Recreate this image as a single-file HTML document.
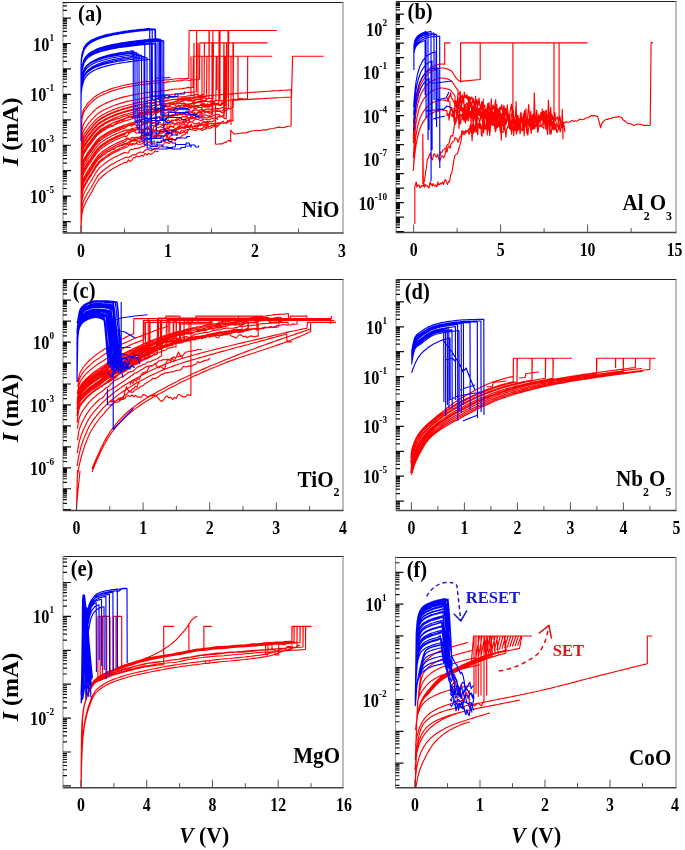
<!DOCTYPE html>
<html><head><meta charset="utf-8"><style>
html,body{margin:0;padding:0;background:#fff;}
svg{display:block;font-family:"Liberation Serif",serif;filter:blur(0.3px);}
</style></head><body>
<svg width="685" height="850" viewBox="0 0 685 850">
<rect width="685" height="850" fill="#fff"/>
<defs><clipPath id="ca"><rect x="63" y="2" width="280" height="231"/></clipPath><clipPath id="cb"><rect x="396" y="1.5" width="280" height="231.0"/></clipPath><clipPath id="cc"><rect x="63" y="279.6" width="280" height="230.79999999999995"/></clipPath><clipPath id="cd"><rect x="396" y="279.6" width="280" height="230.79999999999995"/></clipPath><clipPath id="ce"><rect x="63" y="556.6" width="280" height="231.10000000000002"/></clipPath><clipPath id="cf"><rect x="395.5" y="557" width="280.5" height="230.70000000000005"/></clipPath></defs>
<g clip-path="url(#ca)" fill="none" stroke-width="1.15" stroke-linejoin="round">
<path stroke="#f00" d="M81.0,233.0L81.2,162.3L81.5,136.5L81.7,122.4L81.9,116.5L81.9,116.5L82.7,112.6L83.4,110.1L84.2,108.5L84.9,107.5L85.7,106.5L86.4,105.3L87.2,104.2L87.9,103.2L88.7,102.4L89.4,101.6L90.2,100.8L91.0,100.1L91.7,99.4L92.5,98.7L93.2,98.1L94.0,97.4L94.7,96.8L95.5,96.3L96.2,95.7L97.0,95.2L97.7,94.7L98.5,94.3L99.2,93.9L100.0,93.5L100.0,93.5L101.8,92.6L103.7,91.8L105.5,91.0L107.4,90.3L109.2,89.6L111.1,88.9L112.9,88.3L114.7,87.7L116.6,87.2L118.4,86.7L120.3,86.2L122.1,85.7L123.9,85.3L125.8,84.9L127.6,84.6L129.5,84.2L131.3,83.9L133.2,83.6L135.0,83.4L135.0,83.4L136.6,83.0L138.3,82.7L139.9,82.3L141.5,82.1L143.2,82.0L144.8,81.7L146.4,81.4L148.0,81.5L149.7,81.5L151.3,81.3L152.9,81.1L154.6,81.0L156.2,81.0L157.8,80.7L159.5,80.6L161.1,80.6L162.7,80.3L164.3,80.0L166.0,79.9L167.6,79.8L169.2,79.8L170.9,79.4L172.5,79.2L174.1,79.0L175.8,78.7L177.4,78.7L179.0,78.8L180.7,78.5L182.3,78.7L183.9,78.7L185.5,78.5L187.2,78.4L188.8,78.4L189.1,30.5L277.0,30.5M81.0,233.0L81.2,164.1L81.5,139.0L81.7,125.2L81.9,119.4L81.9,119.4L82.7,115.5L83.4,113.0L84.2,111.4L84.9,110.4L85.7,109.4L86.4,108.2L87.2,107.1L87.9,106.1L88.7,105.2L89.4,104.4L90.2,103.6L91.0,102.9L91.7,102.2L92.5,101.5L93.2,100.8L94.0,100.2L94.7,99.5L95.5,98.9L96.2,98.4L97.0,97.8L97.7,97.3L98.5,96.9L99.2,96.4L100.0,96.0L100.0,96.0L101.8,95.2L103.7,94.3L105.5,93.5L107.4,92.8L109.2,92.0L111.1,91.4L112.9,90.7L114.7,90.1L116.6,89.6L118.4,89.0L120.3,88.5L122.1,88.1L123.9,87.6L125.8,87.2L127.6,86.9L129.5,86.5L131.3,86.2L133.2,85.9L135.0,85.6L135.0,85.6L136.6,85.5L138.2,84.9L139.8,84.8L141.5,84.6L143.1,84.6L144.7,84.2L146.3,84.1L147.9,83.9L149.5,83.6L151.1,83.6L152.7,83.4L154.4,83.3L156.0,83.0L157.6,83.0L159.2,82.9L160.8,82.6L162.4,82.5L164.0,82.5L165.7,82.6L167.3,81.9L168.9,81.9L170.5,81.8L172.1,81.5L173.7,81.1L175.3,81.3L176.9,80.8L178.6,80.9L180.2,81.0L181.8,80.4L183.4,80.3L185.0,80.0L186.6,80.0L188.2,80.3L189.9,80.5L191.5,79.8L193.1,79.6L194.7,79.7L196.3,79.8L197.9,79.7L199.5,79.3L199.8,42.9L267.6,42.9M81.0,233.0L81.2,171.5L81.5,148.9L81.7,136.4L81.9,131.1L81.9,131.1L82.7,127.2L83.4,124.6L84.2,123.0L84.9,121.9L85.7,120.9L86.4,119.7L87.2,118.5L87.9,117.5L88.7,116.6L89.4,115.7L90.2,114.9L91.0,114.1L91.7,113.3L92.5,112.5L93.2,111.7L94.0,111.0L94.7,110.3L95.5,109.6L96.2,108.9L97.0,108.3L97.7,107.7L98.5,107.2L99.2,106.7L100.0,106.2L100.0,106.2L101.8,105.3L103.7,104.3L105.5,103.4L107.4,102.6L109.2,101.8L111.1,101.1L112.9,100.3L114.7,99.7L116.6,99.1L118.4,98.5L120.3,97.9L122.1,97.4L123.9,96.9L125.8,96.5L127.6,96.1L129.5,95.7L131.3,95.3L133.2,94.9L135.0,94.6L135.0,94.6L136.6,94.2L138.2,93.8L139.8,93.7L141.4,93.5L143.1,93.2L144.7,92.9L146.3,92.5L147.9,92.3L149.5,92.4L151.1,92.1L152.7,91.6L154.3,91.7L156.0,91.6L157.6,91.7L159.2,91.3L160.8,90.9L162.4,90.4L164.0,90.5L165.6,90.8L167.2,90.2L168.9,89.9L170.5,89.8L172.1,89.4L173.7,89.2L175.3,89.0L176.9,89.0L178.5,89.0L180.1,88.8L181.8,88.7L183.4,88.4L185.0,88.3L186.6,87.7L188.2,87.4L189.8,87.6L191.4,87.4L193.0,87.5L193.3,56.2L272.3,56.2M81.0,233.0L81.2,175.9L81.5,154.7L81.7,143.0L81.9,137.9L81.9,137.9L82.7,134.0L83.4,131.4L84.2,129.8L84.9,128.7L85.7,127.7L86.4,126.4L87.2,125.2L87.9,124.2L88.7,123.2L89.4,122.3L90.2,121.5L91.0,120.6L91.7,119.7L92.5,118.9L93.2,118.1L94.0,117.3L94.7,116.5L95.5,115.8L96.2,115.1L97.0,114.4L97.7,113.8L98.5,113.2L99.2,112.7L100.0,112.2L100.0,112.2L101.8,111.1L103.7,110.1L105.5,109.2L107.4,108.3L109.2,107.5L111.1,106.7L112.9,106.0L114.7,105.3L116.6,104.6L118.4,104.0L120.3,103.4L122.1,102.9L123.9,102.4L125.8,101.9L127.6,101.4L129.5,101.0L131.3,100.6L133.2,100.2L135.0,99.8L135.0,99.8L136.6,99.7L138.2,99.5L139.9,99.0L141.5,98.6L143.1,98.2L144.7,97.9L146.3,97.5L147.9,97.3L149.6,97.1L151.2,97.0L152.8,96.7L154.4,96.2L156.0,96.1L157.6,96.0L159.3,96.0L160.9,95.8L162.5,95.4L164.1,95.1L165.7,95.3L167.3,95.1L169.0,95.0L170.6,95.0L172.2,94.4L173.8,94.2L175.4,94.0L177.0,93.9L178.7,93.7L180.3,93.4L181.9,93.2L183.5,92.8L185.1,92.7L186.7,92.4L188.4,92.4L190.0,92.2L191.6,92.2L193.2,92.1L194.8,92.0L196.4,91.8L196.7,30.5L277.0,30.5M81.0,233.0L81.2,178.9L81.5,158.7L81.7,147.5L81.9,142.7L81.9,142.7L82.7,138.7L83.4,136.1L84.2,134.5L84.9,133.4L85.7,132.4L86.4,131.1L87.2,129.9L87.9,128.8L88.7,127.9L89.4,126.9L90.2,126.1L91.0,125.2L91.7,124.3L92.5,123.4L93.2,122.6L94.0,121.7L94.7,120.9L95.5,120.1L96.2,119.4L97.0,118.7L97.7,118.0L98.5,117.4L99.2,116.9L100.0,116.4L100.0,116.4L101.8,115.3L103.7,114.2L105.5,113.3L107.4,112.3L109.2,111.5L111.1,110.7L112.9,109.9L114.7,109.2L116.6,108.5L118.4,107.9L120.3,107.3L122.1,106.7L123.9,106.2L125.8,105.7L127.6,105.2L129.5,104.7L131.3,104.3L133.2,103.8L135.0,103.4L135.0,103.4L136.6,102.9L138.2,102.4L139.8,102.4L141.4,102.2L143.0,102.1L144.6,101.2L146.2,101.5L147.9,100.8L149.5,100.3L151.1,100.2L152.7,99.8L154.3,99.9L155.9,99.5L157.5,98.9L159.1,98.5L160.7,99.2L162.3,98.9L163.9,98.2L165.5,98.1L167.1,97.3L168.7,98.3L170.3,97.3L171.9,97.5L173.6,97.5L175.2,96.6L176.8,96.8L178.4,97.1L180.0,97.0L181.6,96.8L183.2,96.8L184.8,96.5L186.4,96.3L188.0,95.9L189.6,95.9L191.2,95.2L192.8,95.4L194.4,95.0L196.0,94.4L197.6,94.6L199.3,95.2L200.9,95.3L202.5,94.5L204.1,94.6L204.4,42.9L267.6,42.9M81.0,233.0L81.2,181.3L81.5,161.9L81.7,151.2L81.9,146.5L81.9,146.5L82.7,142.5L83.4,139.9L84.2,138.3L84.9,137.2L85.7,136.1L86.4,134.8L87.2,133.6L87.9,132.5L88.7,131.6L89.4,130.6L90.2,129.7L91.0,128.8L91.7,127.9L92.5,127.0L93.2,126.1L94.0,125.2L94.7,124.4L95.5,123.6L96.2,122.8L97.0,122.1L97.7,121.4L98.5,120.8L99.2,120.2L100.0,119.7L100.0,119.7L101.8,118.5L103.7,117.5L105.5,116.5L107.4,115.5L109.2,114.6L111.1,113.8L112.9,113.0L114.7,112.3L116.6,111.6L118.4,110.9L120.3,110.3L122.1,109.7L123.9,109.2L125.8,108.7L127.6,108.2L129.5,107.7L131.3,107.2L133.2,106.8L135.0,106.4L135.0,106.4L136.6,106.0L138.3,104.9L139.9,104.9L141.5,104.4L143.1,104.1L144.8,103.5L146.4,103.1L148.0,102.9L149.7,103.3L151.3,103.7L152.9,103.2L154.5,103.3L156.2,102.7L157.8,101.7L159.4,101.7L161.0,101.7L162.7,101.3L164.3,101.3L165.9,101.2L167.6,100.6L169.2,100.0L170.8,99.9L172.4,99.8L174.1,99.6L175.7,99.8L177.3,100.2L179.0,99.5L180.6,99.5L182.2,99.5L183.8,99.3L185.5,99.2L187.1,98.6L188.7,98.6L190.4,98.9L192.0,98.7L193.6,97.9L195.2,97.9L196.9,98.0L198.5,97.7L200.1,97.1L201.8,97.4L203.4,96.6L205.0,96.7L206.6,96.5L206.9,56.2L272.3,56.2M81.0,233.0L81.2,183.2L81.5,164.5L81.7,154.1L81.9,149.6L81.9,149.6L82.7,145.5L83.4,142.9L84.2,141.3L84.9,140.2L85.7,139.1L86.4,137.8L87.2,136.6L87.9,135.5L88.7,134.5L89.4,133.6L90.2,132.6L91.0,131.7L91.7,130.8L92.5,129.8L93.2,128.9L94.0,128.0L94.7,127.2L95.5,126.3L96.2,125.5L97.0,124.8L97.7,124.1L98.5,123.4L99.2,122.8L100.0,122.3L100.0,122.3L101.8,121.2L103.7,120.1L105.5,119.0L107.4,118.1L109.2,117.2L111.1,116.3L112.9,115.5L114.7,114.8L116.6,114.1L118.4,113.4L120.3,112.8L122.1,112.2L123.9,111.6L125.8,111.1L127.6,110.5L129.5,110.0L131.3,109.6L133.2,109.1L135.0,108.7L135.0,108.7L136.6,108.9L138.2,107.7L139.8,107.8L141.4,107.2L143.0,105.9L144.7,105.7L146.3,105.9L147.9,106.1L149.5,105.9L151.1,105.6L152.7,105.6L154.3,105.1L155.9,105.4L157.5,104.9L159.1,104.6L160.8,104.5L162.4,103.5L164.0,102.9L165.6,103.7L167.2,103.4L168.8,102.9L170.4,102.8L172.0,102.2L173.6,102.1L175.2,101.5L176.9,101.6L178.5,100.6L180.1,101.4L181.7,100.8L183.3,99.9L184.9,99.9L186.5,99.8L188.1,100.0L189.7,99.3L191.3,99.6L192.9,101.5L194.6,99.9L196.2,99.8L197.8,99.3L199.4,99.2L201.0,98.0L202.6,97.6L204.2,98.1L205.8,98.1L207.4,99.0L209.0,98.2L209.3,30.5L277.0,30.5M81.0,233.0L81.2,183.9L81.5,165.4L81.7,155.1L81.9,150.6L81.9,150.6L82.7,146.6L83.4,144.0L84.2,142.4L84.9,141.2L85.7,140.2L86.4,138.8L87.2,137.6L87.9,136.5L88.7,135.5L89.4,134.6L90.2,133.7L91.0,132.7L91.7,131.8L92.5,130.8L93.2,129.9L94.0,129.0L94.7,128.2L95.5,127.3L96.2,126.5L97.0,125.7L97.7,125.0L98.5,124.4L99.2,123.8L100.0,123.2L100.0,123.2L101.8,122.1L103.7,121.0L105.5,119.9L107.4,119.0L109.2,118.1L111.1,117.2L112.9,116.4L114.7,115.6L116.6,114.9L118.4,114.3L120.3,113.6L122.1,113.0L123.9,112.4L125.8,111.9L127.6,111.4L129.5,110.9L131.3,110.4L133.2,109.9L135.0,109.5L135.0,109.5L136.6,109.5L138.3,108.6L139.9,108.3L141.5,108.0L143.1,108.1L144.8,107.7L146.4,107.0L148.0,106.8L149.7,107.7L151.3,107.5L152.9,105.5L154.5,105.4L156.2,104.9L157.8,105.1L159.4,104.8L161.0,105.4L162.7,105.2L164.3,105.0L165.9,104.5L167.6,104.0L169.2,103.8L170.8,103.9L172.4,103.6L174.1,103.0L175.7,103.2L177.3,102.8L179.0,102.3L180.6,101.7L182.2,101.3L183.8,101.0L185.5,99.8L187.1,100.6L188.7,100.9L190.3,100.6L192.0,100.9L193.6,100.8L195.2,100.6L196.9,99.2L198.5,99.3L200.1,99.6L201.7,100.1L203.4,100.5L205.0,100.5L206.6,99.3L208.3,98.1L209.9,98.5L211.5,98.5L213.1,98.8L213.4,42.9L267.6,42.9M81.0,233.0L81.2,185.8L81.5,168.0L81.7,158.0L81.9,153.6L81.9,153.6L82.7,149.6L83.4,147.0L84.2,145.4L84.9,144.2L85.7,143.1L86.4,141.8L87.2,140.6L87.9,139.5L88.7,138.5L89.4,137.5L90.2,136.6L91.0,135.6L91.7,134.6L92.5,133.7L93.2,132.7L94.0,131.8L94.7,130.9L95.5,130.1L96.2,129.2L97.0,128.4L97.7,127.7L98.5,127.0L99.2,126.4L100.0,125.9L100.0,125.9L101.8,124.7L103.7,123.6L105.5,122.5L107.4,121.5L109.2,120.6L111.1,119.7L112.9,118.9L114.7,118.1L116.6,117.4L118.4,116.7L120.3,116.0L122.1,115.4L123.9,114.8L125.8,114.3L127.6,113.8L129.5,113.2L131.3,112.7L133.2,112.3L135.0,111.8L135.0,111.8L136.6,110.4L138.2,110.8L139.9,110.2L141.5,110.3L143.1,110.3L144.7,109.8L146.3,109.7L147.9,109.3L149.6,109.4L151.2,109.3L152.8,108.3L154.4,107.5L156.0,108.7L157.7,107.9L159.3,108.2L160.9,107.8L162.5,106.7L164.1,105.8L165.7,105.9L167.4,105.9L169.0,106.0L170.6,104.7L172.2,104.3L173.8,104.3L175.4,105.5L177.1,103.2L178.7,103.8L180.3,103.3L181.9,103.7L183.5,103.1L185.2,103.4L186.8,104.3L188.4,103.9L190.0,103.7L191.6,103.4L193.2,102.3L194.9,102.6L196.5,102.1L198.1,101.3L199.7,101.3L201.3,101.1L203.0,101.7L204.6,101.4L206.2,100.8L207.8,101.8L209.4,102.0L211.0,102.3L212.7,101.9L214.3,101.1L215.9,100.3L216.2,56.2L272.3,56.2M81.0,233.0L81.2,188.9L81.5,172.2L81.7,162.8L81.9,158.6L81.9,158.6L82.7,154.6L83.4,152.0L84.2,150.3L84.9,149.2L85.7,148.0L86.4,146.7L87.2,145.4L87.9,144.3L88.7,143.3L89.4,142.3L90.2,141.4L91.0,140.4L91.7,139.4L92.5,138.4L93.2,137.4L94.0,136.4L94.7,135.5L95.5,134.6L96.2,133.7L97.0,132.9L97.7,132.1L98.5,131.4L99.2,130.8L100.0,130.2L100.0,130.2L101.8,129.0L103.7,127.8L105.5,126.7L107.4,125.7L109.2,124.7L111.1,123.8L112.9,123.0L114.7,122.2L116.6,121.4L118.4,120.7L120.3,120.0L122.1,119.4L123.9,118.8L125.8,118.2L127.6,117.7L129.5,117.1L131.3,116.6L133.2,116.1L135.0,115.6L135.0,115.6L136.6,115.7L138.2,114.1L139.8,114.0L141.4,112.9L143.1,113.1L144.7,112.3L146.3,111.6L147.9,111.9L149.5,111.9L151.1,110.7L152.7,111.5L154.3,112.7L155.9,111.0L157.6,112.0L159.2,110.8L160.8,110.2L162.4,109.9L164.0,108.7L165.6,109.8L167.2,109.7L168.8,108.8L170.4,108.5L172.1,107.4L173.7,107.4L175.3,108.1L176.9,106.7L178.5,106.6L180.1,106.9L181.7,107.5L183.3,108.0L184.9,107.1L186.6,106.2L188.2,106.4L189.8,106.0L191.4,105.6L193.0,106.3L194.6,107.0L196.2,106.4L197.8,105.7L199.4,105.7L201.1,104.0L202.7,104.1L204.3,103.5L205.9,105.3L207.5,105.2L209.1,104.7L210.7,104.1L212.3,102.2L213.9,103.1L215.6,104.2L217.2,103.2L218.8,103.5L219.1,30.5L277.0,30.5M81.0,233.0L81.2,189.1L81.5,172.3L81.7,163.0L81.9,158.8L81.9,158.8L82.7,154.8L83.4,152.2L84.2,150.5L84.9,149.3L85.7,148.2L86.4,146.9L87.2,145.6L87.9,144.5L88.7,143.5L89.4,142.5L90.2,141.5L91.0,140.5L91.7,139.6L92.5,138.6L93.2,137.6L94.0,136.6L94.7,135.7L95.5,134.8L96.2,133.9L97.0,133.1L97.7,132.3L98.5,131.6L99.2,131.0L100.0,130.4L100.0,130.4L101.8,129.1L103.7,128.0L105.5,126.9L107.4,125.9L109.2,124.9L111.1,124.0L112.9,123.1L114.7,122.3L116.6,121.6L118.4,120.9L120.3,120.2L122.1,119.6L123.9,119.0L125.8,118.4L127.6,117.8L129.5,117.3L131.3,116.7L133.2,116.3L135.0,115.8L135.0,115.8L136.6,115.4L138.2,116.1L139.8,115.4L141.4,114.7L143.1,114.8L144.7,112.9L146.3,112.9L147.9,113.5L149.5,112.0L151.1,112.7L152.7,111.9L154.3,110.0L155.9,110.3L157.5,109.7L159.2,110.2L160.8,109.2L162.4,110.3L164.0,109.4L165.6,109.7L167.2,108.9L168.8,108.6L170.4,109.5L172.0,109.2L173.7,108.4L175.3,107.2L176.9,108.3L178.5,108.5L180.1,107.7L181.7,107.6L183.3,106.4L184.9,105.7L186.5,105.3L188.1,105.9L189.8,106.2L191.4,105.4L193.0,106.1L194.6,106.4L196.2,106.1L197.8,106.5L199.4,105.6L201.0,105.1L202.6,105.3L204.3,104.9L205.9,105.2L207.5,103.8L209.1,104.9L210.7,103.8L212.3,103.6L213.9,102.4L215.5,103.2L217.1,104.2L218.7,104.6L220.4,104.5L222.0,102.5L223.6,101.9L223.9,42.9L267.6,42.9M81.0,233.0L81.2,190.9L81.5,174.8L81.7,165.8L81.9,161.7L81.9,161.7L82.7,157.7L83.4,155.1L84.2,153.4L84.9,152.2L85.7,151.1L86.4,149.8L87.2,148.5L87.9,147.4L88.7,146.3L89.4,145.4L90.2,144.4L91.0,143.3L91.7,142.3L92.5,141.3L93.2,140.3L94.0,139.3L94.7,138.4L95.5,137.4L96.2,136.5L97.0,135.7L97.7,134.9L98.5,134.2L99.2,133.5L100.0,132.9L100.0,132.9L101.8,131.7L103.7,130.5L105.5,129.4L107.4,128.3L109.2,127.3L111.1,126.4L112.9,125.5L114.7,124.7L116.6,124.0L118.4,123.2L120.3,122.6L122.1,121.9L123.9,121.3L125.8,120.7L127.6,120.1L129.5,119.6L131.3,119.0L133.2,118.5L135.0,118.0L135.0,118.0L136.6,118.0L138.2,117.6L139.9,117.0L141.5,116.9L143.1,115.7L144.7,114.8L146.3,114.2L147.9,114.7L149.6,114.8L151.2,114.9L152.8,115.2L154.4,113.4L156.0,112.8L157.7,112.9L159.3,111.7L160.9,111.5L162.5,112.4L164.1,112.9L165.7,113.1L167.4,112.3L169.0,111.5L170.6,111.9L172.2,111.0L173.8,110.9L175.5,111.4L177.1,110.4L178.7,109.5L180.3,109.3L181.9,109.6L183.6,109.6L185.2,109.3L186.8,109.3L188.4,107.6L190.0,107.0L191.6,107.4L193.3,106.7L194.9,106.0L196.5,105.5L198.1,105.4L199.7,105.8L201.4,105.3L203.0,105.9L204.6,107.3L206.2,106.7L207.8,107.3L209.4,106.9L211.1,105.5L212.7,105.3L214.3,104.5L215.9,105.3L217.5,104.3L219.2,105.5L220.8,105.6L222.4,103.6L224.0,104.5L225.6,105.5L225.9,56.2L272.3,56.2M81.0,233.0L81.2,194.2L81.5,179.2L81.7,170.8L81.9,166.9L81.9,166.9L82.7,162.9L83.4,160.2L84.2,158.6L84.9,157.4L85.7,156.2L86.4,154.8L87.2,153.6L87.9,152.4L88.7,151.4L89.4,150.4L90.2,149.3L91.0,148.3L91.7,147.2L92.5,146.2L93.2,145.1L94.0,144.1L94.7,143.1L95.5,142.1L96.2,141.2L97.0,140.3L97.7,139.5L98.5,138.7L99.2,138.0L100.0,137.4L100.0,137.4L101.8,136.1L103.7,134.9L105.5,133.7L107.4,132.7L109.2,131.6L111.1,130.7L112.9,129.8L114.7,129.0L116.6,128.2L118.4,127.4L120.3,126.7L122.1,126.0L123.9,125.4L125.8,124.8L127.6,124.2L129.5,123.6L131.3,123.0L133.2,122.5L135.0,122.0L135.0,122.0L136.6,120.6L138.2,120.8L139.8,119.3L141.4,119.8L143.0,118.3L144.7,116.6L146.3,117.7L147.9,119.7L149.5,118.6L151.1,118.8L152.7,118.3L154.3,117.6L155.9,117.7L157.5,118.4L159.1,116.6L160.8,116.7L162.4,116.5L164.0,114.9L165.6,116.1L167.2,117.0L168.8,115.3L170.4,116.1L172.0,115.3L173.6,114.5L175.2,115.2L176.9,114.5L178.5,114.1L180.1,114.6L181.7,114.7L183.3,114.4L184.9,112.4L186.5,110.9L188.1,112.0L189.7,111.0L191.3,111.2L193.0,110.3L194.6,110.3L196.2,109.4L197.8,111.0L199.4,109.9L201.0,109.8L202.6,109.7L204.2,110.6L205.8,109.0L207.4,109.1L209.1,108.9L210.7,109.3L212.3,109.5L213.9,108.8L215.5,108.8L217.1,108.3L218.7,108.6L220.3,108.3L221.9,107.6L223.5,107.6L225.1,107.8L226.8,109.3L228.4,108.1L228.7,30.5L277.0,30.5M81.0,233.0L81.2,195.3L81.5,180.7L81.7,172.4L81.9,168.7L81.9,168.7L82.7,164.6L83.4,162.0L84.2,160.3L84.9,159.1L85.7,158.0L86.4,156.6L87.2,155.3L87.9,154.1L88.7,153.1L89.4,152.1L90.2,151.0L91.0,150.0L91.7,148.9L92.5,147.8L93.2,146.8L94.0,145.7L94.7,144.7L95.5,143.7L96.2,142.8L97.0,141.9L97.7,141.0L98.5,140.3L99.2,139.6L100.0,139.0L100.0,139.0L101.8,137.6L103.7,136.4L105.5,135.2L107.4,134.1L109.2,133.1L111.1,132.1L112.9,131.2L114.7,130.4L116.6,129.6L118.4,128.8L120.3,128.1L122.1,127.4L123.9,126.8L125.8,126.2L127.6,125.5L129.5,125.0L131.3,124.4L133.2,123.8L135.0,123.3L135.0,123.3L136.6,122.0L138.2,120.6L139.8,120.0L141.4,120.3L143.1,122.3L144.7,121.8L146.3,122.0L147.9,120.9L149.5,118.4L151.1,116.8L152.7,118.3L154.3,118.5L155.9,117.3L157.5,118.3L159.2,116.8L160.8,117.7L162.4,118.5L164.0,117.1L165.6,115.9L167.2,116.5L168.8,115.3L170.4,116.0L172.0,114.7L173.7,115.4L175.3,115.1L176.9,114.5L178.5,113.6L180.1,113.9L181.7,112.3L183.3,112.5L184.9,112.5L186.5,113.2L188.1,112.0L189.8,113.5L191.4,112.8L193.0,111.6L194.6,112.8L196.2,113.6L197.8,112.6L199.4,111.4L201.0,111.3L202.6,110.6L204.3,110.4L205.9,111.7L207.5,111.5L209.1,111.1L210.7,110.9L212.3,110.5L213.9,110.8L215.5,111.0L217.1,110.1L218.8,109.8L220.4,111.4L222.0,110.7L223.6,109.8L225.2,110.9L226.8,109.9L228.4,108.4L230.0,108.9L231.6,107.8L233.2,107.5L233.5,42.9L267.6,42.9M81.0,233.0L81.2,196.5L81.5,182.3L81.7,174.3L81.9,170.6L81.9,170.6L82.7,166.6L83.4,163.9L84.2,162.2L84.9,161.0L85.7,159.9L86.4,158.5L87.2,157.2L87.9,156.0L88.7,155.0L89.4,153.9L90.2,152.9L91.0,151.8L91.7,150.8L92.5,149.7L93.2,148.6L94.0,147.5L94.7,146.5L95.5,145.5L96.2,144.5L97.0,143.6L97.7,142.8L98.5,142.0L99.2,141.3L100.0,140.7L100.0,140.7L101.8,139.4L103.6,138.1L105.4,137.0L107.1,135.9L108.9,134.9L110.7,133.9L112.5,133.0L114.3,132.2L116.1,131.4L117.9,130.6L119.6,129.9L121.4,129.2L123.2,128.6L125.0,128.0L125.0,128.0L126.6,126.6L128.3,125.8L129.9,125.1L131.5,126.3L133.1,124.9L134.8,124.0L136.4,125.9L138.0,124.3L139.7,125.2L141.3,125.4L142.9,124.0L144.5,121.7L146.2,122.0L147.8,122.3L149.4,122.6L151.0,121.8L152.7,122.3L154.3,122.6L155.9,122.0L157.6,121.2L159.2,120.4L160.8,119.1L162.4,118.4L164.1,120.0L165.7,120.0L167.3,117.1L169.0,117.1L170.6,116.8L172.2,116.5L173.8,115.8L175.5,114.4L177.1,115.7L178.7,114.6L180.3,114.5L182.0,114.0L183.6,113.5L185.2,114.6L186.9,114.8L188.5,113.8L190.1,112.8L191.7,112.7L193.4,113.9L195.0,113.7L196.6,113.6L198.3,112.9L199.9,112.5L201.5,112.6L203.1,110.6L204.8,112.7L206.4,111.6L208.0,111.0L209.6,112.5M81.0,233.0L81.2,198.5L81.5,185.0L81.7,177.3L81.9,173.7L81.9,173.7L82.7,169.7L83.4,167.1L84.2,165.3L84.9,164.1L85.7,163.0L86.4,161.5L87.2,160.2L87.9,159.1L88.7,158.0L89.4,157.0L90.2,155.9L91.0,154.8L91.7,153.7L92.5,152.6L93.2,151.5L94.0,150.4L94.7,149.4L95.5,148.3L96.2,147.4L97.0,146.4L97.7,145.5L98.5,144.7L99.2,144.0L100.0,143.4L100.0,143.4L101.8,142.1L103.6,140.8L105.4,139.6L107.1,138.5L108.9,137.5L110.7,136.5L112.5,135.6L114.3,134.8L116.1,133.9L117.9,133.2L119.6,132.4L121.4,131.7L123.2,131.1L125.0,130.4L125.0,130.4L126.6,129.8L128.2,130.9L129.8,129.3L131.4,128.8L133.0,128.3L134.6,128.1L136.2,127.6L137.8,127.2L139.4,127.2L141.0,125.2L142.6,124.9L144.2,123.7L145.8,123.9L147.4,122.9L149.0,122.3L150.6,122.4L152.2,123.4L153.8,123.3L155.4,122.9L157.1,123.4L158.7,121.8L160.3,119.8L161.9,119.8L163.5,119.7L165.1,120.7L166.7,121.8L168.3,119.8L169.9,121.3L171.5,121.4L173.1,120.8L174.7,120.0L176.3,121.0L177.9,119.7L179.5,118.4L181.1,118.0L182.7,116.5L184.3,116.9L185.9,116.6L187.5,116.7L189.1,121.0L190.7,115.5L192.3,116.5L193.9,115.3L195.5,115.9L197.1,114.3L198.7,116.2L200.3,114.1L201.9,114.2L203.5,113.7L205.1,112.2L206.7,112.0L208.3,112.7L209.9,113.4L211.5,112.3L213.1,111.0L214.7,111.1L216.3,111.6L217.9,111.5L219.6,111.3L221.2,112.3L222.8,112.9L224.4,113.1L224.7,56.2M81.0,233.0L81.2,200.5L81.5,187.7L81.7,180.4L81.9,176.9L81.9,176.9L82.7,172.9L83.4,170.3L84.2,168.6L84.9,167.3L85.7,166.1L86.4,164.7L87.2,163.4L87.9,162.2L88.7,161.1L89.4,160.1L90.2,159.0L91.0,157.9L91.7,156.8L92.5,155.6L93.2,154.5L94.0,153.4L94.7,152.3L95.5,151.3L96.2,150.3L97.0,149.3L97.7,148.4L98.5,147.6L99.2,146.8L100.0,146.2L100.0,146.2L101.8,144.8L103.6,143.6L105.4,142.4L107.1,141.2L108.9,140.2L110.7,139.2L112.5,138.3L114.3,137.4L116.1,136.6L117.9,135.8L119.6,135.0L121.4,134.3L123.2,133.6L125.0,133.0L125.0,133.0L126.6,132.0L128.2,129.8L129.9,131.9L131.5,129.5L133.1,129.2L134.7,129.8L136.4,129.7L138.0,129.6L139.6,129.6L141.2,130.0L142.8,129.0L144.5,130.9L146.1,128.0L147.7,127.3L149.3,126.2L151.0,125.1L152.6,125.2L154.2,126.3L155.8,124.7L157.5,123.5L159.1,124.2L160.7,124.2L162.3,125.5L163.9,125.3L165.6,124.2L167.2,124.0L168.8,122.5L170.4,121.7L172.1,120.0L173.7,120.2L175.3,120.0L176.9,118.7L178.5,119.3L180.2,121.0L181.8,121.0L183.4,121.1L185.0,119.5L186.7,118.0L188.3,117.8L189.9,118.1L191.5,117.6L193.1,117.4L194.8,117.6L196.4,118.1L198.0,116.6L199.6,116.2L201.3,115.7L202.9,116.1L204.5,114.9L206.1,115.1L207.7,116.1L209.4,115.9L211.0,114.7L212.6,114.3L212.9,30.5M81.0,233.0L81.2,201.5L81.5,189.0L81.7,181.9L81.9,178.5L81.9,178.5L82.7,174.5L83.4,171.8L84.2,170.1L84.9,168.9L85.7,167.7L86.4,166.2L87.2,164.9L87.9,163.7L88.7,162.6L89.4,161.6L90.2,160.5L91.0,159.4L91.7,158.3L92.5,157.1L93.2,156.0L94.0,154.9L94.7,153.8L95.5,152.7L96.2,151.7L97.0,150.7L97.7,149.8L98.5,149.0L99.2,148.2L100.0,147.6L100.0,147.6L101.8,146.2L103.6,144.9L105.4,143.7L107.1,142.5L108.9,141.5L110.7,140.5L112.5,139.5L114.3,138.7L116.1,137.8L117.9,137.0L119.6,136.3L121.4,135.6L123.2,134.9L125.0,134.2L125.0,134.2L126.6,132.3L128.2,132.8L129.9,131.4L131.5,130.5L133.1,129.6L134.7,130.6L136.3,130.1L137.9,127.8L139.6,128.8L141.2,130.5L142.8,131.1L144.4,129.2L146.0,128.5L147.7,128.3L149.3,128.4L150.9,127.5L152.5,130.7L154.1,126.3L155.7,126.4L157.4,124.5L159.0,124.1L160.6,124.3L162.2,124.1L163.8,124.3L165.5,124.5L167.1,124.3L168.7,123.4L170.3,121.7L171.9,122.3L173.6,123.3L175.2,124.2L176.8,122.9L178.4,122.0L180.0,122.7L181.6,123.0L183.3,122.1L184.9,121.8L186.5,120.2L188.1,120.3L189.7,119.0L191.4,118.8L193.0,118.6L194.6,118.1L196.2,116.2L197.8,116.1L199.4,117.1L201.1,117.2L202.7,116.9L204.3,117.3L205.9,117.8L207.5,118.1L209.2,117.3L210.8,116.6L212.4,116.1L214.0,115.3L215.6,114.2L217.2,114.7L218.9,114.2L220.5,116.6L222.1,115.9L223.7,115.3L224.0,42.9M81.0,233.0L81.2,203.0L81.5,191.0L81.7,184.1L81.9,180.9L81.9,180.9L82.7,176.8L83.4,174.2L84.2,172.4L84.9,171.2L85.7,170.0L86.4,168.5L87.2,167.2L87.9,166.0L88.7,164.9L89.4,163.8L90.2,162.8L91.0,161.6L91.7,160.5L92.5,159.3L93.2,158.2L94.0,157.0L94.7,155.9L95.5,154.8L96.2,153.8L97.0,152.8L97.7,151.9L98.5,151.0L99.2,150.3L100.0,149.6L100.0,149.6L101.8,148.2L103.6,146.9L105.4,145.7L107.1,144.5L108.9,143.4L110.7,142.4L112.5,141.5L114.3,140.6L116.1,139.7L117.9,138.9L119.6,138.2L121.4,137.5L123.2,136.8L125.0,136.1L125.0,136.1L126.6,136.5L128.2,134.4L129.8,132.3L131.4,132.1L133.0,131.2L134.7,131.2L136.3,133.3L137.9,132.9L139.5,131.7L141.1,132.4L142.7,132.4L144.3,130.8L145.9,128.6L147.5,129.4L149.1,129.5L150.7,131.0L152.3,130.9L154.0,130.1L155.6,130.3L157.2,127.8L158.8,127.3L160.4,126.5L162.0,127.6L163.6,127.1L165.2,123.4L166.8,125.1L168.4,123.7L170.0,124.6L171.6,123.7L173.3,123.8L174.9,124.0L176.5,123.7L178.1,122.3L179.7,123.5L181.3,123.2L182.9,122.6L184.5,122.7L186.1,121.6L187.7,123.0L189.3,122.3L190.9,121.9L192.6,121.5L194.2,120.1L195.8,118.9L197.4,119.4L199.0,119.7L200.6,120.7L202.2,120.4L203.8,118.8L205.4,119.2L207.0,119.6L208.6,119.9L210.2,119.5L211.9,117.7L213.5,118.7L215.1,117.5L216.7,118.0L218.3,116.2L219.9,117.2L221.5,116.3L223.1,117.4L224.7,118.6L226.3,118.7L226.6,42.9M81.0,233.0L81.2,205.9L81.5,194.9L81.7,188.5L81.9,185.4L81.9,185.4L82.7,181.4L83.4,178.8L84.2,177.0L84.9,175.7L85.7,174.5L86.4,173.0L87.2,171.7L87.9,170.5L88.7,169.4L89.4,168.3L90.2,167.2L91.0,166.0L91.7,164.8L92.5,163.6L93.2,162.4L94.0,161.3L94.7,160.1L95.5,159.0L96.2,157.9L97.0,156.9L97.7,155.9L98.5,155.1L99.2,154.3L100.0,153.6L100.0,153.6L101.8,152.2L103.6,150.8L105.4,149.6L107.1,148.4L108.9,147.3L110.7,146.2L112.5,145.3L114.3,144.3L116.1,143.5L117.9,142.6L119.6,141.9L121.4,141.1L123.2,140.4L125.0,139.7L125.0,139.7L126.6,138.0L128.2,138.3L129.8,139.5L131.4,137.9L133.0,137.4L134.6,138.0L136.2,137.4L137.8,137.4L139.5,137.1L141.1,135.9L142.7,132.5L144.3,135.3L145.9,134.0L147.5,134.9L149.1,131.4L150.7,130.2L152.3,132.0L153.9,131.8L155.5,130.3L157.1,130.4L158.7,131.1L160.3,129.6L161.9,130.0L163.5,129.1L165.2,128.5L166.8,128.0L168.4,128.9L170.0,126.9L171.6,126.3L173.2,127.0L174.8,124.7L176.4,123.7L178.0,125.0L179.6,125.0L181.2,124.8L182.8,124.8L184.4,123.6L186.0,126.9L187.6,124.6L189.2,121.3L190.8,122.0L192.5,122.0L194.1,124.0L195.7,123.4L197.3,123.7L198.9,122.5L200.5,124.3L202.1,123.4L203.7,121.3L205.3,122.2L206.9,121.4L208.5,121.8L210.1,121.5L211.7,121.7L213.3,121.2L214.9,119.8L216.5,118.3L218.1,119.9M81.0,233.0L81.2,207.4L81.5,196.9L81.7,190.8L81.9,187.8L81.9,187.8L82.7,183.8L83.4,181.1L84.2,179.4L84.9,178.0L85.7,176.8L86.4,175.3L87.2,174.0L87.9,172.8L88.7,171.7L89.4,170.5L90.2,169.4L91.0,168.2L91.7,167.0L92.5,165.8L93.2,164.6L94.0,163.4L94.7,162.3L95.5,161.1L96.2,160.0L97.0,159.0L97.7,158.0L98.5,157.1L99.2,156.3L100.0,155.6L100.0,155.6L101.8,154.2L103.6,152.8L105.4,151.5L107.1,150.3L108.9,149.2L110.7,148.2L112.5,147.2L114.3,146.2L116.1,145.4L117.9,144.5L119.6,143.8L121.4,143.0L123.2,142.3L125.0,141.6L125.0,141.6L126.6,140.3L128.2,138.6L129.9,140.1L131.5,140.3L133.1,140.0L134.7,138.2L136.3,137.2L138.0,138.2L139.6,137.8L141.2,136.0L142.8,135.5L144.4,135.2L146.0,134.5L147.7,133.2L149.3,134.3L150.9,134.1L152.5,133.2L154.1,131.3L155.8,130.9L157.4,131.0L159.0,131.7L160.6,130.8L162.2,131.5L163.9,130.9L165.5,129.6L167.1,126.9L168.7,126.6L170.3,126.0L172.0,126.7L173.6,127.4L175.2,128.6L176.8,128.0L178.4,126.5L180.0,128.6L181.7,128.0L183.3,127.0L184.9,126.2L186.5,124.8L188.1,126.0L189.8,125.6L191.4,126.7L193.0,126.8L194.6,126.6L196.2,126.7L197.9,125.3L199.5,124.2L201.1,123.9L202.7,122.5L204.3,122.6L205.9,122.4L207.6,123.0L209.2,122.8M81.0,233.0L81.2,208.9L81.5,198.9L81.7,193.0L81.9,190.1L81.9,190.1L82.7,186.1L83.4,183.5L84.2,181.7L84.9,180.4L85.7,179.1L86.4,177.6L87.2,176.3L87.9,175.1L88.7,173.9L89.4,172.8L90.2,171.7L91.0,170.5L91.7,169.3L92.5,168.0L93.2,166.8L94.0,165.6L94.7,164.4L95.5,163.2L96.2,162.1L97.0,161.1L97.7,160.1L98.5,159.2L99.2,158.4L100.0,157.7L100.0,157.7L101.8,156.2L103.6,154.8L105.4,153.5L107.1,152.3L108.9,151.2L110.7,150.1L112.5,149.1L114.3,148.2L116.1,147.3L117.9,146.4L119.6,145.6L121.4,144.9L123.2,144.1L125.0,143.4L125.0,143.4L126.6,144.1L128.2,142.7L129.8,142.9L131.4,141.2L133.0,141.3L134.6,140.9L136.2,140.4L137.8,141.0L139.5,140.8L141.1,138.8L142.7,138.9L144.3,136.2L145.9,137.2L147.5,139.3L149.1,138.2L150.7,137.4L152.3,136.3L153.9,136.2L155.5,134.8L157.1,134.9L158.7,133.8L160.3,132.9L161.9,132.8L163.5,131.6L165.1,130.3L166.7,132.8L168.4,132.1L170.0,129.8L171.6,131.1L173.2,130.6L174.8,130.4L176.4,130.7L178.0,129.1L179.6,126.0L181.2,126.9L182.8,127.6L184.4,128.7L186.0,127.5L187.6,127.2L189.2,127.6L190.8,127.0L192.4,126.6L194.0,126.8L195.7,125.5L197.3,127.3L198.9,125.7L200.5,125.7L202.1,125.2L203.7,124.4L205.3,125.1L206.9,126.0L208.5,126.8L210.1,126.4L211.7,125.0L213.3,125.4L214.9,123.2L216.5,123.4L218.1,123.9L219.7,124.1L221.3,122.5L223.0,121.1L224.6,123.3L226.2,122.4L227.8,120.7L229.4,120.0L231.0,120.7M81.0,233.0L81.2,211.2L81.5,201.9L81.7,196.5L81.9,193.7L81.9,193.7L82.7,189.8L83.4,187.1L84.2,185.3L84.9,184.0L85.7,182.7L86.4,181.2L87.2,179.8L87.9,178.6L88.7,177.4L89.4,176.3L90.2,175.1L91.0,173.9L91.7,172.7L92.5,171.4L93.2,170.2L94.0,168.9L94.7,167.7L95.5,166.5L96.2,165.4L97.0,164.3L97.7,163.3L98.5,162.4L99.2,161.5L100.0,160.8L100.0,160.8L101.8,159.3L103.6,157.9L105.4,156.6L107.1,155.3L108.9,154.2L110.7,153.1L112.5,152.1L114.3,151.1L116.1,150.2L117.9,149.4L119.6,148.5L121.4,147.8L123.2,147.0L125.0,146.3L125.0,146.3L126.6,144.0L128.2,144.7L129.8,144.7L131.5,143.7L133.1,143.5L134.7,144.3L136.3,142.9L137.9,141.2L139.5,142.4L141.1,141.8L142.8,140.8L144.4,142.6L146.0,141.3L147.6,139.9L149.2,139.4L150.8,138.3L152.4,138.1L154.1,137.7L155.7,137.8L157.3,136.0L158.9,136.2L160.5,136.2L162.1,136.3L163.7,136.4L165.4,135.7L167.0,135.5L168.6,134.2L170.2,133.5L171.8,134.3L173.4,131.4L175.0,132.1L176.7,135.3L178.3,131.8L179.9,133.1L181.5,130.3L183.1,130.8L184.7,132.3L186.3,132.9L188.0,130.6L189.6,128.7L191.2,124.0L192.8,128.7L194.4,128.3L196.0,128.3L197.6,128.5L199.3,128.7L200.9,128.8L202.5,128.4L204.1,126.2L205.7,128.0L207.3,124.6L208.9,126.7L210.6,125.9L212.2,125.8L213.8,125.3L215.4,125.1L217.0,125.2L218.6,125.0L220.3,123.9M81.0,233.0L81.2,212.3L81.5,203.5L81.7,198.3L81.9,195.6L81.9,195.6L82.7,191.6L83.4,189.0L84.2,187.2L84.9,185.8L85.7,184.5L86.4,183.0L87.2,181.6L87.9,180.4L88.7,179.2L89.4,178.1L90.2,176.9L91.0,175.7L91.7,174.5L92.5,173.2L93.2,171.9L94.0,170.7L94.7,169.4L95.5,168.2L96.2,167.1L97.0,166.0L97.7,164.9L98.5,164.0L99.2,163.2L100.0,162.4L100.0,162.4L101.8,160.9L103.6,159.5L105.4,158.1L107.1,156.9L108.9,155.7L110.7,154.6L112.5,153.6L114.3,152.6L116.1,151.7L117.9,150.9L119.6,150.0L121.4,149.2L123.2,148.5L125.0,147.7L125.0,147.7L126.6,147.4L128.2,146.1L129.8,143.9L131.4,145.4L133.1,144.2L134.7,144.2L136.3,143.4L137.9,144.1L139.5,144.2L141.1,144.1L142.7,143.5L144.3,140.6L145.9,138.6L147.6,139.1L149.2,138.1L150.8,138.7L152.4,138.7L154.0,136.9L155.6,136.0L157.2,135.2L158.8,134.9L160.5,135.2L162.1,136.1L163.7,137.2L165.3,135.3L166.9,134.5L168.5,140.9L170.1,136.1L171.7,135.4L173.3,132.2L175.0,131.5L176.6,132.1L178.2,131.6L179.8,133.8L181.4,133.1L183.0,132.7L184.6,131.0L186.2,129.9L187.8,129.5L189.5,129.2L191.1,129.4L192.7,130.0L194.3,130.1L195.9,130.8L197.5,128.8L199.1,129.1L200.7,129.2L202.3,130.5L204.0,129.4L205.6,129.2L207.2,127.8L208.8,128.1L210.4,128.3L212.0,127.2L213.6,126.7L215.2,125.7L216.9,127.2L218.5,125.7M81.0,233.0L81.2,216.0L81.5,208.4L81.7,203.8L81.9,201.3L81.9,201.3L82.7,197.4L83.4,194.8L84.2,192.9L84.9,191.5L85.7,190.2L86.4,188.7L87.2,187.3L87.9,186.0L88.7,184.8L89.4,183.7L90.2,182.5L91.0,181.2L91.7,179.9L92.5,178.6L93.2,177.3L94.0,176.0L94.7,174.7L95.5,173.5L96.2,172.2L97.0,171.1L97.7,170.0L98.5,169.1L99.2,168.2L100.0,167.4L100.0,167.4L101.8,165.9L103.6,164.4L105.4,163.0L107.1,161.7L108.9,160.5L110.7,159.4L112.5,158.3L114.3,157.3L116.1,156.4L117.9,155.5L119.6,154.7L121.4,153.9L123.2,153.1L125.0,152.3L125.0,152.3L126.6,153.0L128.2,153.0L129.9,150.0L131.5,149.3L133.1,149.6L134.7,148.3L136.3,148.7L138.0,148.1L139.6,147.9L141.2,146.9L142.8,146.4L144.4,146.2L146.1,143.8L147.7,142.7L149.3,141.8L150.9,143.9L152.6,143.6L154.2,143.3L155.8,142.7L157.4,141.5L159.0,143.2L160.7,141.2L162.3,140.2L163.9,141.6L165.5,140.8L167.1,134.7L168.8,139.1L170.4,138.5L172.0,138.2L173.6,139.4L175.2,140.9L176.9,137.9L178.5,137.5L180.1,137.6L181.7,135.9L183.3,135.0L185.0,134.5L186.6,132.0L188.2,133.7M81.0,233.0L81.2,220.3L81.5,214.2L81.7,210.3L81.9,208.1L81.9,208.1L82.7,204.4L83.4,201.7L84.2,199.8L84.9,198.3L85.7,196.9L86.4,195.4L87.2,193.9L87.9,192.7L88.7,191.5L89.4,190.3L90.2,189.0L91.0,187.7L91.7,186.4L92.5,185.0L93.2,183.7L94.0,182.3L94.7,181.0L95.5,179.7L96.2,178.4L97.0,177.2L97.7,176.1L98.5,175.1L99.2,174.2L100.0,173.4L100.0,173.4L101.8,171.8L103.6,170.2L105.4,168.8L107.1,167.5L108.9,166.2L110.7,165.1L112.5,164.0L114.3,162.9L116.1,162.0L117.9,161.0L119.6,160.2L121.4,159.3L123.2,158.5L125.0,157.7L125.0,157.7L126.6,157.0L128.3,157.7L129.9,156.6L131.6,155.9L133.2,154.5L134.9,155.1L136.5,154.0L138.2,152.9L139.8,152.1L141.4,152.3L143.1,152.7L144.7,150.4L146.4,149.7L148.0,149.3L149.7,150.1L151.3,150.9L153.0,149.4L154.6,148.6L156.3,148.3L157.9,148.2L159.5,146.8L161.2,146.7L162.8,145.4L164.5,143.0L166.1,142.3L167.8,142.9L169.4,143.5L171.1,141.5L172.7,140.5M81.0,233.0L81.2,224.0L81.5,219.2L81.7,215.9L81.9,214.0L81.9,214.0L82.7,210.3L83.4,207.7L84.2,205.7L84.9,204.2L85.7,202.7L86.4,201.1L87.2,199.7L87.9,198.4L88.7,197.1L89.4,195.9L90.2,194.7L91.0,193.3L91.7,192.0L92.5,190.6L93.2,189.1L94.0,187.7L94.7,186.3L95.5,185.0L96.2,183.7L97.0,182.5L97.7,181.3L98.5,180.2L99.2,179.3L100.0,178.5L100.0,178.5L101.8,176.8L103.6,175.2L105.4,173.8L107.1,172.4L108.9,171.1L110.7,169.9L112.5,168.8L114.3,167.7L116.1,166.7L117.9,165.8L119.6,164.9L121.4,164.0L123.2,163.2L125.0,162.3L125.0,162.3L126.7,162.7L128.4,159.8L130.0,161.6L131.7,160.2L133.4,157.7L135.1,157.8L136.7,155.9L138.4,156.8L140.1,156.3L141.8,155.3L143.5,156.3L145.1,153.3L146.8,155.1L148.5,153.2L150.2,154.4L151.8,153.9L153.5,152.6L155.2,150.8L156.9,151.8L158.6,150.9M81.0,233.0L81.2,180.8L81.5,161.3L81.7,150.4L81.9,145.8L81.9,145.8L82.7,141.7L83.4,139.2L84.2,137.5L84.9,136.4L85.7,135.4L86.4,134.0L87.2,132.8L87.9,131.8L88.7,130.8L89.4,129.9L90.2,129.0L91.0,128.1L91.7,127.1L92.5,126.3L93.2,125.4L94.0,124.5L94.7,123.7L95.5,122.9L96.2,122.1L97.0,121.4L97.7,120.7L98.5,120.1L99.2,119.5L100.0,119.0L100.0,119.0L102.0,117.8L104.0,116.6L106.0,115.6L108.0,114.5L110.1,113.6L112.1,112.7L114.1,111.9L116.1,111.1L118.1,110.4L120.1,109.8L122.1,109.1L124.1,108.5L126.1,108.0L128.1,107.4L130.2,106.9L132.2,106.4L134.2,105.9L136.2,105.5L138.2,105.1L140.2,104.7L142.2,104.3L144.2,103.9L146.2,103.6L148.3,103.2L150.3,102.9L152.3,102.6L154.3,102.2L156.3,101.9L158.3,101.6L160.3,101.3L162.3,101.0L164.3,100.7L166.3,100.4L168.4,100.1L170.4,99.9L172.4,99.6L174.4,99.3L176.4,99.1L178.4,98.8L180.4,98.6L182.4,98.3L184.4,98.1L186.5,97.9L188.5,97.7L190.5,97.4L192.5,97.2L194.5,97.0L196.5,96.8L198.5,96.6L200.5,96.4L202.5,96.3L204.5,96.1L206.6,95.9L208.6,95.7L210.6,95.5L212.6,95.4L214.6,95.2L216.6,95.0L218.6,94.8L220.6,94.7L222.6,94.5L224.7,94.4L226.7,94.2L228.7,94.1L230.7,93.9L232.7,93.7L234.7,93.6L236.7,93.4L238.7,93.3L240.7,93.1L242.7,93.0L244.8,92.9L246.8,92.7L248.8,92.6L250.8,92.4L252.8,92.3L254.8,92.1L256.8,92.0L258.8,91.9L260.8,91.7L262.9,91.6L264.9,91.5L266.9,91.3L268.9,91.2L270.9,91.1L272.9,90.9L274.9,90.8L276.9,90.7L278.9,90.6L280.9,90.4L283.0,90.3L285.0,90.2L287.0,90.1L289.0,90.0L291.0,89.9L291.5,97.0L292.6,56.2L323.7,56.2M81.0,233.0L81.2,190.1L81.5,173.7L81.7,164.5L81.9,160.4L81.9,160.4L82.7,156.4L83.4,153.7L84.2,152.1L84.9,150.9L85.7,149.8L86.4,148.4L87.2,147.2L87.9,146.0L88.7,145.0L89.4,144.0L90.2,143.0L91.0,142.0L91.7,141.0L92.5,140.0L93.2,139.0L94.0,138.1L94.7,137.1L95.5,136.2L96.2,135.3L97.0,134.5L97.7,133.7L98.5,133.0L99.2,132.3L100.0,131.8L100.0,131.8L101.6,130.3L103.2,129.4L104.8,128.4L106.4,127.1L108.0,127.1L109.6,125.1L111.2,125.2L112.8,126.4L114.4,124.4L116.0,123.6L117.6,121.8L119.2,121.5L120.9,119.9L122.5,120.4L124.1,119.7L125.7,118.2L127.3,117.5L128.9,116.6L130.5,116.9L132.1,117.6L133.7,117.0L135.3,116.0L136.9,115.4L138.5,115.6L140.1,113.8L141.7,114.7L143.3,114.9L144.9,113.0L146.5,114.2L148.1,112.8L149.7,112.9L151.3,113.7L152.9,112.2L154.5,111.0L156.1,110.7L157.8,110.4L159.4,110.8L161.0,110.6L162.6,110.4L164.2,110.2L165.8,110.2L167.4,109.6L169.0,109.9L170.6,109.8L172.2,109.0L173.8,110.3L175.4,108.9L177.0,109.3L178.6,108.5L180.2,108.6L181.8,108.8L183.4,109.0L185.0,109.4L186.6,108.1L188.2,109.7L189.8,108.9L191.4,107.5L193.0,106.3L194.6,108.0L196.2,108.4L197.9,107.5L199.5,107.4L201.1,107.7L202.7,106.9L204.3,106.1L205.9,105.7L207.5,106.1L209.1,105.7L210.7,104.5L212.3,105.1L213.9,103.7L215.5,103.4L215.5,144.0L215.5,144.0L217.0,144.3L218.5,144.0L220.1,143.7L221.6,143.9L223.1,143.4L224.6,142.2L226.1,142.4L227.7,140.9L229.2,140.4L230.7,141.7L230.7,130.0L233.7,133.9L236.7,133.7L239.7,133.2L242.8,132.8L245.8,133.0L248.8,131.9L251.8,131.0L254.8,130.5L257.9,130.5L260.9,130.4L263.9,129.7L266.9,129.9L270.0,128.8L273.0,128.5L276.0,127.8L279.0,127.1L282.0,127.8L285.1,127.1L288.1,126.2L291.1,126.0L291.3,97.0M81.0,233.0L81.2,208.6L81.5,198.5L81.7,192.6L81.9,189.6L81.9,189.6L82.7,185.7L83.4,183.0L84.2,181.2L84.9,179.9L85.7,178.6L86.4,177.2L87.2,175.8L87.9,174.6L88.7,173.5L89.4,172.3L90.2,171.2L91.0,170.0L91.7,168.8L92.5,167.6L93.2,166.4L94.0,165.1L94.7,164.0L95.5,162.8L96.2,161.7L97.0,160.6L97.7,159.7L98.5,158.8L99.2,157.9L100.0,157.2L100.0,157.2L101.6,156.0L103.2,155.2L104.8,154.3L106.4,152.4L108.0,151.3L109.6,151.3L111.2,149.9L112.8,149.5L114.4,149.1L116.0,147.1L117.6,146.9L119.2,146.3L120.8,145.7L122.4,145.5L124.0,144.6L125.6,143.5L127.2,143.0L128.8,141.9L130.4,141.5L132.0,139.7L133.7,140.3L135.3,139.4L136.9,139.1L138.5,138.7L140.1,138.1L141.7,137.6L143.3,137.1L144.9,135.8L146.5,135.4L148.1,135.8L149.7,134.8L151.3,134.1L152.9,135.0L154.5,135.0L156.1,135.0L157.7,134.1L159.3,133.5L160.9,133.3L162.5,132.9L164.1,132.2L165.7,130.9L167.3,130.4L168.9,129.6L170.5,130.5L172.1,129.9L173.7,129.6L175.3,129.5L176.9,129.1L178.5,129.1L180.1,128.4L181.7,127.4L183.3,128.3L184.9,127.5L186.5,127.1L188.1,126.5L189.7,126.2L191.3,126.2L192.9,126.5L194.5,125.7L196.1,125.8L197.7,125.2L199.3,125.8L201.0,124.8L202.6,124.8L204.2,125.0L205.8,124.0L207.4,124.1L209.0,124.0L210.6,123.5L212.2,123.3L213.8,123.8L215.4,123.6L217.0,123.1L218.6,122.8L220.2,122.9L221.8,123.3L223.4,123.2L225.0,123.0L226.6,123.3L228.2,121.9L229.8,121.0L231.4,120.0L233.0,120.8L232.5,100.3L232.5,100.3L236.7,100.1L240.9,99.8L245.0,99.6L249.2,99.4L253.4,99.1L257.6,98.9L261.8,98.7L265.9,98.4L270.1,98.2L274.3,97.9L278.5,97.7L282.6,97.5L286.8,97.2L291.0,97.0M81.0,233.0L81.2,187.0L81.5,169.5L81.7,159.8L81.9,155.5L81.9,155.5L82.7,151.5L83.4,148.9L84.2,147.2L84.9,146.1L85.7,145.0L86.4,143.6L87.2,142.4L87.9,141.3L88.7,140.3L89.4,139.3L90.2,138.3L91.0,137.4L91.7,136.4L92.5,135.4L93.2,134.5L94.0,133.5L94.7,132.6L95.5,131.7L96.2,130.9L97.0,130.1L97.7,129.4L98.5,128.7L99.2,128.1L100.0,127.5L100.0,127.5L101.6,125.9L103.2,125.4L104.8,123.9L106.4,123.0L108.0,122.3L109.6,121.9L111.2,120.6L112.8,120.2L114.4,119.9L116.0,119.3L117.6,118.6L119.2,118.5L120.8,117.8L122.4,117.1L124.0,116.3L125.7,116.1L127.3,115.4L128.9,115.2L130.5,114.6L132.1,114.6L133.7,113.6L135.3,113.2L136.9,113.0L138.5,112.7L140.1,112.7L141.7,112.2L143.3,112.1L144.9,112.2L146.5,111.8L148.1,110.6L149.7,109.7L151.3,109.8L152.9,109.4L154.5,109.3L156.1,108.9L157.7,109.2L159.3,109.2L160.9,108.2L162.5,108.0L164.1,107.6L165.7,106.8L167.3,107.0L168.9,106.8L170.5,106.7L172.1,107.4L173.8,107.3L175.4,107.0L177.0,106.2L178.6,105.3L180.2,105.6L181.8,105.1L183.4,104.9L185.0,104.5L186.6,104.4L188.2,105.2L189.8,104.5L191.4,104.0L193.0,103.8L194.6,103.7L196.2,103.0L197.8,102.2L199.4,102.2L201.0,102.2L202.6,102.0L204.2,101.7L205.8,101.4L207.4,101.5L209.0,101.5L210.6,100.9L212.2,100.9L213.8,101.2L215.4,101.1L217.0,100.5L218.6,100.5L220.2,100.6L221.8,100.9L223.5,100.0L225.1,100.4L226.7,100.1L228.3,100.2L229.9,100.3L231.5,99.7L233.1,99.4L234.7,99.4L236.3,99.7L237.9,99.3L239.5,98.6L241.1,98.5L242.7,98.8L244.3,99.2L245.9,98.8L247.5,98.5L247.7,56.2M209.0,92.0L209.0,30.5M220.0,100.0L220.0,30.5M228.0,98.0L228.0,30.5M198.0,100.0L198.0,42.9M233.0,96.0L233.0,42.9M238.0,99.0L238.0,56.2M191.0,95.0L191.0,56.2M194.0,110.0L194.0,42.9M202.0,120.0L202.0,56.2M212.0,115.0L212.0,42.9M217.0,90.0L217.0,56.2M224.0,118.0L224.0,42.9M231.0,125.0L231.0,56.2"/>
<path stroke="#00f" d="M81.0,138.6L81.0,70.4L81.1,65.6L81.2,62.9L81.3,61.0L81.4,59.5L81.6,58.3L81.7,57.3L81.8,56.5L81.9,55.7L82.0,55.0L82.0,55.0L84.0,48.3L86.0,45.1L88.0,43.0L90.0,41.4L92.0,40.2L94.0,39.1L96.0,38.2L98.0,37.4L100.1,36.7L102.1,36.0L104.1,35.4L106.1,34.9L108.1,34.4L110.1,34.0L112.1,33.5L114.1,33.1L116.1,32.8L118.1,32.4L120.1,32.1L122.1,31.7L124.1,31.4L126.1,31.1L128.1,30.9L130.1,30.6L132.2,30.3L134.2,30.1L136.2,29.9L138.2,29.6L140.2,29.4L142.2,29.2L144.2,29.0L146.2,28.8L148.2,28.6L149.7,28.5L149.9,96.0L153.5,96.0L153.9,96.0L158.1,96.0L158.5,96.0L164.8,96.0L165.2,98.0L168.1,98.0L168.5,96.5L174.9,96.5L175.3,94.0L178.4,94.0L178.8,94.0L184.3,94.0L184.7,91.5M81.0,139.3L81.0,67.9L81.1,63.4L81.2,60.9L81.3,59.2L81.4,57.8L81.6,56.7L81.7,55.8L81.8,55.0L81.9,54.3L82.0,53.6L82.0,53.6L84.0,47.4L86.0,44.5L88.1,42.5L90.1,41.0L92.1,39.8L94.1,38.9L96.1,38.0L98.2,37.3L100.2,36.6L102.2,36.0L104.2,35.5L106.2,35.0L108.3,34.5L110.3,34.1L112.3,33.7L114.3,33.4L116.3,33.0L118.4,32.7L120.4,32.4L122.4,32.1L124.4,31.8L126.5,31.5L128.5,31.3L130.5,31.0L132.5,30.8L134.5,30.6L136.6,30.3L138.6,30.1L140.6,29.9L142.6,29.7L144.6,29.5L146.7,29.3L148.7,29.2L150.7,29.0L152.2,28.9L152.4,100.0L154.8,100.0L155.2,98.5L158.1,98.5L158.5,100.0M81.0,140.4L81.0,71.7L81.1,66.9L81.2,64.1L81.3,62.2L81.4,60.7L81.6,59.5L81.7,58.5L81.8,57.7L81.9,56.9L82.0,56.2L82.0,56.2L84.0,49.4L86.1,46.2L88.1,44.0L90.2,42.4L92.2,41.1L94.3,40.0L96.3,39.1L98.3,38.3L100.4,37.6L102.4,37.0L104.5,36.4L106.5,35.8L108.6,35.3L110.6,34.9L112.6,34.4L114.7,34.0L116.7,33.7L118.8,33.3L120.8,33.0L122.9,32.6L124.9,32.3L126.9,32.0L129.0,31.8L131.0,31.5L133.1,31.2L135.1,31.0L137.2,30.7L139.2,30.5L141.2,30.3L143.3,30.1L145.3,29.9L147.4,29.7L149.4,29.5L151.5,29.3L153.5,29.1L155.0,29.0L155.2,110.0L157.6,110.0L158.0,108.5L163.8,108.5L164.2,110.0L169.5,110.0L169.9,110.0L174.7,110.0L175.1,108.5L180.4,108.5L180.8,108.5L185.1,108.5L185.5,108.5L187.7,108.5L188.1,110.0L189.4,110.0L189.8,110.0M81.0,139.1L81.0,72.8L81.1,67.9L81.2,65.1L81.3,63.2L81.4,61.7L81.6,60.5L81.7,59.4L81.8,58.6L81.9,57.8L82.0,57.1L82.0,57.1L84.0,50.3L86.0,47.0L88.0,44.9L90.0,43.3L92.0,42.0L94.0,40.9L96.0,39.9L98.0,39.1L100.0,38.4L102.0,37.8L104.0,37.2L106.0,36.6L108.0,36.1L110.0,35.7L112.0,35.2L114.0,34.8L116.0,34.4L118.0,34.1L120.0,33.7L122.0,33.4L124.0,33.1L126.0,32.8L128.0,32.5L130.0,32.2L132.0,32.0L134.0,31.7L136.0,31.5L138.0,31.2L140.0,31.0L142.0,30.8L144.0,30.6L146.0,30.4L148.0,30.2L150.0,30.0L152.0,29.8L154.0,29.6L155.5,29.5L155.7,125.0L158.1,125.0L158.5,122.5L160.5,122.5L160.9,122.5M81.0,137.4L81.0,82.7L81.1,77.7L81.2,74.9L81.3,73.0L81.4,71.5L81.6,70.2L81.7,69.2L81.8,68.3L81.9,67.5L82.0,66.8L82.0,66.8L84.0,59.9L86.0,56.6L88.0,54.4L90.1,52.8L92.1,51.5L94.1,50.4L96.1,49.4L98.1,48.6L100.1,47.9L102.1,47.2L104.1,46.6L106.2,46.0L108.2,45.5L110.2,45.1L112.2,44.6L114.2,44.2L116.2,43.8L118.2,43.5L120.3,43.1L122.3,42.8L124.3,42.5L126.3,42.2L128.3,41.9L130.3,41.6L132.3,41.3L134.4,41.1L136.4,40.8L138.4,40.6L140.4,40.4L142.4,40.2L144.4,39.9L146.4,39.7L148.4,39.5L150.5,39.3L152.5,39.1L154.5,39.0L156.5,38.8L158.0,38.7L158.2,97.5L161.2,97.5L161.6,95.0L165.3,95.0L165.7,95.0L169.3,95.0L169.7,96.5L174.6,96.5L175.0,96.5L177.6,96.5L178.0,95.0M81.0,136.2L81.0,81.0L81.1,76.3L81.2,73.7L81.3,71.8L81.4,70.4L81.6,69.2L81.7,68.2L81.8,67.4L81.9,66.7L82.0,66.0L82.0,66.0L84.0,59.5L86.0,56.4L88.0,54.3L90.0,52.8L92.0,51.5L94.0,50.5L96.0,49.6L98.0,48.8L100.0,48.1L102.0,47.5L104.0,46.9L106.0,46.4L108.0,45.9L110.0,45.5L112.0,45.1L114.0,44.7L116.0,44.3L118.0,44.0L120.0,43.6L122.1,43.3L124.1,43.0L126.1,42.7L128.1,42.5L130.1,42.2L132.1,41.9L134.1,41.7L136.1,41.5L138.1,41.3L140.1,41.0L142.1,40.8L144.1,40.6L146.1,40.4L148.1,40.2L150.1,40.1L152.1,39.9L154.1,39.7L156.1,39.5L158.1,39.4L159.6,39.3L159.8,105.0L163.2,105.0L163.6,106.5L165.0,106.5L165.4,105.0M81.0,137.7L81.0,88.5L81.1,83.0L81.2,79.9L81.3,77.7L81.4,76.0L81.6,74.7L81.7,73.5L81.8,72.5L81.9,71.6L82.0,70.9L82.0,70.9L84.0,63.2L86.1,59.5L88.1,57.1L90.1,55.2L92.1,53.8L94.2,52.5L96.2,51.5L98.2,50.6L100.2,49.8L102.3,49.0L104.3,48.4L106.3,47.8L108.3,47.2L110.4,46.7L112.4,46.2L114.4,45.7L116.4,45.3L118.5,44.9L120.5,44.5L122.5,44.1L124.6,43.8L126.6,43.4L128.6,43.1L130.6,42.8L132.7,42.5L134.7,42.2L136.7,42.0L138.7,41.7L140.8,41.5L142.8,41.2L144.8,41.0L146.8,40.7L148.9,40.5L150.9,40.3L152.9,40.1L154.9,39.9L157.0,39.7L159.0,39.5L160.5,39.4L160.7,115.0L163.9,115.0L164.3,115.0L168.4,115.0L168.8,112.5L173.5,112.5L173.9,112.5L177.5,112.5L177.9,112.5L183.8,112.5L184.2,112.5L188.7,112.5L189.1,114.5L195.2,114.5L195.6,116.5L198.4,116.5L198.8,118.0L200.3,118.0L200.7,118.0M81.0,139.9L81.0,79.8L81.1,75.4L81.2,72.9L81.3,71.2L81.4,69.8L81.6,68.7L81.7,67.8L81.8,67.0L81.9,66.3L82.0,65.7L82.0,65.7L84.0,59.6L86.0,56.7L88.0,54.7L90.1,53.2L92.1,52.1L94.1,51.1L96.1,50.3L98.1,49.5L100.1,48.9L102.1,48.3L104.1,47.8L106.2,47.3L108.2,46.8L110.2,46.4L112.2,46.0L114.2,45.7L116.2,45.3L118.2,45.0L120.2,44.7L122.3,44.4L124.3,44.1L126.3,43.8L128.3,43.6L130.3,43.3L132.3,43.1L134.3,42.9L136.3,42.7L138.4,42.4L140.4,42.2L142.4,42.0L144.4,41.9L146.4,41.7L148.4,41.5L150.4,41.3L152.4,41.2L154.5,41.0L156.5,40.8L158.5,40.7L160.5,40.5L162.0,40.4L162.2,120.0L166.0,120.0L166.4,117.5L168.6,117.5L169.0,117.5L175.2,117.5L175.6,117.5L181.1,117.5L181.5,119.5L185.8,119.5L186.2,121.5M81.0,137.9L81.0,81.7L81.1,77.2L81.2,74.6L81.3,72.8L81.4,71.4L81.6,70.3L81.7,69.3L81.8,68.5L81.9,67.8L82.0,67.1L82.0,67.1L84.0,60.8L86.0,57.8L88.0,55.8L90.0,54.2L92.0,53.0L94.0,52.0L96.0,51.2L98.0,50.4L100.0,49.7L102.0,49.1L104.1,48.6L106.1,48.1L108.1,47.6L110.1,47.2L112.1,46.8L114.1,46.4L116.1,46.0L118.1,45.7L120.1,45.4L122.1,45.1L124.1,44.8L126.1,44.5L128.1,44.2L130.1,44.0L132.1,43.7L134.1,43.5L136.1,43.3L138.1,43.1L140.1,42.8L142.2,42.6L144.2,42.4L146.2,42.3L148.2,42.1L150.2,41.9L152.2,41.7L154.2,41.6L156.2,41.4L158.2,41.2L160.2,41.1L162.2,40.9L163.7,40.8L163.9,130.0L167.0,130.0L167.4,132.0L169.4,132.0L169.8,133.5M81.0,138.1L81.0,78.8L81.1,74.7L81.2,72.4L81.3,70.7L81.4,69.5L81.6,68.4L81.7,67.6L81.8,66.8L81.9,66.2L82.0,65.6L82.0,65.6L84.0,59.8L86.1,57.0L88.1,55.2L90.2,53.8L92.2,52.7L94.3,51.8L96.3,51.0L98.3,50.3L100.4,49.7L102.4,49.2L104.5,48.7L106.5,48.2L108.6,47.8L110.6,47.4L112.7,47.0L114.7,46.7L116.7,46.4L118.8,46.1L120.8,45.8L122.9,45.5L124.9,45.2L127.0,45.0L129.0,44.7L131.0,44.5L133.1,44.3L135.1,44.1L137.2,43.9L139.2,43.7L141.3,43.5L143.3,43.3L144.8,43.2L145.0,135.0L148.4,135.0L148.8,135.0L150.7,135.0L151.1,137.0M81.0,140.3L81.0,82.8L81.1,78.3L81.2,75.8L81.3,74.0L81.4,72.6L81.6,71.5L81.7,70.6L81.8,69.7L81.9,69.0L82.0,68.4L82.0,68.4L84.1,62.0L86.1,59.0L88.2,57.0L90.2,55.5L92.3,54.3L94.3,53.3L96.4,52.4L98.5,51.7L100.5,51.0L102.6,50.4L104.6,49.9L106.7,49.4L108.7,48.9L110.8,48.5L112.9,48.1L114.9,47.7L117.0,47.3L119.0,47.0L121.1,46.7L123.2,46.4L125.2,46.1L127.3,45.8L129.3,45.6L131.4,45.3L133.4,45.1L135.5,44.8L137.6,44.6L139.6,44.4L141.7,44.2L143.7,44.0L145.8,43.8L147.8,43.6L149.9,43.4L151.4,43.3L151.6,145.0L156.8,145.0L157.2,142.5L161.4,142.5L161.8,141.0L164.3,141.0L164.7,139.5L169.3,139.5L169.7,139.5L176.2,139.5L176.6,138.0L179.4,138.0L179.8,138.0L186.5,138.0L186.9,136.5L189.6,136.5L190.0,136.5M81.0,137.9L81.0,83.0L81.1,78.6L81.2,76.1L81.3,74.3L81.4,72.9L81.6,71.8L81.7,70.9L81.8,70.1L81.9,69.4L82.0,68.8L82.0,68.8L84.0,62.6L86.0,59.6L88.0,57.6L90.1,56.2L92.1,55.0L94.1,54.0L96.1,53.1L98.1,52.4L100.1,51.8L102.1,51.2L104.2,50.6L106.2,50.1L108.2,49.7L110.2,49.2L112.2,48.9L114.2,48.5L116.2,48.1L118.2,47.8L120.3,47.5L122.3,47.2L124.3,46.9L126.3,46.6L128.3,46.4L130.3,46.1L132.3,45.9L134.4,45.7L136.4,45.5L138.4,45.2L140.4,45.0L142.4,44.8L144.4,44.6L146.4,44.5L148.5,44.3L150.5,44.1L152.5,43.9L154.5,43.8L156.0,43.7L156.2,138.0L163.1,138.0L163.5,140.0L168.8,140.0L169.2,141.5L171.7,141.5L172.1,143.0L175.3,143.0L175.7,144.5M81.0,136.3L81.0,94.5L81.1,89.3L81.2,86.3L81.3,84.2L81.4,82.6L81.6,81.3L81.7,80.3L81.8,79.3L81.9,78.5L82.0,77.7L82.0,77.7L84.1,70.3L86.1,66.8L88.2,64.5L90.3,62.7L92.4,61.4L94.4,60.2L96.5,59.2L98.6,58.3L100.6,57.5L102.7,56.9L104.8,56.2L106.8,55.6L108.9,55.1L111.0,54.6L113.1,54.1L115.1,53.7L117.2,53.3L119.3,52.9L121.3,52.5L123.4,52.2L125.5,51.9L127.6,51.5L129.6,51.2L131.7,50.9L133.2,50.7L133.4,117.0L140.5,117.0L140.9,117.0L144.4,117.0L144.8,118.5L147.1,118.5L147.5,118.5L150.3,118.5L150.7,120.5L156.8,120.5L157.2,120.5L160.9,120.5L161.3,120.5L165.3,120.5L165.7,118.0L168.3,118.0L168.7,115.5L175.0,115.5L175.4,113.0L180.8,113.0L181.2,113.0L184.9,113.0L185.3,115.0L191.2,115.0L191.6,115.0L196.0,115.0L196.4,113.5M81.0,140.9L81.0,89.9L81.1,85.4L81.2,82.8L81.3,81.0L81.4,79.7L81.6,78.5L81.7,77.6L81.8,76.8L81.9,76.1L82.0,75.4L82.0,75.4L84.1,69.1L86.1,66.1L88.2,64.1L90.2,62.6L92.3,61.4L94.3,60.4L96.4,59.5L98.4,58.8L100.5,58.1L102.6,57.5L104.6,57.0L106.7,56.5L108.7,56.0L110.8,55.6L112.8,55.2L114.9,54.8L117.0,54.4L119.0,54.1L121.1,53.8L123.1,53.5L125.2,53.2L127.2,52.9L129.3,52.7L131.3,52.4L133.4,52.2L134.9,52.0L135.1,122.0L137.9,122.0L138.3,122.0L140.6,122.0L141.0,119.5L145.3,119.5L145.7,121.0L150.4,121.0L150.8,118.5L154.8,118.5L155.2,117.0L159.5,117.0L159.9,119.0L162.3,119.0L162.7,120.5L165.6,120.5L166.0,122.5L170.0,122.5L170.4,121.0M81.0,139.4L81.0,91.1L81.1,86.6L81.2,84.0L81.3,82.2L81.4,80.8L81.6,79.7L81.7,78.8L81.8,77.9L81.9,77.2L82.0,76.6L82.0,76.6L84.1,70.2L86.1,67.2L88.2,65.1L90.2,63.6L92.3,62.4L94.3,61.4L96.4,60.6L98.5,59.8L100.5,59.1L102.6,58.5L104.6,58.0L106.7,57.5L108.8,57.0L110.8,56.6L112.9,56.2L114.9,55.8L117.0,55.5L119.0,55.1L121.1,54.8L123.2,54.5L125.2,54.2L127.3,53.9L129.3,53.7L131.4,53.4L133.4,53.2L135.5,52.9L137.0,52.8L137.2,128.0L140.9,128.0L141.3,128.0M81.0,138.6L81.0,93.9L81.1,89.2L81.2,86.6L81.3,84.7L81.4,83.3L81.6,82.1L81.7,81.1L81.8,80.3L81.9,79.5L82.0,78.9L82.0,78.9L84.1,72.3L86.1,69.1L88.2,67.1L90.2,65.5L92.3,64.3L94.3,63.2L96.4,62.3L98.4,61.5L100.5,60.9L102.6,60.2L104.6,59.7L106.7,59.1L108.7,58.7L110.8,58.2L112.8,57.8L114.9,57.4L116.9,57.0L119.0,56.7L121.1,56.4L123.1,56.1L125.2,55.8L127.2,55.5L129.3,55.2L131.3,54.9L133.4,54.7L135.4,54.4L137.5,54.2L139.0,54.1L139.2,133.0L144.5,133.0L144.9,133.0L147.8,133.0L148.2,133.0L152.2,133.0L152.6,133.0L159.4,133.0L159.8,131.5L166.6,131.5L167.0,133.0L171.6,133.0L172.0,135.0L177.9,135.0L178.3,135.0M81.0,138.8L81.0,99.8L81.1,94.6L81.2,91.6L81.3,89.6L81.4,88.0L81.6,86.7L81.7,85.6L81.8,84.7L81.9,83.8L82.0,83.1L82.0,83.1L84.0,75.9L86.0,72.4L88.0,70.1L90.0,68.4L92.0,67.0L94.0,65.9L96.0,64.9L98.0,64.0L100.0,63.2L102.0,62.6L104.0,61.9L106.0,61.3L108.0,60.8L110.0,60.3L112.0,59.9L114.0,59.4L116.0,59.0L118.0,58.6L120.0,58.3L122.0,57.9L124.0,57.6L126.0,57.3L128.0,57.0L130.0,56.7L132.0,56.4L134.0,56.1L136.0,55.9L138.0,55.6L140.0,55.4L141.5,55.2L141.7,140.0L145.2,140.0L145.6,138.5L152.1,138.5L152.5,138.5L155.5,138.5L155.9,138.5L160.7,138.5L161.1,136.0L164.9,136.0L165.3,133.5L171.1,133.5L171.5,131.0L175.9,131.0L176.3,131.0M81.0,139.8L81.0,99.9L81.1,94.9L81.2,92.0L81.3,90.0L81.4,88.5L81.6,87.2L81.7,86.2L81.8,85.3L81.9,84.5L82.0,83.7L82.0,83.7L84.0,76.7L86.0,73.4L88.0,71.1L90.1,69.5L92.1,68.1L94.1,67.0L96.1,66.0L98.1,65.2L100.2,64.5L102.2,63.8L104.2,63.2L106.2,62.6L108.2,62.1L110.2,61.6L112.2,61.2L114.3,60.8L116.3,60.4L118.3,60.0L120.3,59.6L122.3,59.3L124.3,59.0L126.4,58.7L128.4,58.4L130.4,58.1L132.4,57.8L134.4,57.6L136.4,57.3L138.5,57.1L140.5,56.8L142.5,56.6L144.0,56.5L144.2,145.0L150.0,145.0L150.4,146.5L157.2,146.5L157.6,145.0L162.3,145.0L162.7,147.0L168.0,147.0L168.4,148.5L172.1,148.5L172.5,147.0L175.2,147.0L175.6,144.5L181.8,144.5L182.2,144.5L185.9,144.5L186.3,143.0L189.2,143.0L189.6,145.0L194.9,145.0L195.3,147.0L198.3,147.0L198.7,145.5M81.0,140.4L81.0,98.9L81.1,94.1L81.2,91.5L81.3,89.6L81.4,88.1L81.6,87.0L81.7,86.0L81.8,85.1L81.9,84.4L82.0,83.7L82.0,83.7L84.0,77.0L86.1,73.8L88.1,71.7L90.2,70.2L92.2,68.9L94.3,67.8L96.3,66.9L98.4,66.2L100.4,65.5L102.5,64.8L104.5,64.2L106.6,63.7L108.6,63.2L110.7,62.8L112.7,62.4L114.8,62.0L116.8,61.6L118.9,61.2L120.9,60.9L123.0,60.6L125.0,60.3L127.1,60.0L129.1,59.7L131.2,59.5L133.2,59.2L135.3,59.0L137.3,58.7L139.4,58.5L141.4,58.3L143.5,58.1L145.5,57.9L147.0,57.7L147.2,148.0L151.0,148.0L151.4,149.0L154.1,149.0L154.5,149.0L158.7,149.0L159.1,149.0L161.7,149.0L162.1,149.0L167.0,149.0L167.4,147.5L172.0,147.5L172.4,149.0L176.1,149.0L176.5,149.0L180.8,149.0L181.2,147.5L185.2,147.5L185.6,146.0L191.0,146.0L191.4,147.5M81.0,139.8L81.0,102.9L81.1,97.9L81.2,95.1L81.3,93.2L81.4,91.6L81.6,90.4L81.7,89.4L81.8,88.5L81.9,87.7L82.0,87.0L82.0,87.0L84.0,80.0L86.0,76.7L88.0,74.5L90.1,72.8L92.1,71.5L94.1,70.4L96.1,69.5L98.1,68.6L100.1,67.9L102.2,67.2L104.2,66.6L106.2,66.1L108.2,65.6L110.2,65.1L112.2,64.6L114.2,64.2L116.3,63.8L118.3,63.5L120.3,63.1L122.3,62.8L124.3,62.5L126.3,62.2L128.3,61.9L130.4,61.6L132.4,61.3L134.4,61.1L136.4,60.8L138.4,60.6L140.4,60.4L142.5,60.1L144.5,59.9L146.5,59.7L148.5,59.5L150.0,59.4L150.2,142.0L154.0,142.0L154.4,140.5M155.0,78.5L170.3,77.5"/>
</g>
<g clip-path="url(#cb)" fill="none" stroke-width="1.15" stroke-linejoin="round">
<path stroke="#f00" d="M413.3,135.7L414.5,115.9L415.7,101.1L416.9,93.9L418.1,88.5L419.3,84.2L420.5,81.0L421.8,78.4L423.0,76.4L424.2,74.5L425.4,72.8L426.6,71.4L427.8,70.1L429.0,69.0L430.2,68.0L431.4,67.3L432.6,66.7L433.8,66.2L435.0,65.6L436.2,65.2L437.5,64.8L438.7,64.4L439.9,64.2L441.1,64.0L442.3,64.0L443.5,64.1L444.7,64.3L444.7,42.8L450.5,42.8M413.3,139.0L414.5,119.5L415.7,105.0L416.9,97.8L418.2,92.4L419.4,88.2L420.6,84.9L421.8,82.4L423.0,80.3L424.2,78.5L425.4,76.8L426.6,75.3L427.9,74.0L429.1,72.9L430.3,72.0L431.5,71.3L432.7,70.7L433.9,70.1L435.1,69.6L436.3,69.1L437.6,68.7L438.8,68.4L440.0,68.2L441.2,68.0L442.4,68.0L443.6,68.1L444.8,68.3L446.0,68.6L447.3,69.0L448.5,69.4L449.7,69.9L450.9,70.6L452.1,71.9L453.3,73.6L454.5,75.5L455.7,77.4L457.0,79.0L458.2,80.1L459.4,81.0L460.6,81.9L460.6,81.4L480.2,79.5L480.2,42.8M460.6,81.4L460.6,42.8L587.6,42.8M413.3,143.1L414.5,127.1L415.7,114.9L416.9,108.1L418.1,102.7L419.3,98.4L420.5,95.0L421.8,92.4L423.0,90.4L424.2,88.5L425.4,86.8L426.6,85.4L427.8,84.1L429.0,83.0L430.2,82.0L431.4,81.3L432.6,80.7L433.8,80.2L435.0,79.6L436.3,79.2L437.5,78.8L438.7,78.4L439.9,78.2L441.1,78.0L442.3,78.0L443.5,78.1L444.7,78.3L445.9,78.6L447.1,78.9L448.3,79.3L449.5,79.8L450.8,80.5L452.0,81.7L453.2,83.4L454.4,85.3L455.6,87.2L456.8,88.8L458.0,90.0L458.0,95.0L458.7,93.1L459.4,93.9L460.1,91.4L460.8,98.4L461.5,96.5L462.2,94.9L462.9,98.9L463.6,100.7L464.3,92.1L465.0,97.5L465.7,95.2L466.4,98.5L467.1,94.8L467.8,99.9L468.5,100.0L469.2,99.4L469.9,97.0L470.6,99.7L471.3,97.6L472.0,97.0L472.7,103.0L473.4,98.5L474.1,107.1L474.8,105.8L475.5,96.4L476.2,104.9L476.9,99.8L477.6,104.7L478.3,105.1L479.0,98.1L479.7,104.8L480.4,105.1L481.1,109.8L481.9,102.4L482.6,109.7L483.3,103.4L484.0,106.5L484.7,105.0L485.4,113.6L486.1,110.8L486.8,117.9L487.5,111.7L488.2,112.8L488.9,102.5L489.6,108.3L490.3,110.5L491.0,116.0L491.7,110.0L492.4,112.5L493.1,112.1L493.8,114.7L494.5,111.5L495.2,112.6L495.9,114.4L496.6,114.3L497.3,111.1L498.0,117.8L498.7,110.2L499.4,110.9L500.1,111.0L500.8,119.4L501.5,115.0L502.2,113.1L502.9,112.9L503.6,118.8L504.3,113.8L505.0,113.4M413.3,157.9L414.5,138.8L415.8,124.7L417.0,117.7L418.2,112.2L419.4,108.0L420.7,104.7L421.9,102.2L423.1,100.1L424.3,98.3L425.6,96.6L426.8,95.1L428.0,93.9L429.2,92.8L430.5,91.9L431.7,91.1L432.9,90.6L434.1,90.0L435.4,89.5L436.6,89.0L437.8,88.7L439.1,88.3L440.3,88.1L441.5,88.0L442.7,88.0L444.0,88.2L445.2,88.4L446.4,88.7L447.6,89.1L448.9,89.5L450.1,90.0L451.3,91.0L452.5,92.5L453.8,94.3L455.0,96.3L455.0,101.3L455.7,106.1L456.4,101.1L457.1,106.1L457.8,94.6L458.5,102.8L459.2,105.7L459.9,94.5L460.6,100.9L461.3,107.1L462.0,102.7L462.7,100.0L463.5,102.8L464.2,106.4L464.9,107.1L465.6,106.4L466.3,104.1L467.0,102.9L467.7,105.3L468.4,110.4L469.1,107.2L469.8,108.5L470.5,105.9L471.2,102.1L471.9,104.4L472.6,109.4L473.3,107.8L474.0,104.5L474.7,102.2L475.4,108.5L476.1,107.1L476.8,107.3L477.5,107.7L478.2,110.0L478.9,110.3L479.6,112.9L480.4,113.0L481.1,114.7L481.8,113.1L482.5,109.3L483.2,110.5L483.9,112.7L484.6,110.1L485.3,113.3L486.0,115.7L486.7,109.1L487.4,105.9L488.1,116.5L488.8,112.6L489.5,115.3L490.2,108.4L490.9,119.4L491.6,116.1L492.3,113.3L493.0,112.8L493.7,114.6L494.4,113.9L495.1,113.7L495.8,111.0L496.5,119.6L497.3,115.3L498.0,115.9L498.7,116.2L499.4,107.8L500.1,118.2L500.8,115.4L501.5,115.8L502.2,117.3L502.9,113.9L503.6,120.5L504.3,115.3L505.0,114.8M413.3,171.0L414.5,151.3L415.7,136.8L417.0,129.7L418.2,124.2L419.4,120.0L420.6,116.7L421.9,114.2L423.1,112.2L424.3,110.3L425.5,108.6L426.8,107.2L428.0,105.9L429.2,104.8L430.4,103.9L431.6,103.2L432.9,102.6L434.1,102.0L435.3,101.5L436.5,101.1L437.8,100.7L439.0,100.4L440.2,100.1L441.4,100.0L442.7,100.0L443.9,100.1L445.1,100.4L446.3,100.7L447.6,101.1L448.8,101.5L450.0,102.0L450.0,107.0L450.7,111.2L451.4,109.0L452.1,108.2L452.8,114.3L453.5,110.5L454.2,112.2L454.9,104.0L455.6,100.9L456.3,111.1L457.1,111.4L457.8,108.4L458.5,104.8L459.2,112.3L459.9,109.7L460.6,105.3L461.3,110.4L462.0,107.8L462.7,107.4L463.4,109.9L464.1,115.9L464.8,106.6L465.5,109.5L466.2,113.8L466.9,109.0L467.6,116.4L468.3,111.4L469.0,111.1L469.7,112.1L470.4,116.9L471.2,113.4L471.9,113.1L472.6,112.4L473.3,106.4L474.0,108.8L474.7,116.9L475.4,114.8L476.1,113.9L476.8,114.5L477.5,110.7L478.2,113.8L478.9,109.8L479.6,114.2L480.3,110.7L481.0,112.5L481.7,114.9L482.4,112.4L483.1,115.8L483.8,115.3L484.6,115.1L485.3,118.5L486.0,109.3L486.7,109.0L487.4,116.5L488.1,117.8L488.8,121.5L489.5,117.4L490.2,131.9L490.9,112.2L491.6,117.8L492.3,117.7L493.0,112.1L493.7,112.8L494.4,115.5L495.1,117.0L495.8,106.4L496.5,116.5L497.2,117.2L497.9,116.0L498.7,117.6L499.4,118.4L500.1,113.6L500.8,118.5L501.5,116.5L502.2,114.3L502.9,118.3L503.6,122.7L504.3,110.2L505.0,112.5M413.3,170.5L414.5,157.3L415.7,146.8L416.9,140.3L418.1,135.0L419.3,130.7L420.5,127.2L421.7,124.5L422.9,122.4L424.1,120.6L425.3,118.9L426.5,117.4L427.7,116.1L428.9,115.0L430.1,114.1L431.4,113.3L432.6,112.7L433.8,112.2L435.0,111.7L436.2,111.2L437.4,110.8L438.6,110.5L439.8,110.2L441.0,110.0L442.2,110.0L443.4,110.1L444.6,110.3L445.8,110.5L447.0,110.9L447.0,115.9L447.7,113.9L448.4,114.0L449.1,120.1L449.8,110.8L450.5,113.9L451.2,114.7L452.0,116.6L452.7,115.1L453.4,113.0L454.1,121.7L454.8,112.0L455.5,110.1L456.2,109.1L456.9,118.9L457.6,110.2L458.3,117.9L459.0,118.7L459.7,119.2L460.4,115.8L461.1,114.5L461.9,116.7L462.6,114.4L463.3,112.0L464.0,120.9L464.7,113.4L465.4,122.9L466.1,118.4L466.8,115.0L467.5,118.2L468.2,121.0L468.9,111.8L469.6,113.4L470.3,113.0L471.0,117.3L471.8,118.2L472.5,116.9L473.2,114.3L473.9,115.0L474.6,109.1L475.3,120.8L476.0,117.4L476.7,112.4L477.4,119.2L478.1,118.0L478.8,117.9L479.5,123.2L480.2,120.0L481.0,113.7L481.7,113.8L482.4,122.0L483.1,117.9L483.8,120.3L484.5,116.9L485.2,113.9L485.9,118.4L486.6,123.0L487.3,118.8L488.0,113.6L488.7,117.6L489.4,115.9L490.1,118.3L490.9,121.3L491.6,124.7L492.3,118.6L493.0,116.4L493.7,118.2L494.4,118.0L495.1,116.5L495.8,118.1L496.5,118.0L497.2,113.9L497.9,120.0L498.6,116.8L499.3,114.7L500.0,119.9L500.8,116.5L501.5,124.3L502.2,119.9L502.9,118.5L503.6,115.6L504.3,116.9L505.0,121.3M414.8,224.0L414.8,186.0L414.8,186.0L415.5,184.4L416.2,182.0L416.9,187.2L417.6,184.9L418.3,185.5L419.0,184.9L419.7,187.5L420.4,187.7L421.1,186.7L421.8,185.3L422.5,185.8L423.2,186.3L423.9,183.0L424.6,187.1L425.3,184.7L426.0,185.5L426.7,185.3L427.4,186.4L428.1,186.6L428.9,188.2L429.6,184.4L430.3,181.7L431.0,185.0L431.7,184.1L432.4,186.0L433.1,183.5L433.8,184.8L434.5,185.9L435.2,186.0L435.9,184.8L436.6,186.5L437.3,186.2L438.0,181.8L438.7,184.8L439.4,184.5L440.1,183.7L440.8,183.2L441.5,184.1L441.5,184.0L442.5,182.1L443.5,184.5L444.6,180.5L445.6,179.7L446.6,182.3L447.6,184.4L448.6,181.4L449.6,181.6L450.7,174.4L451.7,173.3L452.7,167.7L453.7,161.4L454.7,155.8L455.8,154.5L456.8,154.2L457.8,152.6L458.8,148.7L459.8,145.6L460.8,142.1L461.9,135.1L462.9,133.1L463.9,131.2L464.9,132.9L465.9,130.2L466.9,131.6L468.0,130.3L469.0,134.4L470.0,131.8L470.0,128.0L470.7,127.7L471.4,129.0L472.1,140.8L472.8,125.5L473.5,123.6L474.2,127.1L474.9,131.6L475.6,122.9L476.3,132.1L477.0,131.9L477.8,127.1L478.5,126.6L479.2,123.7L479.9,126.4L480.6,123.6L481.3,134.2L482.0,136.2L482.7,126.2L483.4,127.4L484.1,117.7L484.8,124.8L485.5,129.3L486.2,128.9L486.9,128.1L487.6,131.8L488.3,127.9L489.0,125.3L489.7,135.7L490.4,117.3L491.1,121.2L491.8,123.4L492.5,123.4L493.2,123.1L494.0,125.9L494.7,123.4L495.4,131.7L496.1,130.1L496.8,104.6L497.5,127.6L498.2,122.0L498.9,120.9L499.6,125.3L500.3,131.6L501.0,128.7L501.7,132.3L502.4,131.8L503.1,132.5L503.8,122.4L504.5,124.0L505.2,130.5L505.9,137.3L506.6,129.5L507.3,128.1L508.0,125.8L508.8,127.2L509.5,117.8L510.2,125.0L510.9,126.1L511.6,134.1L512.3,122.8L513.0,126.9L513.7,135.6L514.4,123.4L515.1,130.5L515.8,123.3L516.5,125.5L517.2,128.4L517.9,130.6L518.6,123.4L519.3,120.7L520.0,133.8L520.7,126.8L521.4,130.0L522.1,130.5L522.8,129.7L523.5,124.4L524.2,135.9L525.0,117.7L525.7,126.6L526.4,123.2L527.1,125.5L527.8,135.2L528.5,129.1L529.2,125.8L529.9,118.5L530.6,129.2L531.3,133.3L532.0,121.2L532.7,127.6L533.4,122.7L534.1,124.5L534.8,123.4L535.5,117.0L536.2,122.6L536.9,116.9L537.6,132.3L538.3,130.5L539.0,125.3L539.8,126.5L540.5,125.3L541.2,126.0L541.9,126.0L542.6,123.7L543.3,124.1L544.0,118.0L544.7,119.7L545.4,121.7L546.1,125.9L546.8,123.6L547.5,134.5L548.2,123.7L548.9,122.8L549.6,126.9L550.3,129.9L551.0,134.1L551.7,129.5L552.4,121.5L553.1,123.6L553.8,129.8L554.5,125.8L555.2,128.5L556.0,124.0L556.7,132.5L557.4,131.7L558.1,130.1L558.8,125.1L559.5,116.1L560.2,117.4L560.9,125.9L561.6,127.5L562.3,109.3L563.0,138.8L563.0,123.0L564.5,122.7L566.0,121.6L567.5,122.2L569.0,122.2L570.5,121.2L572.0,120.5L573.5,121.4L575.0,120.7L576.5,121.3L578.0,120.6L579.5,119.2L581.0,119.6L582.5,119.5L584.0,119.2L585.6,118.3L587.1,117.7L588.6,117.6L590.1,116.6L591.6,115.4L593.1,115.9L594.6,115.5L596.1,116.1L597.6,116.6L599.1,121.3L600.6,127.8L602.1,123.0L603.6,121.4L605.1,120.1L606.6,119.3L608.1,119.3L609.6,118.5L611.1,118.2L612.6,117.6L614.1,117.4L615.6,117.0L617.1,117.1L618.6,116.6L620.1,116.7L621.6,117.4L623.1,119.9L624.6,120.7L626.1,122.4L627.6,123.1L629.2,123.6L630.7,123.8L632.2,124.6L633.7,125.5L635.2,125.0L636.7,124.2L638.2,124.1L639.7,124.2L641.2,124.6L642.7,124.9L644.2,125.6L645.7,125.4L647.2,125.4L648.7,125.5L650.2,125.1L651.1,42.6L652.9,42.6M422.8,184.0L422.8,134.1L423.3,182.0L423.3,182.0L424.3,181.8L425.3,174.9L426.4,167.5L427.4,158.7L428.4,158.3L429.4,154.9L430.4,152.9L431.4,158.4L432.5,159.8L433.5,154.4L434.5,153.8L435.5,156.2L436.5,157.2L437.6,154.0L438.6,157.9L439.6,161.3L440.6,158.5L441.6,156.3L442.6,155.7L443.7,157.8L444.7,156.0L445.7,150.8L446.7,146.0L447.7,144.2L448.8,144.1L449.8,140.1L450.8,136.0L451.8,135.6L452.8,136.2L453.9,128.6L454.9,121.7L455.9,117.7L456.9,117.9L457.9,112.4L458.9,111.9L460.0,110.5L461.0,110.5L462.0,109.1L462.0,112.0L462.7,111.4L463.4,108.4L464.1,114.9L464.8,111.7L465.5,109.0L466.2,120.3L466.9,116.7L467.6,106.7L468.3,110.9L469.0,110.7L469.7,114.1L470.4,111.2L471.1,125.0L471.8,102.2L472.5,115.9L473.2,112.3L473.9,119.0L474.6,103.1L475.3,99.8L476.0,104.6L476.7,129.8L477.5,115.8L478.2,113.0L478.9,108.6L479.6,108.2L480.3,113.5L481.0,108.6L481.7,101.7L482.4,102.6L483.1,117.8L483.8,118.0L484.5,116.3L485.2,113.6L485.9,115.6L486.6,116.3L487.3,135.1L488.0,108.9L488.7,109.3L489.4,106.9L490.1,114.6L490.8,107.9L491.5,112.8L492.2,121.5L492.9,111.7L493.6,119.6L494.3,123.1L495.0,103.4L495.7,99.5L496.4,116.9L497.1,110.0L497.8,117.4L498.5,118.4L499.2,111.3L499.9,119.2L500.6,124.6L501.3,140.3L502.0,115.4L502.7,113.8L503.4,111.5L504.1,123.9L504.8,115.3L505.5,108.3L506.2,115.1L506.9,117.9L507.6,112.8L508.4,115.6L509.1,115.1L509.8,119.4L510.5,129.8L511.2,116.8L511.9,112.6L512.6,117.7L513.3,110.2L514.0,121.7L514.7,117.5L515.4,117.0L516.1,101.5L516.8,129.5L517.5,124.2L518.2,123.2L518.9,129.4L519.6,119.8L520.3,132.6L521.0,112.0L521.7,120.4L522.4,119.6L523.1,117.0L523.8,118.3L524.5,110.6L525.2,120.2L525.9,108.8L526.6,127.2L527.3,121.2L528.0,111.7L528.7,104.5L529.4,117.4L530.1,119.8L530.8,111.0L531.5,126.7L532.2,118.6L532.9,114.3L533.6,129.0L534.3,92.8L535.0,116.0L535.7,121.0L536.4,123.4L537.1,117.5L537.8,120.1L538.5,125.8L539.3,121.1L540.0,116.0L540.7,121.2L541.4,114.6L542.1,120.3L542.8,118.0L543.5,111.4L544.2,121.3L544.9,118.4L545.6,122.2L546.3,110.2L547.0,124.5L547.7,124.8L548.4,100.2L549.1,117.5L549.8,133.9L550.5,118.1L551.2,123.1L551.9,114.1L552.6,119.3L553.3,116.9L554.0,129.4L554.0,107.0L554.0,42.8M440.0,156.0L441.0,151.9L442.0,152.4L443.0,149.8L444.0,149.5L445.0,148.0L446.0,148.7L447.0,152.1L448.0,147.2L449.0,145.9L450.0,148.3L451.0,144.2L452.0,142.6L453.0,141.5L454.0,141.2L455.0,137.4L456.0,138.2L457.0,138.8L458.0,142.3L459.0,139.5L460.0,136.7L461.0,136.0L462.0,130.5L463.0,132.1L464.0,134.9L465.0,133.6L466.0,132.6L467.0,131.4L468.0,131.2L469.0,128.4L470.0,131.4L470.0,126.0L470.7,123.9L471.4,133.5L472.1,126.0L472.8,123.9L473.5,133.3L474.2,126.5L474.9,129.9L475.6,123.0L476.3,117.5L477.0,126.3L477.7,134.8L478.4,123.3L479.1,127.0L479.8,128.5L480.5,126.4L481.2,125.4L481.9,128.6L482.6,126.0L483.3,99.1L484.0,129.7L484.7,128.5L485.4,126.5L486.1,128.0L486.8,112.6L487.5,125.8L488.2,124.7L488.9,121.5L489.6,133.9L490.3,125.9L491.0,122.3L491.7,122.5L492.5,125.4L493.2,124.0L493.9,116.7L494.6,122.2L495.3,124.5L496.0,126.7L496.7,127.7L497.4,118.9L498.1,120.8L498.8,125.3L499.5,120.8L500.2,124.5L500.9,119.7L501.6,126.1L502.3,123.6L503.0,125.9L503.7,123.4L504.4,119.6L505.1,117.6L505.8,123.3L506.5,120.2L507.2,116.2L507.9,120.4L508.6,113.9L509.3,128.4L510.0,126.2L510.7,128.9L511.4,120.9L512.1,121.9L512.8,118.2L513.5,118.9L514.2,126.3L514.9,124.3L515.6,125.2L516.3,134.1L517.0,131.0L517.7,118.2L518.4,126.5L519.1,118.5L519.8,126.4L520.5,113.3L521.2,117.5L521.9,117.6L522.6,130.8L523.3,113.5L524.0,126.6L524.7,126.4L525.4,122.0L526.1,122.0L526.8,133.1L527.5,122.4L528.2,119.9L528.9,127.3L529.6,124.6L530.3,115.7L531.0,121.8L531.7,122.2L532.4,115.6L533.1,116.4L533.8,117.6L534.5,115.1L535.2,122.9L535.9,121.9L536.6,110.2L537.4,118.4L538.1,121.0L538.8,114.0L539.5,118.8L540.2,121.4L540.9,112.2L541.6,118.5L542.3,109.0L543.0,123.2L543.7,116.3L544.4,112.9L545.1,111.0L545.8,111.9L546.5,125.2L547.2,115.4L547.9,116.6L548.6,117.3L549.3,112.1L550.0,122.5L550.7,107.4L551.4,122.9L552.1,115.2L552.8,118.8L553.5,119.9L554.2,122.4L554.9,112.7L555.6,121.2L556.3,118.1L557.0,117.5L557.7,116.9L558.4,123.2L559.1,120.2L559.1,109.4L559.1,42.8M447.0,100.0L447.7,97.9L448.4,101.1L449.1,96.0L449.8,96.6L450.5,92.7L451.2,97.3L451.9,98.7L452.6,99.3L453.3,101.2L454.0,101.6L454.7,104.5L455.4,100.3L456.1,108.1L456.8,104.7L457.5,108.7L458.2,101.6L458.9,108.1L459.6,102.6L460.3,94.0L461.0,102.3L461.7,105.0L462.4,95.4L463.1,97.9L463.8,99.9L464.5,114.4L465.2,104.7L465.9,105.3L466.6,108.1L467.3,109.0L468.0,107.8L468.7,96.4L469.4,110.2L470.1,99.1L470.8,106.4L471.5,103.9L472.2,112.6L472.9,110.6L473.6,113.9L474.3,107.3L475.0,105.1L475.7,109.0L476.4,117.3L477.1,108.0L477.8,105.8L478.5,99.6L479.2,102.1L479.9,105.5L480.7,109.5L481.4,109.3L482.1,105.9L482.8,107.1L483.5,114.2L484.2,115.9L484.9,112.8L485.6,114.6L486.3,113.3L487.0,116.3L487.7,103.5L488.4,105.0L489.1,108.8L489.8,109.7L490.5,114.6L491.2,98.9L491.9,108.9L492.6,109.6L493.3,105.1L494.0,107.9L494.7,113.7L495.4,111.1L496.1,108.3L496.8,110.1L497.5,108.6L498.2,111.1L498.9,109.0L499.6,114.5L500.3,107.0L501.0,109.7L501.7,104.5L502.4,109.1L503.1,114.4L503.8,105.4L504.5,108.8L505.2,111.2L505.9,109.0L506.6,115.1L507.3,104.9L508.0,115.4L508.7,117.9L509.4,119.7L510.1,111.3L510.8,107.7L511.5,104.0L512.2,115.4L512.9,116.2L512.9,107.0L512.9,42.8M452.0,115.0L452.7,113.8L453.4,117.2L454.1,107.9L454.8,119.2L455.5,124.1L456.2,121.6L456.9,118.9L457.6,114.9L458.3,114.6L459.0,128.3L459.7,111.7L460.4,123.9L461.1,119.9L461.8,119.4L462.5,113.6L463.2,119.7L463.9,114.2L464.6,112.6L465.3,118.9L466.0,113.5L466.7,118.9L467.4,112.7L468.1,119.1L468.8,118.5L469.5,113.2L470.2,112.8L471.0,114.0L471.7,114.7L472.4,114.5L473.1,124.8L473.8,118.8L474.5,115.7L475.2,115.9L475.9,113.9L476.6,118.5L477.3,117.1L478.0,114.6L478.7,114.6L479.4,115.9L480.1,113.3L480.8,118.2L481.5,114.0L482.2,120.1L482.9,116.6L483.6,132.9L484.3,115.7L485.0,110.4L485.7,112.7L486.4,117.1L487.1,120.0L487.8,120.2L488.5,120.7L489.2,121.5L489.9,120.2L490.6,120.6L491.3,117.9L492.0,121.2L492.7,118.5L493.4,118.8L494.1,119.9L494.8,128.8L495.5,113.2L496.2,117.4L496.9,118.3L497.6,121.3L498.3,119.6L499.0,126.5L499.7,113.2L500.4,127.4L501.1,114.7L501.8,117.0L502.5,122.3L503.2,120.4L503.9,120.1L504.6,130.2L505.3,121.9L506.0,124.4L506.7,122.2L507.4,115.3L508.1,117.5L508.9,126.4L509.6,128.7L510.3,124.7L511.0,125.3L511.7,122.2L512.4,129.6L513.1,118.7L513.8,119.7L514.5,118.0L515.2,127.8L515.9,119.2L516.6,123.5L517.3,115.7L518.0,115.4L518.7,125.7L519.4,124.6L520.1,125.3L520.8,122.7L521.5,120.7L522.2,120.3L522.9,117.4L523.6,120.5L524.3,127.8L525.0,121.6L525.7,116.9L526.4,121.4L527.1,118.4L527.8,117.8L528.5,122.1L529.2,119.5L529.9,117.5L530.6,129.1L531.3,130.0L532.0,123.5L532.7,129.1L533.4,121.1L534.1,123.0L534.8,128.6L535.5,124.5L536.2,126.7L536.9,111.9L537.6,124.6L538.3,121.7L539.0,123.1L539.7,117.3L540.4,120.5L541.1,126.2L541.8,126.2L542.5,127.1L543.2,127.5L543.9,128.5L544.6,113.3L545.3,123.1L546.0,129.6L546.8,122.5L547.5,120.3L548.2,120.2L548.9,124.1L549.6,115.0L550.3,119.5L551.0,121.3L551.7,126.9L552.4,129.3L553.1,126.2L553.8,124.7L554.5,123.0L555.2,129.7L555.9,128.1L556.6,122.5L557.3,125.2L558.0,127.1L558.7,129.2L559.4,124.1L560.1,131.8L560.8,130.5L561.5,124.0L562.2,125.0L562.9,122.1L563.6,122.2L564.3,127.4L565.0,132.1"/>
<path stroke="#00f" d="M413.9,67.7L413.9,45.6L414.7,41.1L415.5,39.0L416.3,37.7L417.1,36.7L417.9,35.8L418.7,35.2L419.5,34.6L420.4,34.1L421.2,33.6L422.0,33.2L422.8,32.8L423.6,32.5L424.4,32.2L425.2,31.9L426.0,31.6L426.1,118.0M413.9,61.4L413.9,47.3L414.7,42.6L415.5,40.4L416.3,39.0L417.2,37.9L418.0,37.1L418.8,36.3L419.6,35.7L420.4,35.2L421.2,34.7L422.0,34.3L422.9,33.9L423.7,33.6L424.5,33.2L425.3,32.9L426.1,32.6L426.9,32.4L427.7,32.1L428.6,31.9L429.4,31.7L430.2,31.5L431.0,31.4L431.1,181.0M413.9,62.6L413.9,50.1L414.7,44.8L415.6,42.4L416.4,40.8L417.2,39.6L418.0,38.6L418.9,37.8L419.7,37.1L420.5,36.5L421.4,36.0L422.2,35.5L423.0,35.1L423.9,34.7L424.7,34.3L425.5,34.0L426.3,33.7L427.2,33.4L428.0,33.1L428.1,140.0M413.9,58.5L413.9,48.9L414.7,44.4L415.5,42.2L416.3,40.8L417.1,39.8L417.9,39.0L418.7,38.3L419.5,37.7L420.3,37.2L421.1,36.7L421.9,36.3L422.7,35.9L423.5,35.6L424.4,35.2L425.2,34.9L426.0,34.7L426.8,34.4L427.6,34.2L428.4,33.9L429.2,33.7L430.0,33.5L430.8,33.4L431.6,33.3L432.4,33.2L433.2,33.1L434.0,33.1L434.1,100.0M413.9,70.0L413.9,52.1L414.7,47.0L415.5,44.7L416.3,43.1L417.1,42.0L417.9,41.0L418.7,40.3L419.5,39.6L420.4,39.0L421.2,38.5L422.0,38.1L422.8,37.6L423.6,37.3L424.4,36.9L425.2,36.6L426.0,36.3L426.8,36.0L427.6,35.7L428.4,35.5L429.2,35.2L430.0,35.0L430.9,34.9L431.7,34.8L432.5,34.7L433.3,34.6L434.1,34.5L434.9,34.4L435.7,34.3L436.5,34.3L436.6,127.0M413.9,60.8L413.9,53.5L414.7,48.6L415.5,46.3L416.3,44.8L417.1,43.7L417.9,42.8L418.7,42.1L419.5,41.5L420.3,40.9L421.2,40.4L422.0,40.0L422.8,39.6L423.6,39.2L424.4,38.8L425.2,38.5L426.0,38.2L426.8,38.0L427.6,37.7L428.4,37.4L429.2,37.2L430.0,37.0L430.8,36.9L431.6,36.8L432.4,36.7L433.2,36.6L434.1,36.5L434.9,36.4L435.7,36.4L436.5,36.3L437.3,36.3L438.1,36.2L438.9,36.2L439.7,36.1L439.8,168.0M413.9,69.7L413.9,53.9L414.7,49.5L415.5,47.5L416.3,46.1L417.1,45.1L417.9,44.3L418.7,43.6L419.5,43.1L420.3,42.6L421.1,42.1L421.9,41.7L422.7,41.3L423.5,41.0L424.3,40.7L425.1,40.4L425.2,95.0M413.6,107.0L414.4,96.7L415.3,87.7L416.1,81.5L416.9,77.2L417.7,73.5L418.6,70.4L419.4,67.8L420.2,65.6L421.1,63.9L421.9,62.3L422.7,60.9L423.6,59.6L424.4,58.5L425.2,57.4L426.0,56.5L426.9,55.8L427.7,55.2L428.5,54.7L429.4,54.2L430.2,53.8L431.0,53.4L431.9,53.0L432.7,52.6L433.5,52.4L434.3,52.2L435.2,52.0L436.0,52.0L436.1,120.0M413.6,115.0L414.4,104.6L415.3,95.6L416.1,89.4L416.9,85.1L417.8,81.4L418.6,78.3L419.5,75.7L420.3,73.5L421.1,71.8L422.0,70.2L422.8,68.8L423.6,67.5L424.5,66.3L425.3,65.3L426.1,64.4L427.0,63.7L427.8,63.1L428.7,62.6L429.5,62.1L430.3,61.7L431.2,61.3L432.0,60.9L432.1,150.0M413.6,123.0L414.4,112.9L415.2,104.0L416.0,97.8L416.9,93.5L417.7,89.9L418.5,86.7L419.3,84.1L420.1,81.9L420.9,80.2L421.7,78.6L422.5,77.2L423.4,75.9L424.2,74.7L425.0,73.7L425.8,72.8L426.6,72.0L427.4,71.4L428.2,70.9L429.1,70.4L429.9,69.9L430.7,69.5L431.5,69.1L432.3,68.8L433.1,68.5L433.9,68.3L434.7,68.1L435.6,68.0L436.4,68.0L437.2,68.0L438.0,68.1L438.1,112.0M413.6,131.0L414.4,120.9L415.2,112.1L416.0,105.8L416.8,101.6L417.7,97.9L418.5,94.8L419.3,92.2L420.1,90.0L420.9,88.2L421.7,86.7L422.5,85.3L423.3,84.0L424.1,82.8L424.9,81.8L425.8,80.8L426.6,80.1L427.4,79.4L428.2,78.9L429.0,78.4L429.1,130.0M432.0,83.0L440.0,82.5L451.6,81.0M426.0,111.0L435.0,110.0L443.0,109.0M433.0,119.0L445.0,116.0M443.0,110.0L447.0,106.0L452.0,108.0M437.0,100.0L446.0,98.0L449.0,92.0"/>
</g>
<g clip-path="url(#cc)" fill="none" stroke-width="1.15" stroke-linejoin="round">
<path stroke="#f00" d="M77.6,382.1L78.4,378.5L79.2,375.4L79.9,373.1L80.7,371.5L81.5,370.1L82.3,368.8L83.0,367.6L83.8,366.5L84.6,365.5L85.3,364.6L86.1,363.8L86.9,363.0L87.7,362.2L88.4,361.5L89.2,360.8L90.0,360.0L90.7,359.3L91.5,358.6L92.3,357.9L93.1,357.2L93.8,356.6L94.6,356.0L95.4,355.4L96.1,354.8L96.9,354.2L97.7,353.6L98.5,353.1L99.2,352.6L100.0,352.0L100.0,352.0L102.1,350.7L104.2,349.3L106.3,347.9L108.4,346.6L110.5,345.1L112.7,343.9L114.8,342.6L116.9,341.6L119.0,340.7L121.1,339.5L123.2,338.7L125.3,337.4L127.4,336.5L129.5,335.3L131.6,334.6L133.7,333.8L133.9,318.6L165.8,318.6L165.8,316.1L179.9,316.1L179.9,318.6L200.8,318.6L200.8,318.6L238.5,318.6L238.5,316.1L250.9,316.1L250.9,316.1L262.7,316.1L262.7,318.6M77.7,386.6L78.5,382.7L79.2,379.7L80.0,377.6L80.8,376.1L81.5,374.7L82.3,373.5L83.1,372.4L83.9,371.4L84.6,370.4L85.4,369.6L86.2,368.8L86.9,368.0L87.7,367.3L88.5,366.5L89.2,365.8L90.0,365.1L90.8,364.4L91.5,363.7L92.3,363.1L93.1,362.4L93.8,361.8L94.6,361.2L95.4,360.6L96.2,360.1L96.9,359.5L97.7,358.9L98.5,358.4L99.2,357.9L100.0,357.4L100.0,357.4L102.0,356.0L104.0,354.8L106.0,353.4L108.0,352.1L110.0,350.8L112.0,349.5L114.0,348.3L116.1,347.0L118.1,346.1L120.1,345.1L122.1,344.1L124.1,343.1L126.1,342.3L128.1,341.6L130.1,340.5L132.1,339.5L134.1,338.7L136.1,337.6L138.1,337.1L140.1,336.4L142.1,335.6L144.2,334.7L146.2,334.0L148.2,333.4L150.2,332.6L152.2,331.7L154.2,330.7L156.2,330.2L158.2,329.5L160.2,328.6L162.2,328.2L164.2,327.6L166.2,326.7L168.2,326.1L168.4,320.5L208.4,320.5L208.4,320.5L241.7,320.5L241.7,320.5L249.0,320.5L249.0,318.0M77.3,394.2L78.1,389.4L78.9,385.6L79.6,383.1L80.4,381.4L81.2,380.0L82.0,378.8L82.8,377.7L83.6,376.7L84.3,375.8L85.1,374.9L85.9,374.1L86.7,373.3L87.5,372.5L88.3,371.8L89.0,371.1L89.8,370.4L90.6,369.7L91.4,369.0L92.2,368.4L93.0,367.8L93.7,367.1L94.5,366.5L95.3,366.0L96.1,365.4L96.9,364.8L97.7,364.3L98.4,363.8L99.2,363.2L100.0,362.7L100.0,362.7L102.1,361.4L104.2,360.2L106.3,358.7L108.4,357.2L110.4,356.0L112.5,354.6L114.6,353.3L116.7,352.1L118.8,351.1L120.9,349.8L123.0,348.6L125.1,347.6L127.2,346.6L129.2,345.5L131.3,344.5L133.4,343.7L135.5,342.9L137.6,342.1L139.7,341.2L141.8,340.4L143.9,339.1L144.1,322.4L175.0,322.4L175.0,319.9L187.3,319.9L187.3,323.9L218.9,323.9L218.9,319.9L225.4,319.9L225.4,323.9M77.2,400.2L78.0,394.8L78.8,390.4L79.5,387.9L80.3,386.2L81.1,384.8L81.9,383.6L82.7,382.6L83.5,381.7L84.3,380.8L85.1,380.0L85.8,379.1L86.6,378.4L87.4,377.6L88.2,376.9L89.0,376.2L89.8,375.6L90.6,374.9L91.3,374.2L92.1,373.6L92.9,373.0L93.7,372.4L94.5,371.8L95.3,371.3L96.1,370.7L96.9,370.2L97.6,369.6L98.4,369.1L99.2,368.5L100.0,368.0L100.0,368.0L102.0,366.6L104.0,365.4L106.0,364.0L108.0,362.8L110.0,361.4L112.0,359.9L114.0,358.6L116.0,357.5L118.0,356.5L120.0,355.3L122.0,354.2L124.0,353.2L126.0,352.3L128.0,351.2L130.0,350.4L132.1,349.2L134.1,348.2L136.1,347.4L138.1,346.5L140.1,345.4L142.1,344.5L144.1,343.6L146.1,342.9L148.1,342.1L150.1,341.1L152.1,340.3L154.1,339.5L156.1,338.7L158.1,338.0L160.1,337.2L162.1,336.5L164.1,335.9L166.1,335.3L168.1,334.8L170.1,334.0L172.1,333.2L174.1,332.6L176.1,332.1L178.1,331.6L180.1,331.1L182.1,330.7L184.1,330.1L186.1,329.6L188.1,328.9L190.1,328.6L192.1,328.1L194.1,327.5L196.2,327.0L198.2,326.7L200.2,326.6L202.2,326.3L204.2,325.6L206.2,325.2L208.2,324.9L210.2,324.7L212.2,324.3L214.2,323.8L216.2,323.6L218.2,323.1L220.2,322.5L222.2,322.2L224.2,321.8L226.2,321.8L228.2,321.6L230.2,321.1L232.2,320.8L234.2,320.5L236.2,320.0L238.2,319.4L240.2,319.3L242.2,319.1L244.2,318.8L246.2,318.2L248.2,318.1L250.2,317.8L252.2,317.5L254.2,317.3L256.2,317.0L258.2,316.9L260.3,316.7L262.3,316.3L264.3,316.2L266.3,315.9L268.3,315.5L270.3,315.3L272.3,315.1L274.3,314.6L276.3,314.5L278.3,314.4L280.3,314.1L282.3,314.2L284.3,314.2L286.3,313.8L288.3,313.6L288.5,318.6M77.1,402.8L77.8,397.1L78.6,392.3L79.4,389.6L80.2,387.8L81.0,386.4L81.8,385.2L82.6,384.2L83.4,383.2L84.2,382.4L85.0,381.6L85.8,380.7L86.5,380.0L87.3,379.2L88.1,378.5L88.9,377.8L89.7,377.1L90.5,376.5L91.3,375.8L92.1,375.2L92.9,374.6L93.7,374.0L94.5,373.4L95.3,372.9L96.0,372.3L96.8,371.8L97.6,371.2L98.4,370.7L99.2,370.2L100.0,369.6L100.0,369.6L102.0,368.2L104.0,367.0L106.1,365.4L108.1,364.1L110.1,362.8L112.1,361.5L114.2,360.1L116.2,359.1L118.2,357.9L120.2,356.9L122.3,355.9L124.3,354.9L126.3,353.6L128.3,352.4L130.4,351.4L132.4,350.5L134.4,349.7L136.4,348.5L138.5,347.5L140.5,346.7L142.5,345.9L144.5,345.2L146.5,344.0L148.6,343.1L150.6,342.1L152.6,341.4L154.6,340.7L156.7,339.8L158.7,338.9L160.7,338.3L162.7,337.7L164.8,336.8L166.8,336.1L168.8,335.6L170.8,334.9L172.9,334.4L174.9,333.6L176.9,333.0L178.9,332.2L180.9,331.8L183.0,331.6L185.0,330.7L187.0,330.3L189.0,330.1L191.1,329.6L193.1,328.8L195.1,328.7L197.1,328.1L199.2,328.0L201.2,327.5L203.2,327.0L205.2,326.7L207.3,326.3L209.3,326.1L211.3,325.8L213.3,325.3L215.4,325.2L217.4,324.8L219.4,324.4L221.4,324.0L223.4,323.6L225.5,323.2L227.5,323.0L229.5,322.7L231.5,322.3L233.6,322.1L235.6,321.6L237.6,321.3L239.6,321.1L241.7,320.6L243.7,320.2L245.7,320.2L247.7,319.7L249.8,319.6L251.8,319.1L253.8,318.9L255.8,318.4L257.8,318.1L259.9,317.9L261.9,317.6L263.9,317.6L265.9,317.5L268.0,317.3L268.2,320.5M77.3,402.9L78.0,397.1L78.8,392.8L79.6,390.5L80.4,388.9L81.2,387.5L82.0,386.4L82.7,385.4L83.5,384.5L84.3,383.7L85.1,382.9L85.9,382.1L86.7,381.3L87.5,380.6L88.2,379.9L89.0,379.2L89.8,378.6L90.6,377.9L91.4,377.3L92.2,376.7L92.9,376.1L93.7,375.5L94.5,374.9L95.3,374.4L96.1,373.8L96.9,373.3L97.6,372.8L98.4,372.2L99.2,371.7L100.0,371.2L100.0,371.2L102.0,369.8L104.0,368.5L106.0,367.2L108.0,365.9L110.1,364.6L112.1,363.3L114.1,362.1L116.1,360.8L118.1,359.7L120.1,358.4L122.1,357.3L124.1,356.2L126.1,355.3L128.1,354.4L130.2,353.2L132.2,352.1L134.2,351.0L136.2,350.0L138.2,349.0L140.2,348.2L142.2,347.1L144.2,346.3L146.2,345.5L148.3,344.7L150.3,344.0L152.3,343.1L154.3,342.4L156.3,341.4L158.3,340.5L160.3,339.7L162.3,339.0L164.3,338.4L166.3,337.6L168.4,337.2L170.4,336.6L172.4,335.9L174.4,335.3L176.4,334.5L178.4,333.7L180.4,333.3L182.4,332.9L184.4,332.4L186.5,331.8L188.5,331.3L190.5,331.1L192.5,330.7L194.5,330.2L196.5,329.7L198.5,329.4L200.5,329.1L202.5,328.7L204.6,328.2L206.6,327.8L208.6,327.3L210.6,326.9L212.6,326.7L214.6,326.2L216.6,325.9L218.6,325.7L220.6,325.3L222.6,325.0L224.7,324.6L226.7,324.1L228.7,323.8L230.7,323.5L232.7,323.0L234.7,322.6L236.7,322.4L238.7,322.3L240.7,321.9L242.8,321.7L244.8,321.5L246.8,321.2L248.8,320.8L250.8,320.7L252.8,320.5L254.8,319.9L256.8,319.8L258.8,319.6L260.8,319.4L262.9,319.1L264.9,318.9L266.9,318.8L268.9,318.6L270.9,318.4L272.9,318.2L274.9,317.9L276.9,317.6L278.9,317.2L281.0,317.2L281.2,322.4M77.1,404.7L77.9,398.8L78.6,393.9L79.4,391.3L80.2,389.5L81.0,388.1L81.8,387.0L82.6,386.0L83.4,385.1L84.2,384.2L85.0,383.4L85.8,382.6L86.6,381.8L87.3,381.1L88.1,380.4L88.9,379.7L89.7,379.0L90.5,378.4L91.3,377.7L92.1,377.1L92.9,376.5L93.7,375.9L94.5,375.4L95.3,374.8L96.0,374.3L96.8,373.7L97.6,373.2L98.4,372.7L99.2,372.1L100.0,371.6L100.0,371.6L102.0,369.6L104.0,367.8L106.1,366.3L108.1,365.7L110.1,364.4L112.1,363.3L114.1,362.1L116.2,360.6L118.2,359.3L120.2,358.0L122.2,357.1L124.2,355.4L126.3,354.6L128.3,354.2L130.3,353.7L132.3,353.0L134.3,351.9L136.4,350.4L138.4,349.7L140.4,348.8L142.4,347.8L144.4,346.3L146.5,345.7L148.5,345.3L150.5,344.5L152.5,343.3L154.5,342.6L156.6,341.6L158.6,340.8L160.6,340.3L162.6,339.5L164.6,338.7L166.7,338.1L168.7,337.0L170.7,336.1L172.7,335.8L174.7,335.1L176.8,334.8L178.8,333.6L180.8,333.7L182.8,333.1L184.8,333.2L186.9,331.6L188.9,330.7L189.1,320.5L221.2,320.5L221.2,322.0L223.3,322.0L223.3,320.5M77.5,402.4L78.3,396.9L79.1,393.4L79.9,391.4L80.6,389.9L81.4,388.7L82.2,387.6L83.0,386.7L83.7,385.9L84.5,385.1L85.3,384.3L86.1,383.5L86.8,382.8L87.6,382.1L88.4,381.4L89.2,380.7L89.9,380.1L90.7,379.4L91.5,378.8L92.3,378.2L93.0,377.7L93.8,377.1L94.6,376.6L95.4,376.0L96.1,375.5L96.9,375.0L97.7,374.4L98.5,373.9L99.2,373.4L100.0,372.9L100.0,372.9L102.1,372.0L104.2,370.0L106.2,368.7L108.3,367.9L110.4,366.2L112.5,364.7L114.6,363.7L116.6,362.8L118.7,362.2L120.8,360.4L122.9,359.1L125.0,358.4L127.1,355.7L129.1,354.9L131.2,354.3L133.3,353.1L135.4,351.5L137.5,351.1L139.5,350.8L141.6,349.4L143.7,348.0L145.8,346.9L147.9,347.0L149.9,346.5L150.1,322.4L166.8,322.4L166.8,319.9L183.1,319.9L183.1,319.9L198.1,319.9L198.1,322.4M77.2,405.0L78.0,399.1L78.8,394.5L79.6,392.2L80.4,390.5L81.1,389.2L81.9,388.0L82.7,387.1L83.5,386.2L84.3,385.4L85.1,384.6L85.9,383.8L86.6,383.0L87.4,382.3L88.2,381.6L89.0,381.0L89.8,380.3L90.6,379.7L91.4,379.0L92.1,378.4L92.9,377.8L93.7,377.3L94.5,376.7L95.3,376.2L96.1,375.6L96.9,375.1L97.6,374.6L98.4,374.0L99.2,373.5L100.0,373.0L100.0,373.0L102.0,372.5L104.1,371.0L106.1,368.7L108.2,367.0L110.2,366.3L112.3,365.4L114.3,362.8L116.4,362.4L118.4,361.5L120.4,360.5L122.5,358.6L124.5,357.7L126.6,356.4L128.6,355.6L130.7,355.4L132.7,354.3L134.7,353.4L136.8,351.9L138.8,350.3L140.9,349.4L142.9,348.9L145.0,348.4L147.0,347.1L149.1,346.1L151.1,344.9L153.1,343.2L155.2,342.7L157.2,342.2L159.3,341.3L161.3,340.5L163.4,339.1L165.4,338.8L167.4,339.0L169.5,338.2L171.5,337.8L173.6,337.2L173.8,322.4L209.9,322.4L209.9,319.9L222.4,319.9L222.4,323.9L228.0,323.9L228.0,322.4M77.3,404.7L78.0,398.8L78.8,394.4L79.6,392.1L80.4,390.5L81.2,389.2L82.0,388.1L82.8,387.1L83.5,386.3L84.3,385.5L85.1,384.7L85.9,383.9L86.7,383.1L87.5,382.4L88.2,381.7L89.0,381.0L89.8,380.4L90.6,379.7L91.4,379.1L92.2,378.5L92.9,377.9L93.7,377.4L94.5,376.8L95.3,376.3L96.1,375.7L96.9,375.2L97.6,374.7L98.4,374.1L99.2,373.6L100.0,373.1L100.0,373.1L102.0,371.0L104.0,370.5L106.0,368.8L108.1,368.5L110.1,367.2L112.1,365.4L114.1,364.7L116.1,362.1L118.1,360.7L120.2,359.6L122.2,359.3L124.2,358.6L126.2,357.5L128.2,355.3L130.2,354.3L132.3,352.9L134.3,352.9L136.3,351.6L138.3,351.0L140.3,350.9L142.3,349.4L144.4,348.6L146.4,347.2L148.4,346.2L150.4,345.3L152.4,344.4L154.4,343.6L156.5,342.5L158.5,342.7L160.5,341.3L162.5,340.6L164.5,339.7L166.5,337.9L168.6,338.2L170.6,337.8L172.6,336.5L174.6,335.8L176.6,334.8L178.6,334.8L180.7,335.3L182.7,335.2L184.7,333.7L186.7,332.5L188.7,332.6L190.7,333.1L192.8,332.4L194.8,332.3L196.8,330.9L198.8,330.5L200.8,330.4L202.8,329.8L204.9,329.4L206.9,329.4L208.9,328.6L210.9,327.9L212.9,328.1L214.9,327.8L217.0,326.9L219.0,327.0L221.0,326.4L223.0,326.5L225.0,326.1L227.0,325.6L229.1,324.9L231.1,324.8L233.1,324.6L235.1,325.2L237.1,324.6L239.1,323.4L241.2,324.3L243.2,322.7L245.2,323.4L247.2,322.5L249.2,322.9L251.2,322.3L253.3,322.2L255.3,321.8L257.3,321.4L259.3,321.3L261.3,320.6L263.3,320.7L265.4,319.8L267.4,319.4L269.4,319.2L269.6,322.4M77.7,401.6L78.5,396.3L79.2,393.3L80.0,391.5L80.8,390.0L81.5,388.9L82.3,387.8L83.1,387.0L83.8,386.1L84.6,385.4L85.4,384.6L86.2,383.8L86.9,383.1L87.7,382.4L88.5,381.7L89.2,381.1L90.0,380.4L90.8,379.8L91.5,379.2L92.3,378.6L93.1,378.1L93.8,377.5L94.6,377.0L95.4,376.4L96.2,375.9L96.9,375.4L97.7,374.9L98.5,374.3L99.2,373.8L100.0,373.3L100.0,373.3L102.1,371.7L104.1,370.3L106.2,368.8L108.2,367.6L110.3,365.5L112.4,364.8L114.4,364.0L116.5,362.4L118.5,361.2L120.6,359.7L122.7,359.2L124.7,358.2L126.8,358.2L128.8,356.5L130.9,354.8L132.9,353.5L135.0,352.0L137.1,351.3L139.1,350.5L141.2,349.9L143.2,349.0L145.3,347.7L147.4,347.3L149.4,346.4L151.5,345.6L153.5,343.9L155.6,342.8L157.7,341.8L159.7,341.1L161.8,339.6L163.8,339.9L165.9,339.2L168.0,339.0L168.2,320.5L182.6,320.5L182.6,318.0L206.9,318.0L206.9,320.5L236.9,320.5L236.9,318.0L269.1,318.0L269.1,322.0L279.8,322.0L279.8,320.5M77.5,403.4L78.3,397.7L79.0,394.0L79.8,392.0L80.6,390.5L81.4,389.3L82.1,388.2L82.9,387.3L83.7,386.5L84.5,385.7L85.3,384.9L86.0,384.1L86.8,383.4L87.6,382.7L88.4,382.0L89.1,381.4L89.9,380.7L90.7,380.1L91.5,379.5L92.2,378.9L93.0,378.3L93.8,377.7L94.6,377.2L95.3,376.7L96.1,376.1L96.9,375.6L97.7,375.1L98.4,374.6L99.2,374.0L100.0,373.5L100.0,373.5L102.0,372.7L104.0,371.1L106.0,370.0L108.0,368.2L110.0,367.1L112.0,365.9L114.0,364.4L116.0,363.3L118.0,362.9L120.0,361.4L122.0,359.8L124.0,358.3L126.0,357.4L128.0,356.9L130.0,355.7L132.0,354.7L134.0,354.9L136.1,352.9L138.1,351.2L140.1,350.4L142.1,349.3L144.1,348.7L146.1,348.3L148.1,347.3L150.1,346.0L152.1,345.3L154.1,344.5L156.1,343.5L158.1,342.3L160.1,341.9L162.1,341.0L164.1,339.7L166.1,339.6L168.1,338.7L170.1,337.9L172.1,337.8L174.1,336.8L176.1,336.3L178.1,335.4L180.1,334.3L182.1,334.4L184.1,334.8L186.1,333.8L188.1,333.9L190.1,333.8L192.1,333.7L194.1,332.3L196.1,331.5L198.1,331.9L200.1,331.2L202.1,330.7L204.1,330.6L206.2,330.3L208.2,329.4L210.2,328.9L212.2,328.9L214.2,328.6L216.2,327.7L218.2,328.1L220.2,327.9L222.2,327.2L224.2,326.5L226.2,326.6L228.2,325.0L230.2,325.1L232.2,324.7L234.2,324.3L236.2,324.7L238.2,324.5L240.2,325.6L242.2,324.6L244.2,324.1L246.2,322.9L248.2,323.2L250.2,322.6L252.2,322.4L254.2,322.8L256.2,322.8L256.4,322.4M77.4,404.9L78.2,399.0L78.9,394.9L79.7,392.9L80.5,391.3L81.3,390.0L82.1,389.0L82.8,388.0L83.6,387.2L84.4,386.4L85.2,385.6L86.0,384.8L86.7,384.1L87.5,383.4L88.3,382.7L89.1,382.1L89.9,381.4L90.6,380.8L91.4,380.2L92.2,379.6L93.0,379.0L93.8,378.4L94.5,377.9L95.3,377.4L96.1,376.8L96.9,376.3L97.7,375.8L98.4,375.2L99.2,374.7L100.0,374.2L100.0,374.2L102.0,373.9L104.1,372.0L106.1,370.4L108.2,368.8L110.2,367.7L112.3,365.5L114.3,364.9L116.4,364.1L118.4,362.4L120.5,360.8L122.5,359.4L124.6,358.8L126.6,358.4L128.7,356.6L130.7,354.9L132.8,354.2L134.8,353.5L136.9,352.8L138.9,351.4L141.0,350.8L143.0,350.2L145.1,348.2L147.1,347.3L149.2,346.8L151.2,346.2L153.3,344.9L155.3,343.2L157.4,342.4L159.4,341.3L161.5,340.7L163.5,340.9L165.6,339.9L167.6,339.4L169.7,338.3L169.9,320.5L202.5,320.5L202.5,320.5L236.1,320.5L236.1,320.5L260.2,320.5L260.2,320.5M77.1,408.8L77.9,402.5L78.6,397.3L79.4,394.7L80.2,393.0L81.0,391.7L81.8,390.5L82.6,389.6L83.4,388.7L84.2,387.9L85.0,387.2L85.8,386.4L86.6,385.6L87.3,384.9L88.1,384.2L88.9,383.5L89.7,382.9L90.5,382.2L91.3,381.6L92.1,381.0L92.9,380.4L93.7,379.9L94.5,379.3L95.3,378.8L96.0,378.3L96.8,377.7L97.6,377.2L98.4,376.7L99.2,376.1L100.0,375.6L100.0,375.6L102.0,373.9L104.0,373.3L106.0,371.0L108.0,370.1L110.0,369.9L112.0,368.3L114.0,367.8L116.0,366.0L118.0,364.3L120.1,363.5L122.1,362.0L124.1,360.8L126.1,359.4L128.1,357.7L130.1,356.7L132.1,356.3L134.1,355.8L136.1,354.5L138.1,353.5L140.1,351.9L142.1,350.9L144.1,350.0L146.1,349.1L148.1,348.2L150.1,347.5L152.1,347.2L154.1,346.5L156.1,345.6L158.2,343.9L160.2,342.7L162.2,342.2L164.2,341.7L166.2,341.5L168.2,339.8L170.2,339.6L172.2,339.2L174.2,338.4L176.2,337.6L176.4,322.4L212.1,322.4L212.1,319.9L246.9,319.9L246.9,322.4L249.3,322.4L249.3,322.4M77.5,406.4L78.3,400.5L79.1,396.9L79.9,395.0L80.6,393.6L81.4,392.4L82.2,391.4L83.0,390.5L83.7,389.7L84.5,389.0L85.3,388.2L86.1,387.4L86.8,386.7L87.6,386.0L88.4,385.4L89.2,384.7L89.9,384.1L90.7,383.5L91.5,382.9L92.3,382.3L93.0,381.8L93.8,381.2L94.6,380.7L95.4,380.2L96.1,379.7L96.9,379.1L97.7,378.6L98.5,378.1L99.2,377.6L100.0,377.1L100.0,377.1L102.0,376.4L104.0,375.3L106.1,373.7L108.1,372.6L110.1,371.2L112.1,370.1L114.1,368.4L116.1,366.9L118.2,365.3L120.2,363.9L122.2,362.2L124.2,361.9L126.2,361.3L128.3,360.3L130.3,359.3L132.3,358.0L134.3,357.0L136.3,355.2L138.3,354.2L140.4,352.5L142.4,351.6L144.4,350.8L146.4,349.9L148.4,348.7L150.4,348.6L152.5,348.0L154.5,346.8L156.5,345.4L158.5,344.6L160.5,344.4L162.6,342.8L164.6,342.7L166.6,342.1L168.6,341.3L170.6,341.2L172.6,340.5L174.7,339.7L176.7,339.6L178.7,338.2L180.7,338.5L182.7,337.4L184.8,336.6L186.8,336.9L188.8,337.6L190.8,337.0L192.8,335.7L194.8,334.2L196.9,334.1L198.9,333.8L200.9,333.2L202.9,332.9L204.9,332.3L206.9,332.4L209.0,332.0L211.0,331.5L213.0,330.3L215.0,330.4L217.0,329.7L219.1,330.0L221.1,329.7L223.1,328.6L225.1,328.5L227.1,328.0L229.1,328.2L231.2,328.2L233.2,328.3L235.2,327.5L237.2,327.4L239.2,326.5L241.3,326.5L243.3,326.2L245.3,326.1L247.3,325.8L249.3,326.0L251.3,325.4L253.4,325.0L255.4,325.3L257.4,324.8L259.4,324.3L261.4,323.7L263.5,323.6L265.5,323.5L267.5,323.5L269.5,323.2L271.5,323.2L273.5,322.8L275.6,323.2L277.6,322.7L279.6,322.6L281.6,322.3L281.8,318.6L319.7,318.6L319.7,318.6M77.5,407.1L78.2,401.1L79.0,397.2L79.8,395.3L80.6,393.8L81.3,392.6L82.1,391.6L82.9,390.7L83.7,389.9L84.5,389.1L85.2,388.4L86.0,387.6L86.8,386.9L87.6,386.2L88.3,385.5L89.1,384.9L89.9,384.2L90.7,383.6L91.5,383.0L92.2,382.5L93.0,381.9L93.8,381.4L94.6,380.8L95.3,380.3L96.1,379.8L96.9,379.3L97.7,378.7L98.4,378.2L99.2,377.7L100.0,377.2L100.0,377.2L102.0,375.2L104.0,374.1L106.0,372.5L108.1,371.3L110.1,369.9L112.1,369.1L114.1,368.2L116.1,367.0L118.1,365.9L120.1,365.2L122.1,363.9L124.2,361.8L126.2,360.7L128.2,359.5L130.2,358.9L132.2,357.9L134.2,357.1L136.2,355.2L138.3,354.9L140.3,353.6L142.3,352.9L144.3,351.9L146.3,350.4L148.3,349.1L150.3,348.6L152.4,348.2L154.4,346.7L156.4,345.4L158.4,344.0L158.6,318.6L175.4,318.6L175.4,320.1L204.6,320.1L204.6,320.1L217.5,320.1L217.5,320.1L240.1,320.1L240.1,320.1L277.1,320.1L277.1,318.6L290.3,318.6L290.3,316.1L306.8,316.1L306.8,318.6L331.3,318.6L331.3,316.1M77.2,409.6L78.0,403.1L78.8,398.2L79.6,396.0L80.3,394.4L81.1,393.1L81.9,392.0L82.7,391.1L83.5,390.3L84.3,389.5L85.1,388.7L85.8,387.9L86.6,387.2L87.4,386.5L88.2,385.8L89.0,385.1L89.8,384.5L90.6,383.9L91.3,383.3L92.1,382.7L92.9,382.1L93.7,381.6L94.5,381.0L95.3,380.5L96.1,380.0L96.9,379.5L97.6,378.9L98.4,378.4L99.2,377.9L100.0,377.4L100.0,377.4L102.0,376.1L104.0,375.0L106.0,372.8L108.0,371.6L110.0,371.1L112.0,369.1L114.1,367.6L116.1,366.7L118.1,365.7L120.1,363.7L122.1,362.2L124.1,361.6L126.1,360.8L128.1,360.1L130.1,358.9L132.1,358.1L134.1,357.5L136.1,355.6L138.2,355.0L140.2,354.2L142.2,353.6L144.2,352.0L146.2,350.9L148.2,349.9L150.2,348.6L152.2,348.3L154.2,347.3L156.2,345.9L158.2,345.3L160.2,344.0L162.2,342.7L164.3,342.0L166.3,341.8L168.3,341.4L170.3,340.9L172.3,340.6L174.3,340.9L176.3,339.4L178.3,339.1L180.3,338.6L180.5,322.4L200.2,322.4L200.2,323.9L236.6,323.9L236.6,319.9L269.4,319.9L269.4,322.4L288.1,322.4L288.1,323.9M77.5,407.3L78.2,401.2L79.0,397.4L79.8,395.4L80.6,394.0L81.3,392.7L82.1,391.7L82.9,390.9L83.7,390.1L84.5,389.3L85.2,388.5L86.0,387.8L86.8,387.1L87.6,386.4L88.3,385.7L89.1,385.1L89.9,384.4L90.7,383.8L91.5,383.2L92.2,382.7L93.0,382.1L93.8,381.6L94.6,381.0L95.3,380.5L96.1,380.0L96.9,379.5L97.7,378.9L98.4,378.4L99.2,377.9L100.0,377.4L100.0,377.4L102.1,375.6L104.1,374.3L106.2,372.8L108.2,370.9L110.3,370.4L112.3,368.7L114.4,366.4L116.5,366.2L118.5,364.8L120.6,364.0L122.6,363.0L124.7,361.6L126.7,360.3L128.8,357.9L130.8,357.2L132.9,356.0L135.0,355.7L137.0,354.5L139.1,353.3L141.1,352.7L143.2,351.2L143.4,320.5L158.0,320.5L158.0,318.0L184.4,318.0L184.4,322.0M77.5,407.2L78.3,401.2L79.1,397.6L79.9,395.8L80.6,394.3L81.4,393.1L82.2,392.2L83.0,391.3L83.7,390.5L84.5,389.8L85.3,389.0L86.1,388.3L86.8,387.5L87.6,386.8L88.4,386.2L89.2,385.5L89.9,384.9L90.7,384.3L91.5,383.7L92.3,383.2L93.0,382.6L93.8,382.1L94.6,381.5L95.4,381.0L96.1,380.5L96.9,380.0L97.7,379.5L98.5,379.0L99.2,378.4L100.0,377.9L100.0,377.9L102.0,376.4L104.1,375.6L106.1,374.1L108.2,373.2L110.2,371.1L112.3,369.7L114.3,368.4L116.3,366.6L118.4,365.4L120.4,364.8L122.5,364.1L124.5,363.0L126.5,361.7L128.6,360.2L130.6,360.0L132.7,358.0L134.7,356.4L136.8,355.2L138.8,354.5L140.8,353.4L142.9,352.8L144.9,351.1L147.0,350.7L149.0,350.5L151.0,349.7L153.1,348.3L155.1,347.0L157.2,346.6L159.2,344.9L161.3,343.9L163.3,342.7L165.3,342.4L167.4,342.8L169.4,341.9L171.5,341.7L173.5,340.4L175.5,339.7L177.6,339.0L179.6,339.1L179.8,318.6L216.7,318.6L216.7,318.6L232.2,318.6L232.2,318.6L271.5,318.6L271.5,318.6L306.4,318.6L306.4,318.6L318.2,318.6L318.2,320.1M77.6,409.0L78.4,402.9L79.1,399.5L79.9,397.7L80.7,396.3L81.5,395.2L82.2,394.2L83.0,393.4L83.8,392.7L84.5,391.9L85.3,391.2L86.1,390.4L86.9,389.7L87.6,389.1L88.4,388.4L89.2,387.8L90.0,387.2L90.7,386.6L91.5,386.0L92.3,385.4L93.0,384.9L93.8,384.4L94.6,383.9L95.4,383.3L96.1,382.8L96.9,382.3L97.7,381.8L98.5,381.3L99.2,380.8L100.0,380.3L100.0,380.3L102.0,378.0L104.1,376.6L106.1,375.6L108.1,374.9L110.1,374.0L112.2,372.4L114.2,371.1L116.2,369.6L118.2,367.7L120.3,366.9L122.3,365.5L124.3,364.8L126.3,363.4L128.4,361.9L130.4,361.1L132.4,359.9L134.4,358.4L136.5,358.1L138.5,357.1L140.5,356.1L142.5,355.1L144.6,353.7L146.6,351.6L148.6,350.9L150.7,350.1L152.7,349.7L154.7,348.4L156.7,348.0L158.8,347.3L160.8,347.1L162.8,345.9L164.8,345.1L166.9,344.6L168.9,344.1L170.9,343.9L172.9,343.2L175.0,341.8L177.0,342.0L179.0,340.4L181.0,340.3L183.1,340.4L185.1,339.4L187.1,338.9L189.1,338.4L191.2,337.4L193.2,337.3L195.2,336.6L197.2,336.5L199.3,336.4L201.3,336.4L203.3,336.3L205.4,335.8L207.4,335.3L209.4,334.6L211.4,334.1L213.5,334.0L215.5,333.8L217.5,333.4L219.5,332.8L221.6,332.8L223.6,331.7L225.6,331.2L227.6,331.1L229.7,331.3L231.7,330.3L233.7,329.6L235.7,329.1L237.8,329.4L239.8,329.6L241.8,329.8L243.8,330.2L245.9,328.9L247.9,328.4L248.1,322.4M77.7,408.0L78.5,402.2L79.2,399.2L80.0,397.5L80.8,396.2L81.5,395.0L82.3,394.1L83.1,393.3L83.9,392.6L84.6,391.9L85.4,391.1L86.2,390.4L86.9,389.7L87.7,389.0L88.5,388.4L89.2,387.7L90.0,387.1L90.8,386.5L91.5,386.0L92.3,385.4L93.1,384.9L93.8,384.4L94.6,383.8L95.4,383.3L96.2,382.8L96.9,382.3L97.7,381.8L98.5,381.3L99.2,380.8L100.0,380.3L100.0,380.3L102.0,378.8L104.0,377.7L106.0,376.1L108.0,373.9L110.0,371.9L112.0,370.7L114.0,370.2L116.0,369.5L118.0,368.4L120.0,367.2L122.0,364.9L124.0,364.4L126.0,363.1L128.0,362.1L130.0,360.8L132.0,359.2L134.0,359.0L136.0,358.2L138.0,356.7L140.0,355.2L142.0,354.3L144.0,354.0L146.0,353.3L148.0,352.3L150.0,351.7L152.0,350.7L154.0,349.2L156.0,348.7L158.0,347.8L160.0,346.6L162.0,346.4L164.0,345.8L166.0,344.3L168.0,344.2L170.0,343.6L172.0,342.8L174.0,342.0L176.0,341.1L178.0,340.2L180.0,340.1L182.0,340.0L184.0,339.4L186.0,339.1L188.0,338.5L190.0,337.9L192.0,337.8L194.0,337.6L196.0,337.7L198.0,336.7L200.0,336.4L202.0,335.8L204.0,335.4L206.0,335.5L208.0,335.1L210.0,334.2L212.0,333.6L214.0,333.1L216.0,332.7L218.0,332.2L220.0,331.9L222.0,331.7L224.0,331.7L226.0,331.0L228.0,330.9L230.0,330.7L232.0,330.8L234.0,330.5L236.0,330.3L238.0,330.0L240.0,330.0L242.0,329.4L242.2,322.4M77.4,411.3L78.2,404.7L78.9,400.4L79.7,398.5L80.5,397.0L81.3,395.8L82.1,394.8L82.8,394.0L83.6,393.2L84.4,392.5L85.2,391.7L86.0,391.0L86.7,390.3L87.5,389.6L88.3,388.9L89.1,388.3L89.9,387.7L90.6,387.1L91.4,386.5L92.2,385.9L93.0,385.4L93.8,384.8L94.5,384.3L95.3,383.8L96.1,383.3L96.9,382.8L97.7,382.3L98.4,381.8L99.2,381.2L100.0,380.7L100.0,380.7L102.0,379.4L104.0,378.4L106.0,376.9L108.0,375.3L110.0,374.0L112.0,371.8L114.0,371.0L116.0,369.3L118.0,368.5L120.0,367.4L122.0,366.3L124.0,364.8L126.0,364.6L128.0,362.4L130.0,361.5L132.0,360.2L134.0,358.6L136.0,358.6L138.0,357.7L140.0,357.6L142.0,356.5L144.0,355.3L146.0,354.2L148.1,352.4L150.1,350.9L152.1,350.8L154.1,350.2L156.1,348.8L158.1,348.0L160.1,347.3L162.1,347.0L164.1,346.2L166.1,345.0L168.1,344.8L170.1,343.8L172.1,343.4L174.1,342.5L176.1,340.6L178.1,341.3L180.1,340.4L182.1,340.6L184.1,340.3L186.1,339.4L188.1,338.5L190.1,339.0L192.1,338.5L194.1,338.5L196.1,337.9L198.1,337.6L200.1,337.0L202.1,335.8L204.1,335.2L206.1,335.1L208.1,334.3L210.1,334.0L212.1,333.8L214.1,334.1L216.1,334.3L218.1,332.7L220.1,332.7L222.1,333.2L224.1,332.0L226.1,331.2L228.1,331.6L230.1,331.3L232.1,330.7L234.1,330.6L236.1,330.6L238.1,330.2L240.1,330.0L242.1,329.7L244.2,329.5L246.2,329.2L248.2,329.0L248.4,322.4M77.6,409.5L78.4,403.4L79.2,400.2L79.9,398.4L80.7,397.0L81.5,395.9L82.3,395.0L83.0,394.2L83.8,393.5L84.6,392.7L85.3,392.0L86.1,391.3L86.9,390.5L87.7,389.9L88.4,389.2L89.2,388.6L90.0,388.0L90.7,387.4L91.5,386.8L92.3,386.3L93.1,385.8L93.8,385.2L94.6,384.7L95.4,384.2L96.1,383.7L96.9,383.2L97.7,382.7L98.5,382.2L99.2,381.7L100.0,381.1L100.0,381.1L102.0,379.2L104.0,378.2L106.0,376.9L108.0,375.9L110.0,374.0L112.0,372.6L114.1,370.6L116.1,369.7L118.1,369.3L120.1,368.3L122.1,366.9L124.1,366.0L126.1,364.9L128.1,363.2L130.1,361.7L132.1,360.4L134.1,359.9L136.1,359.2L138.1,358.3L140.1,357.0L142.2,356.9L144.2,355.4L146.2,354.4L148.2,353.3L150.2,352.7L152.2,350.6L154.2,350.1L156.2,349.2L158.2,348.3L160.2,347.0L162.2,346.1L164.2,346.3L166.2,346.0L166.4,322.4L192.4,322.4L192.4,319.9M77.1,414.8L77.9,407.8L78.6,402.2L79.4,399.7L80.2,398.1L81.0,396.8L81.8,395.7L82.6,394.9L83.4,394.1L84.2,393.4L85.0,392.6L85.8,391.8L86.6,391.1L87.3,390.4L88.1,389.7L88.9,389.1L89.7,388.5L90.5,387.9L91.3,387.3L92.1,386.7L92.9,386.2L93.7,385.6L94.5,385.1L95.3,384.6L96.0,384.0L96.8,383.5L97.6,383.0L98.4,382.5L99.2,382.0L100.0,381.4L100.0,381.4L102.0,379.8L104.1,377.9L106.1,376.6L108.1,376.1L110.1,375.3L112.2,373.3L114.2,371.7L116.2,370.2L118.3,368.8L120.3,367.3L122.3,366.2L124.4,365.6L126.4,364.9L128.4,364.4L130.4,362.9L132.5,360.6L134.5,359.6L136.5,358.3L138.6,357.4L140.6,356.2L142.6,355.9L144.7,354.5L146.7,353.6L148.7,353.5L150.7,352.2L152.8,350.4L154.8,350.1L156.8,349.4L158.9,348.7L160.9,348.0L162.9,346.6L165.0,345.5L167.0,345.1L169.0,343.8L171.0,343.2L173.1,343.4L173.3,318.6L196.0,318.6L196.0,316.1L216.9,316.1L216.9,316.1L255.7,316.1L255.7,318.6L261.7,318.6L261.7,318.6M77.1,414.5L77.9,407.5L78.7,402.1L79.5,399.7L80.3,398.1L81.0,396.8L81.8,395.8L82.6,394.9L83.4,394.1L84.2,393.4L85.0,392.7L85.8,391.9L86.6,391.2L87.4,390.5L88.2,389.8L88.9,389.1L89.7,388.5L90.5,387.9L91.3,387.3L92.1,386.8L92.9,386.2L93.7,385.7L94.5,385.2L95.3,384.6L96.1,384.1L96.8,383.6L97.6,383.1L98.4,382.6L99.2,382.0L100.0,381.5L100.0,381.5L102.0,380.4L104.0,379.1L106.0,377.1L108.0,375.8L110.0,374.1L112.1,373.0L114.1,372.1L116.1,371.0L118.1,369.9L120.1,368.3L122.1,367.3L124.1,365.9L126.1,365.3L128.1,363.9L130.1,363.2L132.2,361.7L134.2,360.8L136.2,359.7L138.2,357.9L140.2,357.2L142.2,355.8L144.2,354.2L146.2,353.6L148.2,353.2L150.2,352.5L152.3,351.1L154.3,349.6L156.3,348.0L158.3,347.4L160.3,346.9L162.3,346.4L164.3,346.4L166.3,345.6L168.3,344.5L170.3,343.7L172.4,343.0L174.4,342.4L176.4,342.3L178.4,341.7L180.4,341.3L182.4,340.9L184.4,340.5L186.4,340.2L188.4,340.1L190.4,339.0L192.5,338.5L194.5,338.1L196.5,337.6L198.5,337.6L200.5,337.4L202.5,336.6L204.5,336.8L206.5,336.4L208.5,336.0L210.5,335.2L212.6,335.1L214.6,334.4L216.6,333.7L218.6,333.5L220.6,332.8L222.6,332.3L224.6,332.4L226.6,332.5L228.6,331.8L230.6,331.9L232.7,332.0L234.7,331.9L236.7,331.4L238.7,330.7L240.7,331.0L242.7,330.2L244.7,330.0L246.7,330.1L248.7,330.2L250.7,329.6L252.7,329.2L254.8,328.9L256.8,328.6L258.8,328.6L260.8,328.5L262.8,328.7L264.8,328.0L266.8,327.8L268.8,327.0L270.8,326.6L272.8,327.0L274.9,326.5L276.9,325.5L278.9,325.3L280.9,325.2L282.9,324.5L284.9,324.8L286.9,325.1L288.9,324.7L290.9,325.0L292.9,323.9L295.0,324.3L297.0,324.1L297.2,320.5M77.0,415.8L77.8,408.7L78.6,402.9L79.4,400.3L80.2,398.6L81.0,397.3L81.8,396.2L82.6,395.3L83.3,394.6L84.1,393.8L84.9,393.1L85.7,392.3L86.5,391.6L87.3,390.9L88.1,390.2L88.9,389.6L89.7,388.9L90.5,388.3L91.3,387.8L92.1,387.2L92.9,386.6L93.7,386.1L94.4,385.6L95.2,385.0L96.0,384.5L96.8,384.0L97.6,383.5L98.4,383.0L99.2,382.4L100.0,381.9L100.0,381.9L102.0,380.8L104.1,379.4L106.1,378.1L108.2,376.7L110.2,374.9L112.3,374.5L114.3,372.4L116.4,371.6L118.4,370.1L120.5,369.2L122.5,367.6L124.5,366.9L126.6,365.6L128.6,364.8L130.7,364.2L132.7,362.6L134.8,361.2L136.8,358.7L138.9,357.9L140.9,357.4L143.0,356.2L145.0,355.2L147.0,354.1L149.1,352.2L151.1,352.0L153.2,350.8L155.2,349.4L157.3,349.3L159.3,348.7L161.4,348.1L163.4,347.3L165.5,346.2L167.5,346.0L169.5,344.8L171.6,344.4L173.6,343.3L175.7,342.4L177.7,342.5L179.8,341.7L181.8,342.0L183.9,340.7L184.1,322.4M77.6,410.4L78.4,404.3L79.2,401.0L79.9,399.2L80.7,397.9L81.5,396.7L82.3,395.8L83.0,395.0L83.8,394.3L84.6,393.6L85.3,392.9L86.1,392.1L86.9,391.4L87.7,390.8L88.4,390.1L89.2,389.5L90.0,388.9L90.7,388.3L91.5,387.8L92.3,387.2L93.1,386.7L93.8,386.2L94.6,385.7L95.4,385.1L96.1,384.6L96.9,384.1L97.7,383.6L98.5,383.1L99.2,382.6L100.0,382.1L100.0,382.1L102.0,381.0L104.0,379.7L106.0,378.4L108.0,377.5L110.0,376.3L112.0,374.7L114.1,372.8L116.1,372.1L118.1,370.4L120.1,368.5L122.1,368.3L124.1,367.7L126.1,365.5L128.1,364.5L130.1,362.8L132.1,362.2L134.1,360.9L136.1,359.3L138.2,358.9L140.2,357.5L142.2,356.7L144.2,355.5L146.2,355.2L148.2,354.4L150.2,353.0L152.2,351.1L154.2,350.6L156.2,349.5L158.2,349.3L160.2,349.1L162.3,348.0L164.3,347.5L166.3,346.0L168.3,345.7L170.3,345.6L172.3,344.2L174.3,343.9L176.3,343.4L178.3,343.1L180.3,342.4L182.3,341.7L184.3,341.6L186.3,340.9L188.4,340.5L190.4,339.3L192.4,339.1L194.4,339.0L196.4,338.4L198.4,337.9L200.4,336.7L202.4,336.2L204.4,336.1L206.4,335.8L208.4,336.5L210.4,336.2L212.5,335.1L214.5,335.7L216.5,334.5L218.5,333.7L220.5,333.2L222.5,333.1L224.5,333.9L226.5,333.2L228.5,333.0L230.5,331.9L232.5,331.5L234.5,332.4L236.6,332.3L238.6,332.0L240.6,331.9L242.6,331.4L244.6,331.0L246.6,330.0L248.6,329.1L250.6,328.8L252.6,328.7L254.6,328.3L256.6,328.6L258.6,329.2L260.6,328.7L262.7,327.7L264.7,327.1L266.7,327.6L268.7,327.7L270.7,327.5L272.7,327.4L274.7,327.5L276.7,327.1L278.7,326.8L278.9,320.5L309.5,320.5L309.5,320.5L323.0,320.5L323.0,320.5L334.2,320.5L334.2,320.5M77.4,413.8L78.1,406.9L78.9,402.4L79.7,400.5L80.5,399.0L81.3,397.8L82.0,396.9L82.8,396.1L83.6,395.4L84.4,394.7L85.2,393.9L85.9,393.2L86.7,392.4L87.5,391.8L88.3,391.1L89.1,390.5L89.8,389.9L90.6,389.3L91.4,388.7L92.2,388.2L93.0,387.6L93.8,387.1L94.5,386.6L95.3,386.1L96.1,385.6L96.9,385.1L97.7,384.6L98.4,384.0L99.2,383.5L100.0,383.0L100.0,383.0L102.0,382.1L104.0,381.4L106.0,379.6L108.0,378.2L110.1,377.2L112.1,375.0L114.1,374.0L116.1,372.4L118.1,370.9L120.1,370.1L122.1,368.7L124.1,367.6L126.2,365.9L128.2,364.9L130.2,363.5L132.2,362.5L134.2,362.8L136.2,361.3L138.2,359.9L140.2,358.5L142.3,357.1L144.3,357.0L146.3,355.4L148.3,355.5L150.3,354.0L152.3,353.3L154.3,352.1L156.3,350.7L158.3,349.7L160.4,349.5L162.4,348.5L164.4,346.8L166.4,347.2L168.4,346.1L170.4,345.4L172.4,345.5L174.4,343.9L176.5,343.3L178.5,343.2L180.5,343.0L182.5,342.6L184.5,341.5L186.5,341.5L188.5,340.7L190.5,340.4L192.6,339.5L194.6,340.0L196.6,339.1L198.6,338.6L200.6,338.0L202.6,337.8L204.6,336.8L206.6,336.6L208.6,336.3L210.7,336.8L212.7,336.1L214.7,335.6L216.7,335.3L218.7,335.4L220.7,335.8L222.7,335.1L224.7,334.7L226.8,334.8L228.8,334.0L230.8,333.6L232.8,332.8L234.8,332.3L236.8,331.7L238.8,332.6L240.8,332.3L242.8,332.0L244.9,331.0L246.9,330.8L248.9,330.2L250.9,329.7L252.9,329.0L254.9,328.8L256.9,330.2L257.1,320.5M77.3,414.8L78.1,407.8L78.8,403.0L79.6,401.0L80.4,399.5L81.2,398.2L82.0,397.3L82.8,396.4L83.5,395.7L84.3,395.0L85.1,394.3L85.9,393.5L86.7,392.8L87.5,392.1L88.2,391.5L89.0,390.8L89.8,390.2L90.6,389.6L91.4,389.1L92.2,388.5L92.9,388.0L93.7,387.5L94.5,387.0L95.3,386.4L96.1,385.9L96.9,385.4L97.6,384.9L98.4,384.4L99.2,383.9L100.0,383.3L100.0,383.3L102.0,382.4L104.0,381.6L106.0,379.9L108.1,378.1L110.1,376.4L112.1,374.7L114.1,373.9L116.1,372.9L118.1,372.2L120.1,370.2L122.1,369.3L124.2,368.2L126.2,366.8L128.2,365.3L130.2,364.3L132.2,364.0L134.2,362.2L136.2,360.8L138.2,359.6L140.3,358.6L142.3,358.0L144.3,356.7L146.3,354.8L148.3,353.7L150.3,352.6L152.3,352.2L154.4,351.5L156.4,350.3L158.4,350.0L160.4,348.5L160.6,320.5L178.4,320.5L178.4,318.0L202.9,318.0L202.9,320.5L226.1,320.5L226.1,320.5L244.6,320.5L244.6,320.5L276.0,320.5L276.0,320.5L279.9,320.5L279.9,320.5M77.7,412.3L78.5,406.4L79.3,403.5L80.1,401.9L80.8,400.5L81.6,399.4L82.4,398.5L83.1,397.8L83.9,397.0L84.7,396.3L85.4,395.6L86.2,394.8L87.0,394.1L87.7,393.4L88.5,392.8L89.3,392.1L90.0,391.5L90.8,390.9L91.6,390.4L92.3,389.8L93.1,389.3L93.9,388.8L94.6,388.3L95.4,387.7L96.2,387.2L96.9,386.7L97.7,386.2L98.5,385.7L99.2,385.2L100.0,384.7L100.0,384.7L102.1,383.1L104.1,381.4L106.2,379.4L108.2,378.3L110.3,377.6L112.4,376.0L114.4,374.5L116.5,373.2L118.5,372.2L120.6,370.4L122.7,369.7L124.7,369.4L126.8,368.0L128.8,366.6L130.9,365.5L133.0,364.4L135.0,362.9L137.1,361.7L139.1,360.4L141.2,359.6L143.3,359.2L145.3,357.8L145.5,322.4L159.7,322.4L159.7,322.4L179.1,322.4L179.1,323.9L191.3,323.9L191.3,319.9L210.7,319.9L210.7,323.9L244.5,323.9L244.5,319.9L283.3,319.9L283.3,319.9L308.1,319.9L308.1,319.9L330.8,319.9L330.8,323.9M77.7,416.2L78.5,410.2L79.2,407.1L80.0,405.3L80.8,403.9L81.5,402.7L82.3,401.7L83.1,400.8L83.9,400.0L84.6,399.2L85.4,398.3L86.2,397.5L86.9,396.7L87.7,395.9L88.5,395.2L89.2,394.5L90.0,393.9L90.8,393.2L91.5,392.6L92.3,392.0L93.1,391.5L93.8,390.9L94.6,390.3L95.4,389.8L96.2,389.3L96.9,388.7L97.7,388.2L98.5,387.6L99.2,387.1L100.0,386.5L100.0,386.5L102.1,385.8L104.1,384.2L106.2,382.4L108.2,380.5L110.3,379.3L112.3,377.8L114.4,377.2L116.4,375.7L118.5,374.3L120.5,373.4L122.6,372.3L124.6,369.7L126.7,369.6L128.7,367.5L130.8,366.0L132.9,364.9L134.9,363.6L137.0,363.6L139.0,362.3L141.1,360.6L143.1,359.5L145.2,358.2L147.2,357.0L149.3,356.5L151.3,355.8L153.4,354.7L155.4,353.2L157.5,352.2L159.5,352.1L161.6,351.5L163.7,350.5L165.7,350.1L167.8,348.4L169.8,347.7L171.9,347.4L173.9,347.0L176.0,347.0L176.2,320.5L205.3,320.5L205.3,318.0L235.7,318.0L235.7,320.5M77.4,419.4L78.1,412.7L78.9,408.2L79.7,406.1L80.5,404.5L81.3,403.2L82.0,402.1L82.8,401.2L83.6,400.4L84.4,399.5L85.2,398.7L85.9,397.8L86.7,397.0L87.5,396.2L88.3,395.5L89.1,394.8L89.8,394.1L90.6,393.5L91.4,392.8L92.2,392.2L93.0,391.6L93.8,391.0L94.5,390.5L95.3,389.9L96.1,389.4L96.9,388.8L97.7,388.3L98.4,387.7L99.2,387.2L100.0,386.6L100.0,386.6L102.1,385.7L104.1,384.6L106.2,383.4L108.3,381.9L110.3,380.0L112.4,378.3L114.4,376.3L116.5,375.5L118.6,374.5L120.6,373.8L122.7,371.8L124.8,371.0L126.8,369.6L128.9,368.2L131.0,367.0L133.0,365.3L135.1,364.2L137.1,362.8L139.2,361.6L141.3,360.8L143.3,359.6L145.4,358.8L147.5,357.5L149.5,356.4L149.7,320.5L165.8,320.5L165.8,320.5L200.1,320.5L200.1,320.5L213.5,320.5L213.5,320.5M77.1,422.6L77.9,415.6L78.7,410.0L79.5,407.5L80.2,405.7L81.0,404.3L81.8,403.1L82.6,402.1L83.4,401.2L84.2,400.4L85.0,399.5L85.8,398.6L86.6,397.8L87.4,396.9L88.1,396.2L88.9,395.4L89.7,394.7L90.5,394.1L91.3,393.4L92.1,392.8L92.9,392.2L93.7,391.6L94.5,391.0L95.3,390.4L96.0,389.9L96.8,389.3L97.6,388.7L98.4,388.2L99.2,387.6L100.0,387.0L100.0,387.0L102.0,386.6L104.0,383.9L106.0,382.7L108.0,381.1L110.0,379.8L112.0,378.9L114.0,377.5L116.0,376.1L118.0,374.0L120.0,373.0L122.0,371.6L124.0,370.8L126.0,370.2L128.0,368.5L130.0,367.3L132.0,366.6L134.0,364.6L136.1,363.5L138.1,362.0L140.1,361.1L142.1,360.3L144.1,359.3L146.1,359.1L148.1,358.4L148.3,318.6L170.4,318.6L170.4,318.6L194.6,318.6L194.6,320.1M77.6,418.2L78.4,412.0L79.2,408.7L79.9,406.8L80.7,405.3L81.5,404.0L82.3,402.9L83.0,402.0L83.8,401.1L84.6,400.3L85.3,399.4L86.1,398.6L86.9,397.7L87.7,396.9L88.4,396.2L89.2,395.5L90.0,394.8L90.7,394.1L91.5,393.5L92.3,392.9L93.1,392.3L93.8,391.7L94.6,391.2L95.4,390.6L96.1,390.0L96.9,389.5L97.7,388.9L98.5,388.4L99.2,387.8L100.0,387.3L100.0,387.3L102.0,385.5L104.1,384.9L106.1,383.2L108.2,382.2L110.2,381.2L112.3,379.6L114.3,378.5L116.4,376.7L118.4,374.6L120.5,373.2L122.5,372.4L124.6,371.8L126.6,370.4L128.7,368.5L130.7,367.3L132.7,365.6L134.8,364.7L136.8,364.2L138.9,362.7L140.9,361.4L143.0,360.3L145.0,359.2L147.1,358.4L149.1,357.5L151.2,356.7L153.2,355.3L155.3,354.8L157.3,354.0L157.5,318.6L188.0,318.6L188.0,320.1M77.5,428.9L78.3,422.7L79.0,418.8L79.8,416.5L80.6,414.7L81.4,413.1L82.1,411.8L82.9,410.5L83.7,409.4L84.5,408.3L85.3,407.1L86.0,406.1L86.8,405.0L87.6,404.0L88.4,403.1L89.1,402.2L89.9,401.4L90.7,400.6L91.5,399.8L92.2,399.1L93.0,398.3L93.8,397.7L94.6,397.0L95.3,396.3L96.1,395.7L96.9,395.0L97.7,394.4L98.4,393.8L99.2,393.1L100.0,392.5L100.0,392.5L102.0,391.5L104.1,389.6L106.1,387.8L108.2,386.8L110.2,384.6L112.3,382.8L114.3,380.7L116.4,379.4L118.4,378.9L120.5,377.4L122.5,376.9L124.6,375.2L126.6,374.0L128.7,372.3L130.7,371.6L132.8,371.3L134.8,369.6L136.9,367.6L138.9,366.6L141.0,365.9L143.0,364.4L145.1,364.3L147.1,362.4L149.2,361.7L151.2,361.3L153.3,360.1L155.3,359.5L157.4,358.5L159.4,357.1L161.5,355.9L161.7,318.6L182.1,318.6L182.1,318.6L196.1,318.6L196.1,316.1M77.5,440.4L78.3,434.7L79.0,430.7L79.8,428.1L80.6,425.9L81.4,424.0L82.1,422.3L82.9,420.7L83.7,419.2L84.5,417.8L85.3,416.4L86.0,415.1L86.8,413.8L87.6,412.6L88.4,411.5L89.1,410.4L89.9,409.3L90.7,408.4L91.5,407.4L92.2,406.5L93.0,405.7L93.8,404.8L94.6,404.0L95.3,403.3L96.1,402.5L96.9,401.8L97.7,401.0L98.4,400.3L99.2,399.6L100.0,398.9L100.0,398.9L102.0,398.3L104.1,396.0L106.1,393.4L108.1,391.2L110.2,390.0L112.2,388.8L114.3,387.6L116.3,386.4L118.3,384.7L120.4,383.5L122.4,381.9L124.4,380.7L126.5,379.1L128.5,378.0L130.6,376.2L132.6,375.0L134.6,373.3L136.7,372.9L138.7,371.5L140.7,370.1L142.8,368.9L144.8,367.6L146.8,366.4L148.9,366.2L150.9,365.6L153.0,365.2L155.0,363.6L157.0,362.9L159.1,360.7L161.1,360.8L163.1,359.5L165.2,359.7L167.2,359.3L169.2,359.6L171.3,358.5L173.3,356.9L175.4,357.5L177.4,357.0L179.4,356.4L181.5,356.2L183.5,354.7L185.5,352.2L187.6,351.8L189.6,351.2L191.7,351.3L193.7,350.5L195.7,350.5L197.8,349.3L199.8,349.7L201.8,349.4M77.3,453.1L78.1,447.6L78.9,443.2L79.7,440.1L80.5,437.6L81.2,435.3L82.0,433.2L82.8,431.2L83.6,429.4L84.4,427.6L85.2,425.9L85.9,424.3L86.7,422.8L87.5,421.3L88.3,419.9L89.1,418.6L89.8,417.4L90.6,416.2L91.4,415.1L92.2,414.1L93.0,413.0L93.7,412.1L94.5,411.2L95.3,410.3L96.1,409.4L96.9,408.5L97.7,407.7L98.4,406.9L99.2,406.1L100.0,405.2L100.0,405.2L103.0,402.2L106.0,399.3L109.0,396.7L112.0,394.2L115.0,391.9L118.0,389.7L121.0,387.6L124.0,385.6L127.0,383.7L130.0,381.9L133.0,380.1L136.0,378.4L139.0,376.7L142.0,375.1L145.0,373.5L148.0,371.9L151.0,370.4L154.0,369.0L157.0,367.6L160.0,366.3L163.0,365.1L166.0,363.9L169.0,362.8L172.0,361.7L175.0,360.7L178.0,359.7L181.0,358.7L184.0,357.8L187.0,357.0L190.0,356.1L193.0,355.3L196.0,354.5L199.0,353.6L202.0,352.8L205.0,352.0L208.0,351.2L211.0,350.5L214.0,349.7L217.0,348.9L220.0,348.2L223.0,347.4L226.0,346.7L229.0,346.0L232.0,345.2L235.0,344.5L238.0,343.8L241.0,343.1L244.0,342.4L247.0,341.7L250.0,341.0L253.0,340.3L256.0,339.6L259.0,338.9L262.0,338.2L265.0,337.5L268.0,336.8L271.0,336.1L274.0,335.4L277.0,334.7L280.0,334.0L283.0,333.3L286.0,332.6L289.0,331.9L292.0,331.3L295.0,330.7L298.0,330.0L301.0,329.4L304.0,328.8L307.0,328.3L307.5,322.4L336.0,322.4M77.1,466.1L77.9,461.0L78.7,456.3L79.5,452.6L80.3,449.6L81.0,446.9L81.8,444.4L82.6,442.0L83.4,439.8L84.2,437.7L85.0,435.6L85.8,433.7L86.6,431.9L87.4,430.2L88.2,428.5L88.9,427.0L89.7,425.5L90.5,424.2L91.3,422.9L92.1,421.7L92.9,420.5L93.7,419.4L94.5,418.3L95.3,417.3L96.1,416.3L96.8,415.3L97.6,414.4L98.4,413.5L99.2,412.5L100.0,411.6L100.0,411.6L103.0,408.2L106.0,405.1L109.0,402.3L112.0,399.7L115.1,397.2L118.1,394.9L121.1,392.8L124.1,390.7L127.1,388.7L130.1,386.9L133.1,385.1L136.1,383.3L139.1,381.6L142.2,380.0L145.2,378.4L148.2,376.8L151.2,375.3L154.2,373.9L157.2,372.5L160.2,371.2L163.2,369.9L166.2,368.7L169.3,367.5L172.3,366.4L175.3,365.3L178.3,364.3L181.3,363.3L184.3,362.3L187.3,361.4L190.3,360.5L193.3,359.6L196.4,358.8L199.4,357.9L202.4,357.0L205.4,356.1L208.4,355.3L211.4,354.4L214.4,353.6L217.4,352.7L220.5,351.9L223.5,351.1L226.5,350.3L229.5,349.5L232.5,348.6L235.5,347.8L238.5,347.0L241.5,346.2L244.5,345.4L247.6,344.7L250.6,343.8L253.6,343.0L256.6,342.2L259.6,341.4L262.6,340.6L265.6,339.7L268.6,338.9L271.6,338.1L274.7,337.3L277.7,336.4L280.7,335.6L283.7,334.8L286.7,334.0L287.0,341.9L292.0,341.9M77.7,473.9L78.5,469.5L79.2,465.4L80.0,462.0L80.8,459.0L81.5,456.2L82.3,453.5L83.1,450.9L83.9,448.4L84.6,446.1L85.4,443.9L86.2,441.8L86.9,439.9L87.7,438.0L88.5,436.2L89.2,434.6L90.0,433.0L90.8,431.5L91.5,430.1L92.3,428.8L93.1,427.5L93.8,426.3L94.6,425.2L95.4,424.1L96.2,423.0L96.9,422.0L97.7,421.0L98.5,420.0L99.2,419.0L100.0,418.0L100.0,418.0L102.0,415.6L104.1,413.3L106.1,410.7L108.1,408.7L110.2,406.7L112.2,403.9L114.3,402.7L116.3,400.5L118.3,399.4L120.4,398.0L122.4,397.4L124.4,395.5L126.5,394.3L128.5,391.9L130.6,392.0L132.6,392.4L134.6,390.3L136.7,389.2L138.7,388.2L140.7,386.4L142.8,385.8L144.8,383.9L146.8,382.7L148.9,381.6L150.9,380.1L153.0,378.2L155.0,378.6L157.0,377.8L159.1,376.2L161.1,374.6L163.1,374.1L165.2,372.8L167.2,372.9L169.3,372.2L171.3,371.8L173.3,371.8L175.4,370.8L177.4,370.3L179.4,370.1L181.5,369.2L183.5,366.3L185.6,367.0L187.6,366.4L189.6,366.0L191.7,366.3L193.7,364.9L195.7,364.3L197.8,361.7L199.8,362.7L201.8,361.8L203.9,360.9L205.9,360.1L208.0,360.0L210.0,357.8M76.2,512.0L78.0,490.0L80.0,471.0M76.5,512.0L77.5,470.0M110.0,400.0L111.8,402.1L113.7,400.5L115.5,402.3L117.4,402.2L119.2,401.3L121.0,397.8L122.9,399.5L124.7,398.8L126.5,396.2L128.4,395.8L130.2,396.5L132.1,394.8L133.9,396.9L135.7,395.3L137.6,397.1L139.4,397.0L141.3,397.3L143.1,394.6L144.9,395.0L146.8,396.3L148.6,396.6L150.4,395.3L152.3,396.0L154.1,395.1L156.0,395.1L157.8,397.5L159.6,399.9L161.5,401.5L163.3,400.2L165.2,397.2L167.0,395.9L168.8,397.9L170.7,397.2L172.5,399.5L174.4,397.3L176.2,398.4L178.0,394.8L179.9,394.6L181.7,396.1L183.5,396.9L185.4,396.9L187.2,394.5L189.1,395.4L190.9,395.3L190.9,322.4M150.0,345.0L151.8,344.5L153.6,343.0L155.4,342.2L157.2,346.0L159.0,345.3L160.8,346.1L162.6,343.8L164.4,342.4L166.2,340.0L168.0,338.5L169.8,337.6L171.6,339.6L173.4,338.6L175.2,337.9L177.1,337.9L178.9,339.8L180.7,339.2L182.5,340.3L184.3,338.3L186.1,339.6L187.9,339.3L189.7,340.0L191.5,337.7L193.3,337.7L195.1,337.9L196.9,336.9L198.7,338.2L200.5,338.1L202.3,338.7L204.1,337.4L205.9,337.7L207.7,335.5L209.5,337.3L211.3,335.3L213.1,335.1L214.9,336.2L216.7,337.5L218.5,337.7L220.3,334.5L222.1,333.7L223.9,333.9L225.7,335.1L227.5,333.9L229.3,333.9L231.1,335.9L233.0,336.6L234.8,337.6L236.6,338.0L238.4,335.5L240.2,334.6L242.0,335.7L243.8,336.8L245.6,336.0L247.4,337.9L249.2,336.5L251.0,335.9L252.8,336.4L254.6,337.0L256.4,336.1L258.2,336.3L258.2,322.4M130.0,385.0L131.5,381.0L133.0,383.4L134.5,379.5L136.1,381.5L137.6,378.4L139.1,379.4L140.6,376.5L142.1,373.3L143.6,372.6L145.1,372.0L146.7,371.7L148.2,368.9L149.7,366.0L151.2,366.2L152.7,365.6L154.2,364.3L155.7,364.4L157.3,366.9L158.8,367.9L160.3,366.5L161.8,367.3L163.3,368.6L164.8,368.3L166.3,362.0L167.9,359.8L169.4,360.1L170.9,361.2L172.4,357.6L173.9,361.6L175.4,358.5L176.9,355.8L178.5,351.9L180.0,354.9L181.5,356.7L183.0,357.4M116.0,400.0L117.5,399.7L119.0,398.0L120.5,400.4L122.0,398.9L123.5,398.4L125.0,391.3L126.5,386.8L128.0,390.4L129.5,390.9L131.0,390.7L132.5,388.9L134.0,388.4L135.5,386.2L137.0,387.3L138.5,382.3L140.0,383.4M92.0,469.0L95.0,461.5L98.1,454.5L101.1,447.9L104.1,441.8L107.2,436.4L110.2,431.7L113.3,427.5L116.3,423.7L119.3,420.2L122.4,417.0L125.4,414.0L128.4,411.3L131.5,408.8L134.5,406.4L137.5,404.2L140.6,402.1L143.6,400.0L146.7,398.1L149.7,396.2L152.7,394.4L155.8,392.7L158.8,391.0L161.8,389.4L164.9,387.7L167.9,386.1L170.9,384.5L174.0,382.9L177.0,381.4L180.0,379.8L183.1,378.3L186.1,376.9L189.2,375.4L192.2,374.0L195.2,372.6L198.3,371.3L201.3,369.9L204.3,368.6L207.4,367.3L210.4,366.0L213.4,364.7L216.5,363.5L219.5,362.2L222.6,361.0L225.6,359.7L228.6,358.5L231.7,357.3L234.7,356.1L237.7,354.9L240.8,353.7L243.8,352.6L246.8,351.4L249.9,350.3L252.9,349.2L256.0,348.0L259.0,346.9L262.0,345.8L265.1,344.7L268.1,343.6L271.1,342.6L274.2,341.5L277.2,340.4L280.2,339.4L283.3,338.3L286.3,337.3L289.3,336.2L292.4,335.2L295.4,334.1L298.5,333.1L301.5,332.1L304.5,331.0L307.6,330.0L310.6,329.0L310.6,322.4M92.0,472.0L95.0,464.5L98.1,457.5L101.1,450.9L104.1,444.8L107.2,439.4L110.2,434.7L113.3,430.5L116.3,426.7L119.3,423.2L122.4,420.0L125.4,417.0L128.4,414.3L131.5,411.8L134.5,409.4L137.5,407.2L140.6,405.1L143.6,403.0L146.7,401.1L149.7,399.2L152.7,397.4L155.8,395.7L158.8,394.0L161.8,392.4L164.9,390.7L167.9,389.1L170.9,387.5L174.0,385.9L177.0,384.4L180.0,382.8L183.1,381.3L186.1,379.9L189.2,378.4L192.2,377.0L195.2,375.6L198.3,374.3L201.3,372.9L204.3,371.6L207.4,370.3L210.4,369.0L213.4,367.7L216.5,366.5L219.5,365.2L222.6,364.0L225.6,362.8L228.6,361.6L231.7,360.5L234.7,359.4L237.7,358.3L240.8,357.2L243.8,356.2L246.8,355.2L249.9,354.2L252.9,353.2L256.0,352.2L259.0,351.2L262.0,350.2L265.1,349.2L268.1,348.2L271.1,347.2L274.2,346.2L277.2,345.1L280.2,344.1L283.3,343.0L286.3,341.9L289.3,340.7L292.4,339.5L295.4,338.3L298.5,337.1L301.5,335.8L304.5,334.4L307.6,333.0L310.6,331.5L310.6,322.4"/>
<path stroke="#00f" d="M77.0,323.2L77.8,320.2L78.6,315.0L79.4,311.9L80.2,309.9L81.0,308.4L81.8,307.3L82.6,306.5L83.4,305.8L84.2,305.1L85.0,304.6L85.8,304.1L86.7,303.7L87.5,303.3L88.3,303.0L89.1,302.7L89.9,302.4L90.7,302.1L91.5,301.9L92.3,301.7L93.1,301.5L93.9,301.3L94.7,301.2L95.5,301.1L96.3,301.1L97.1,301.1L97.9,301.1L98.7,301.1L99.5,301.1L100.3,301.1L101.1,301.1L101.9,301.1L102.7,301.1L103.5,301.2L104.3,301.2L105.2,301.2L106.0,301.2L106.8,301.2L107.6,301.3L108.4,301.3L109.2,301.4L110.0,301.4L110.8,301.4L111.6,301.5L112.4,301.6L113.2,301.6L114.0,301.7L114.8,301.8L115.6,301.9L116.4,302.0L117.2,302.1L117.2,302.1L118.1,310.1L119.0,323.4L119.9,341.9L120.8,365.6L120.8,365.6L122.0,365.2L123.2,365.7L124.4,367.2L125.6,366.4L126.8,362.7L128.0,368.4L129.2,366.2M77.0,330.8L77.8,323.7L78.6,315.1L79.4,311.3L80.2,309.3L81.1,307.9L81.9,306.9L82.7,306.1L83.5,305.3L84.3,304.7L85.1,304.2L85.9,303.7L86.7,303.3L87.5,302.9L88.4,302.6L89.2,302.3L90.0,302.0L90.8,301.7L91.6,301.5L92.4,301.3L93.2,301.1L94.0,300.9L94.8,300.8L95.7,300.7L96.5,300.7L97.3,300.7L98.1,300.7L98.9,300.7L99.7,300.7L100.5,300.8L101.3,300.8L102.1,300.8L103.0,300.8L103.8,300.8L104.6,300.8L105.4,300.8L106.2,300.9L107.0,300.9L107.8,300.9L108.6,301.0L109.4,301.0L110.3,301.1L111.1,301.2L111.9,301.2L112.7,301.3L113.5,301.4L114.3,301.5L115.1,301.6L115.9,301.7L116.8,301.8L116.8,301.8L117.6,309.3L118.4,318.2L119.3,328.2L120.1,339.5L121.0,352.1M77.0,334.4L77.8,323.9L78.6,315.5L79.5,311.9L80.3,309.9L81.1,308.5L81.9,307.5L82.7,306.7L83.5,306.0L84.4,305.3L85.2,304.8L86.0,304.3L86.8,303.9L87.6,303.5L88.4,303.2L89.3,302.9L90.1,302.6L90.9,302.4L91.7,302.1L92.5,301.9L93.3,301.7L94.2,301.5L95.0,301.4L95.8,301.4L96.6,301.4L97.4,301.4L98.2,301.4L99.1,301.4L99.9,301.4L100.7,301.4L101.5,301.4L102.3,301.4L103.1,301.5L104.0,301.5L104.8,301.5L105.6,301.5L106.4,301.6L107.2,301.6L108.0,301.7L108.9,301.7L109.7,301.8L110.5,301.9L111.3,302.0L112.1,302.1L112.9,302.2L113.8,302.3L114.6,302.4L115.4,302.6L115.4,302.6L116.2,309.8L117.0,318.2L117.9,327.3L118.7,337.3L119.5,348.2L120.3,360.1M77.0,333.0L77.8,324.7L78.6,316.2L79.4,312.5L80.3,310.4L81.1,309.0L81.9,308.0L82.7,307.2L83.5,306.5L84.3,305.9L85.1,305.3L86.0,304.8L86.8,304.4L87.6,304.1L88.4,303.8L89.2,303.5L90.0,303.2L90.8,302.9L91.7,302.6L92.5,302.4L93.3,302.2L94.1,302.1L94.9,302.0L95.7,301.9L96.5,301.9L97.4,301.9L98.2,301.9L99.0,301.9L99.8,301.9L100.6,301.9L101.4,302.0L102.2,302.0L103.1,302.0L103.9,302.0L104.7,302.1L105.5,302.1L106.3,302.2L107.1,302.2L107.9,302.3L108.8,302.4L109.6,302.5L110.4,302.6L111.2,302.7L112.0,302.9L112.8,303.0L113.6,303.2L113.6,303.2L114.5,310.3L115.3,317.7L116.1,325.3L116.9,333.1L117.7,341.2L118.5,349.4L119.3,358.0M77.0,340.1L77.8,324.4L78.6,316.2L79.4,312.8L80.2,310.7L81.0,309.3L81.8,308.3L82.6,307.5L83.4,306.8L84.3,306.1L85.1,305.6L85.9,305.1L86.7,304.7L87.5,304.3L88.3,304.0L89.1,303.7L89.9,303.4L90.7,303.2L91.5,302.9L92.3,302.7L93.1,302.5L93.9,302.3L94.7,302.2L95.5,302.1L96.3,302.1L97.2,302.1L98.0,302.1L98.8,302.1L99.6,302.1L100.4,302.1L101.2,302.2L102.0,302.2L102.8,302.2L103.6,302.2L104.4,302.3L105.2,302.3L106.0,302.4L106.8,302.5L107.6,302.5L108.4,302.6L109.2,302.7L110.1,302.9L110.9,303.0L111.7,303.1L112.5,303.3L113.3,303.5L113.3,303.5L114.2,311.6L115.1,329.5L115.9,357.7L115.9,357.7L117.5,355.7L119.0,361.3L120.5,361.3M77.0,341.2L77.8,325.9L78.6,317.7L79.4,314.2L80.2,312.2L81.0,310.8L81.8,309.8L82.6,308.9L83.4,308.2L84.3,307.6L85.1,307.0L85.9,306.5L86.7,306.1L87.5,305.8L88.3,305.5L89.1,305.2L89.9,304.9L90.7,304.6L91.5,304.3L92.3,304.1L93.1,303.9L93.9,303.8L94.7,303.6L95.5,303.6L96.3,303.6L97.1,303.6L98.0,303.6L98.8,303.6L99.6,303.6L100.4,303.6L101.2,303.6L102.0,303.6L102.8,303.7L103.6,303.7L104.4,303.7L105.2,303.8L106.0,303.9L106.8,303.9L107.6,304.0L108.4,304.1L109.2,304.2L110.0,304.4L110.8,304.5L111.6,304.7L112.5,304.8L113.3,305.0L113.3,305.0L114.1,312.8L115.0,321.0L115.9,329.5L116.8,338.2L117.7,347.2L118.6,356.6M77.0,343.7L77.8,326.5L78.6,318.3L79.4,314.9L80.2,312.9L81.1,311.5L81.9,310.5L82.7,309.6L83.5,308.9L84.3,308.3L85.1,307.7L85.9,307.3L86.7,306.9L87.6,306.5L88.4,306.2L89.2,305.9L90.0,305.6L90.8,305.3L91.6,305.1L92.4,304.8L93.2,304.6L94.0,304.5L94.9,304.4L95.7,304.3L96.5,304.3L97.3,304.3L98.1,304.3L98.9,304.3L99.7,304.3L100.5,304.4L101.3,304.4L102.2,304.4L103.0,304.4L103.8,304.5L104.6,304.5L105.4,304.6L106.2,304.6L107.0,304.7L107.8,304.8L108.7,304.9L109.5,305.0L110.3,305.2L111.1,305.3L111.9,305.5L112.7,305.7L113.5,305.9L113.5,305.9L114.5,314.7L115.5,326.7L116.4,341.5L117.4,359.3L117.4,359.3L118.7,356.7L120.0,361.8L121.3,363.1L122.6,359.9L124.0,357.8L125.3,359.2L126.6,358.7L127.9,361.0M77.0,345.1L77.8,326.9L78.6,318.8L79.5,315.5L80.3,313.4L81.1,312.0L81.9,311.0L82.7,310.2L83.5,309.5L84.4,308.9L85.2,308.3L86.0,307.8L86.8,307.4L87.6,307.1L88.4,306.8L89.3,306.5L90.1,306.2L90.9,305.9L91.7,305.6L92.5,305.4L93.3,305.2L94.2,305.1L95.0,305.0L95.8,304.9L96.6,304.9L97.4,304.9L98.3,304.9L99.1,304.9L99.9,305.0L100.7,305.0L101.5,305.0L102.3,305.0L103.2,305.1L104.0,305.1L104.8,305.2L105.6,305.2L106.4,305.3L107.2,305.4L108.1,305.5L108.9,305.6L109.7,305.8L110.5,306.0L111.3,306.1L112.1,306.3L113.0,306.6L113.0,306.6L113.9,315.1L114.8,331.5L115.7,355.9L115.7,355.9L117.0,357.2L118.2,358.2L119.4,356.2L120.6,352.3L121.8,354.6L123.0,353.6L124.2,354.7L125.4,354.1M77.0,348.1L77.8,326.8L78.6,318.7L79.4,315.4L80.2,313.4L81.1,312.0L81.9,311.0L82.7,310.1L83.5,309.4L84.3,308.8L85.1,308.2L85.9,307.8L86.7,307.3L87.5,307.0L88.4,306.7L89.2,306.4L90.0,306.1L90.8,305.8L91.6,305.6L92.4,305.3L93.2,305.1L94.0,305.0L94.8,304.9L95.7,304.8L96.5,304.8L97.3,304.8L98.1,304.8L98.9,304.8L99.7,304.8L100.5,304.8L101.3,304.9L102.1,304.9L103.0,304.9L103.8,305.0L104.6,305.0L105.4,305.1L106.2,305.2L107.0,305.2L107.8,305.3L108.6,305.5L109.4,305.6L110.2,305.7L111.1,305.9L111.9,306.1L112.7,306.3L113.5,306.5L113.5,306.5L114.5,316.3L115.5,333.3L116.6,357.6L116.6,357.6L118.0,358.1L119.4,351.8L120.9,354.1M77.0,346.8L77.8,327.3L78.6,319.2L79.4,315.8L80.2,313.8L81.0,312.4L81.8,311.3L82.6,310.5L83.4,309.8L84.2,309.2L85.0,308.6L85.8,308.1L86.6,307.7L87.4,307.4L88.2,307.1L89.0,306.8L89.8,306.5L90.7,306.2L91.5,305.9L92.3,305.7L93.1,305.5L93.9,305.3L94.7,305.2L95.5,305.2L96.3,305.1L97.1,305.1L97.9,305.1L98.7,305.2L99.5,305.2L100.3,305.2L101.1,305.2L101.9,305.2L102.7,305.3L103.5,305.3L104.3,305.4L105.1,305.5L105.9,305.6L106.7,305.7L107.5,305.8L108.3,305.9L109.1,306.1L109.9,306.3L110.7,306.5L111.5,306.7L112.3,307.0L112.3,307.0L113.3,315.3L114.2,324.4L115.2,333.8L116.1,343.7L117.1,354.2M77.0,348.2L77.8,327.0L78.6,319.0L79.4,315.6L80.2,313.6L81.0,312.2L81.9,311.2L82.7,310.4L83.5,309.6L84.3,309.0L85.1,308.4L85.9,308.0L86.7,307.6L87.5,307.2L88.3,306.9L89.1,306.6L89.9,306.3L90.7,306.0L91.6,305.8L92.4,305.5L93.2,305.4L94.0,305.2L94.8,305.1L95.6,305.0L96.4,305.0L97.2,305.0L98.0,305.0L98.8,305.0L99.6,305.0L100.4,305.1L101.3,305.1L102.1,305.1L102.9,305.1L103.7,305.2L104.5,305.2L105.3,305.3L106.1,305.4L106.9,305.5L107.7,305.6L108.5,305.7L109.3,305.9L110.2,306.0L111.0,306.2L111.8,306.4L112.6,306.7L113.4,306.9L113.4,306.9L114.2,314.5L115.1,325.4L115.9,339.6L116.8,357.0M77.0,353.0L77.8,328.1L78.6,320.1L79.4,316.8L80.2,314.8L81.0,313.4L81.9,312.4L82.7,311.6L83.5,310.8L84.3,310.2L85.1,309.6L85.9,309.2L86.7,308.8L87.5,308.4L88.3,308.1L89.1,307.8L90.0,307.5L90.8,307.2L91.6,307.0L92.4,306.7L93.2,306.6L94.0,306.4L94.8,306.3L95.6,306.2L96.4,306.2L97.2,306.2L98.1,306.2L98.9,306.2L99.7,306.2L100.5,306.3L101.3,306.3L102.1,306.3L102.9,306.3L103.7,306.4L104.5,306.5L105.3,306.5L106.2,306.6L107.0,306.7L107.8,306.8L108.6,307.0L109.4,307.1L110.2,307.3L111.0,307.5L111.8,307.7L112.6,308.0L113.4,308.2L113.4,308.2L114.3,316.2L115.2,328.8L116.1,345.9L117.0,367.5L117.0,367.5L118.4,366.4L119.7,363.4L121.1,366.8L122.5,369.0L123.8,366.2M77.0,354.2L77.8,328.5L78.6,320.5L79.4,317.2L80.3,315.2L81.1,313.8L81.9,312.8L82.7,312.0L83.5,311.3L84.3,310.6L85.1,310.1L86.0,309.6L86.8,309.2L87.6,308.8L88.4,308.5L89.2,308.2L90.0,307.9L90.8,307.7L91.6,307.4L92.5,307.2L93.3,307.0L94.1,306.8L94.9,306.7L95.7,306.7L96.5,306.7L97.3,306.7L98.2,306.7L99.0,306.7L99.8,306.7L100.6,306.7L101.4,306.8L102.2,306.8L103.0,306.8L103.9,306.9L104.7,307.0L105.5,307.1L106.3,307.2L107.1,307.3L107.9,307.4L108.7,307.6L109.6,307.8L110.4,308.0L111.2,308.2L112.0,308.5L112.8,308.8L112.8,308.8L113.6,315.8L114.4,333.2L115.2,362.5M77.0,357.8L77.8,329.1L78.6,321.1L79.4,317.9L80.2,315.8L81.0,314.4L81.9,313.4L82.7,312.6L83.5,311.9L84.3,311.2L85.1,310.7L85.9,310.2L86.7,309.8L87.5,309.4L88.3,309.1L89.1,308.8L89.9,308.5L90.7,308.3L91.6,308.0L92.4,307.8L93.2,307.6L94.0,307.4L94.8,307.3L95.6,307.3L96.4,307.3L97.2,307.3L98.0,307.3L98.8,307.3L99.6,307.3L100.5,307.3L101.3,307.3L102.1,307.4L102.9,307.4L103.7,307.5L104.5,307.6L105.3,307.7L106.1,307.8L106.9,307.9L107.7,308.0L108.5,308.2L109.3,308.4L110.2,308.6L111.0,308.9L111.8,309.1L112.6,309.4L112.6,309.4L113.5,317.5L114.4,326.0L115.3,334.7L116.2,343.7L117.1,353.1L118.1,362.9L118.1,362.9L119.3,358.7L120.5,364.2L121.8,366.0L123.0,366.7L124.2,369.1L125.5,369.3L126.7,367.1L127.9,368.6M77.0,356.8L77.8,328.7L78.6,320.7L79.5,317.5L80.3,315.5L81.1,314.1L81.9,313.1L82.7,312.2L83.5,311.5L84.4,310.9L85.2,310.3L86.0,309.9L86.8,309.5L87.6,309.1L88.4,308.8L89.3,308.5L90.1,308.2L90.9,307.9L91.7,307.7L92.5,307.4L93.4,307.3L94.2,307.1L95.0,307.0L95.8,307.0L96.6,307.0L97.4,307.0L98.3,307.0L99.1,307.0L99.9,307.0L100.7,307.1L101.5,307.2L102.3,307.2L103.2,307.3L104.0,307.4L104.8,307.6L105.6,307.7L106.4,307.9L107.2,308.1L108.1,308.4L108.9,308.6L109.7,308.9L110.5,309.2L110.5,309.2L111.6,319.2L112.6,337.2L113.6,363.3L113.6,363.3L114.9,365.1L116.2,367.2L117.5,362.6L118.8,362.1L120.1,367.3L121.4,367.3L122.7,367.6L123.9,369.1L125.2,370.4M77.0,357.7L77.8,329.1L78.6,321.1L79.4,317.9L80.2,315.9L81.1,314.5L81.9,313.5L82.7,312.6L83.5,311.9L84.3,311.3L85.1,310.7L85.9,310.2L86.7,309.8L87.6,309.5L88.4,309.2L89.2,308.9L90.0,308.6L90.8,308.3L91.6,308.1L92.4,307.8L93.2,307.6L94.0,307.5L94.9,307.4L95.7,307.3L96.5,307.3L97.3,307.3L98.1,307.3L98.9,307.3L99.7,307.4L100.5,307.4L101.4,307.5L102.2,307.5L103.0,307.6L103.8,307.7L104.6,307.8L105.4,308.0L106.2,308.2L107.0,308.3L107.8,308.5L108.7,308.8L109.5,309.1L110.3,309.3L111.1,309.7L111.1,309.7L111.9,317.2L112.8,325.5L113.7,334.3L114.5,343.7L115.4,353.6L116.2,364.2M77.0,361.7L77.8,330.9L78.6,323.0L79.4,319.7L80.2,317.7L81.0,316.3L81.8,315.3L82.6,314.4L83.4,313.7L84.2,313.1L85.0,312.5L85.8,312.1L86.6,311.6L87.4,311.3L88.2,311.0L89.0,310.7L89.8,310.4L90.6,310.1L91.4,309.9L92.2,309.6L93.0,309.4L93.8,309.3L94.6,309.1L95.4,309.1L96.2,309.1L97.0,309.1L97.8,309.1L98.6,309.1L99.4,309.1L100.2,309.2L101.0,309.2L101.8,309.3L102.6,309.4L103.4,309.5L104.2,309.6L105.0,309.8L105.9,309.9L106.7,310.1L107.5,310.4L108.3,310.6L109.1,310.9L109.9,311.2L110.7,311.5L110.7,311.5L111.5,319.2L112.4,327.6L113.3,336.5L114.1,346.1L115.0,356.4M77.0,362.1L77.8,331.7L78.6,323.8L79.4,320.5L80.2,318.5L81.0,317.1L81.8,316.1L82.6,315.2L83.4,314.5L84.2,313.9L85.0,313.3L85.8,312.8L86.6,312.4L87.4,312.1L88.2,311.8L89.0,311.5L89.8,311.2L90.6,310.9L91.4,310.6L92.2,310.4L93.0,310.2L93.8,310.0L94.6,309.9L95.4,309.9L96.2,309.8L97.0,309.8L97.8,309.9L98.6,309.9L99.4,309.9L100.2,310.0L101.0,310.0L101.8,310.1L102.6,310.2L103.4,310.3L104.2,310.4L105.0,310.6L105.8,310.8L106.6,311.0L107.4,311.2L108.2,311.5L109.0,311.7L109.8,312.0L110.6,312.4L110.6,312.4L111.6,321.4L112.6,332.8L113.6,346.4L114.6,362.4L114.6,362.4L115.9,364.6L117.2,362.9L118.5,362.0L119.8,362.5L121.1,361.0L122.4,365.7L123.7,364.2L125.0,363.7M77.0,364.2L77.8,331.1L78.6,323.1L79.4,319.9L80.2,317.9L81.0,316.5L81.8,315.5L82.6,314.6L83.4,313.9L84.2,313.3L85.0,312.7L85.8,312.3L86.6,311.8L87.4,311.5L88.2,311.2L89.0,310.9L89.8,310.6L90.6,310.3L91.5,310.1L92.3,309.8L93.1,309.6L93.9,309.5L94.7,309.3L95.5,309.3L96.3,309.3L97.1,309.3L97.9,309.3L98.7,309.3L99.5,309.4L100.3,309.5L101.1,309.6L101.9,309.7L102.7,309.8L103.5,310.0L104.3,310.2L105.1,310.4L105.9,310.6L106.7,310.9L107.5,311.2L108.3,311.5L109.1,311.9L109.1,311.9L110.0,319.8L110.9,328.4L111.8,337.4L112.7,347.0L113.6,357.1L114.5,367.8M77.0,365.7L77.8,331.4L78.6,323.5L79.4,320.3L80.2,318.3L81.0,316.9L81.8,315.9L82.6,315.0L83.4,314.3L84.2,313.7L85.0,313.1L85.8,312.6L86.6,312.2L87.4,311.9L88.2,311.6L89.0,311.3L89.8,311.0L90.6,310.7L91.4,310.4L92.2,310.2L93.0,310.0L93.8,309.9L94.6,309.7L95.4,309.7L96.2,309.7L97.0,309.7L97.8,309.7L98.6,309.8L99.4,309.8L100.3,309.9L101.1,310.0L101.9,310.2L102.7,310.4L103.5,310.5L104.3,310.8L105.1,311.0L105.9,311.3L106.7,311.6L107.5,312.0L108.3,312.4L108.3,312.4L109.3,323.9L110.4,365.8L110.4,365.8L111.6,367.9L112.8,369.9L114.0,363.9L115.2,364.3L116.4,367.1L117.6,367.4L118.8,368.0M77.0,367.2L77.8,331.5L78.6,323.6L79.4,320.4L80.2,318.4L81.0,317.0L81.8,316.0L82.7,315.2L83.5,314.4L84.3,313.8L85.1,313.3L85.9,312.8L86.7,312.4L87.5,312.0L88.3,311.7L89.1,311.4L89.9,311.1L90.7,310.8L91.5,310.6L92.3,310.4L93.2,310.2L94.0,310.0L94.8,309.9L95.6,309.8L96.4,309.8L97.2,309.8L98.0,309.9L98.8,309.9L99.6,310.0L100.4,310.1L101.2,310.2L102.0,310.4L102.8,310.6L103.6,310.8L104.5,311.0L105.3,311.3L106.1,311.6L106.9,311.9L107.7,312.2L108.5,312.6L108.5,312.6L109.5,321.7L110.5,333.8L111.5,348.5L112.5,366.2L112.5,366.2L113.8,368.8L115.1,367.1L116.4,368.4L117.7,370.1L119.0,368.8L120.3,369.8L121.6,372.8L122.9,376.8L124.1,376.7M77.0,364.4L77.8,332.5L78.6,324.6L79.4,321.4L80.3,319.4L81.1,318.0L81.9,317.0L82.7,316.1L83.5,315.4L84.3,314.8L85.1,314.2L86.0,313.8L86.8,313.4L87.6,313.0L88.4,312.7L89.2,312.4L90.0,312.1L90.9,311.8L91.7,311.6L92.5,311.3L93.3,311.2L94.1,311.0L94.9,310.9L95.7,310.8L96.6,310.8L97.4,310.9L98.2,310.9L99.0,310.9L99.8,311.0L100.6,311.1L101.4,311.2L102.3,311.3L103.1,311.5L103.9,311.7L104.7,311.9L105.5,312.1L106.3,312.4L107.2,312.7L108.0,313.0L108.8,313.4L109.6,313.8L109.6,313.8L110.4,321.0L111.2,328.3L112.1,335.7L112.9,343.1L113.7,350.6L114.5,358.1L115.4,365.8M77.0,368.7L77.8,333.1L78.6,325.3L79.4,322.1L80.3,320.1L81.1,318.7L81.9,317.7L82.7,316.9L83.5,316.1L84.3,315.5L85.2,314.9L86.0,314.5L86.8,314.1L87.6,313.7L88.4,313.4L89.2,313.1L90.1,312.8L90.9,312.5L91.7,312.3L92.5,312.1L93.3,311.9L94.1,311.7L95.0,311.6L95.8,311.6L96.6,311.6L97.4,311.6L98.2,311.6L99.0,311.7L99.9,311.8L100.7,311.9L101.5,312.0L102.3,312.2L103.1,312.4L103.9,312.6L104.8,312.8L105.6,313.1L106.4,313.4L107.2,313.8L108.0,314.1L108.8,314.6L108.8,314.6L109.8,323.5L110.8,335.8L111.8,351.0L112.8,369.4L112.8,369.4L114.0,368.9L115.2,364.1L116.4,366.2L117.7,370.0L118.9,372.2L120.1,371.7L121.4,372.0L122.6,370.4L123.8,370.2M77.0,369.2L77.8,334.5L78.6,326.6L79.4,323.5L80.3,321.4L81.1,320.0L81.9,319.0L82.7,318.2L83.5,317.5L84.3,316.8L85.1,316.3L86.0,315.8L86.8,315.4L87.6,315.1L88.4,314.8L89.2,314.5L90.0,314.2L90.8,313.9L91.7,313.6L92.5,313.4L93.3,313.2L94.1,313.1L94.9,313.0L95.7,312.9L96.5,312.9L97.4,312.9L98.2,313.0L99.0,313.0L99.8,313.1L100.6,313.2L101.4,313.4L102.2,313.5L103.0,313.7L103.9,314.0L104.7,314.2L105.5,314.5L106.3,314.8L107.1,315.2L107.9,315.6L108.7,316.0L108.7,316.0L109.7,324.8L110.7,336.3L111.7,350.2L112.6,366.8L112.6,366.8L113.9,365.9L115.1,367.6L116.3,368.8L117.6,367.8L118.8,370.3L120.0,369.2L121.3,368.7M77.0,371.3L77.8,334.5L78.6,326.7L79.5,323.5L80.3,321.5L81.1,320.1L81.9,319.1L82.7,318.3L83.6,317.6L84.4,316.9L85.2,316.4L86.0,315.9L86.8,315.5L87.6,315.1L88.5,314.8L89.3,314.5L90.1,314.2L90.9,314.0L91.7,313.7L92.6,313.5L93.4,313.3L94.2,313.2L95.0,313.1L95.8,313.0L96.7,313.0L97.5,313.1L98.3,313.2L99.1,313.3L99.9,313.5L100.8,313.7L101.6,313.9L102.4,314.2L103.2,314.5L104.0,314.9L104.8,315.3L105.7,315.7L106.5,316.2L106.5,316.2L107.4,324.3L108.3,333.4L109.2,343.3L110.2,354.0M77.0,371.7L77.8,334.4L78.6,326.5L79.4,323.3L80.2,321.3L81.0,319.9L81.8,318.8L82.6,318.0L83.4,317.3L84.2,316.7L85.1,316.1L85.9,315.6L86.7,315.2L87.5,314.9L88.3,314.6L89.1,314.3L89.9,314.0L90.7,313.7L91.5,313.4L92.3,313.2L93.1,313.0L93.9,312.9L94.7,312.7L95.5,312.7L96.3,312.7L97.1,312.7L97.9,312.7L98.7,312.8L99.6,312.9L100.4,313.1L101.2,313.3L102.0,313.5L102.8,313.7L103.6,314.0L104.4,314.3L105.2,314.7L106.0,315.1L106.8,315.5L107.6,315.9L107.6,315.9L108.5,324.2L109.4,341.2L110.3,367.5M77.0,375.9L77.8,336.0L78.6,328.2L79.5,325.1L80.3,323.1L81.1,321.7L81.9,320.7L82.7,319.8L83.6,319.1L84.4,318.5L85.2,317.9L86.0,317.5L86.9,317.1L87.7,316.7L88.5,316.4L89.3,316.1L90.1,315.8L91.0,315.5L91.8,315.3L92.6,315.1L93.4,314.9L94.2,314.7L95.1,314.6L95.9,314.6L96.7,314.6L97.5,314.6L98.3,314.7L99.2,314.8L100.0,315.0L100.8,315.2L101.6,315.4L102.4,315.6L103.3,315.9L104.1,316.3L104.9,316.6L105.7,317.0L106.6,317.5L107.4,318.0L107.4,318.0L108.2,325.0L109.0,331.4L109.8,337.8L110.6,343.9L111.4,349.7L112.2,355.3L113.0,360.5L113.0,360.5L114.3,359.0L115.6,357.6L116.9,360.0L118.2,357.7L119.6,359.6M77.0,377.2L77.8,335.6L78.6,327.8L79.4,324.6L80.2,322.6L81.0,321.2L81.9,320.2L82.7,319.4L83.5,318.7L84.3,318.0L85.1,317.5L85.9,317.0L86.7,316.6L87.5,316.2L88.3,315.9L89.1,315.6L89.9,315.3L90.8,315.1L91.6,314.8L92.4,314.6L93.2,314.4L94.0,314.2L94.8,314.1L95.6,314.0L96.4,314.0L97.2,314.1L98.0,314.2L98.8,314.3L99.7,314.4L100.5,314.6L101.3,314.8L102.1,315.1L102.9,315.4L103.7,315.7L104.5,316.1L105.3,316.5L106.1,317.0L106.9,317.5L106.9,317.5L107.8,325.5L108.7,334.8L109.6,345.1L110.5,356.5L111.4,369.2M77.0,379.5L77.8,335.1L78.6,327.3L79.4,324.2L80.2,322.1L81.1,320.7L81.9,319.7L82.7,318.9L83.5,318.2L84.3,317.5L85.1,317.0L85.9,316.5L86.7,316.1L87.6,315.8L88.4,315.4L89.2,315.1L90.0,314.9L90.8,314.6L91.6,314.3L92.4,314.1L93.2,313.9L94.0,313.7L94.9,313.6L95.7,313.6L96.5,313.6L97.3,313.6L98.1,313.7L98.9,313.9L99.7,314.1L100.5,314.3L101.3,314.6L102.2,314.9L103.0,315.2L103.8,315.7L104.6,316.1L105.4,316.6L106.2,317.1L106.2,317.1L107.2,325.4L108.1,333.5L109.0,341.6L110.0,349.6L110.9,357.5L110.9,357.5L112.6,355.9L114.2,355.8M77.0,378.0L77.8,335.9L78.6,328.1L79.4,325.0L80.2,322.9L81.0,321.5L81.9,320.5L82.7,319.7L83.5,319.0L84.3,318.3L85.1,317.8L85.9,317.3L86.7,316.9L87.5,316.6L88.3,316.2L89.1,315.9L90.0,315.7L90.8,315.4L91.6,315.1L92.4,314.9L93.2,314.7L94.0,314.5L94.8,314.4L95.6,314.4L96.4,314.4L97.2,314.5L98.1,314.6L98.9,314.8L99.7,315.1L100.5,315.5L101.3,315.9L102.1,316.3L102.9,316.8L103.7,317.4L104.5,318.0L104.5,318.0L105.4,325.5L106.2,332.3L107.1,338.9L108.0,345.2L108.8,351.1L109.7,356.5L109.7,356.5L111.0,359.7L112.3,361.0L113.6,361.7L115.0,355.8L116.3,360.9L117.6,358.8L118.9,358.8M77.0,380.9L77.8,337.0L78.6,329.2L79.5,326.1L80.3,324.0L81.1,322.6L81.9,321.6L82.7,320.8L83.5,320.1L84.4,319.4L85.2,318.9L86.0,318.4L86.8,318.0L87.6,317.7L88.4,317.4L89.3,317.1L90.1,316.8L90.9,316.5L91.7,316.2L92.5,316.0L93.3,315.8L94.2,315.7L95.0,315.6L95.8,315.5L96.6,315.6L97.4,315.7L98.3,315.9L99.1,316.2L99.9,316.5L100.7,316.9L101.5,317.4L102.3,318.0L103.2,318.6L104.0,319.3L104.0,319.3L105.0,328.8L106.1,340.7L107.1,354.9L107.1,354.9L108.5,354.8L109.9,349.4L111.3,349.6L112.7,349.3M77.0,380.2L77.8,337.3L78.6,329.5L79.5,326.4L80.3,324.4L81.1,323.0L81.9,322.0L82.7,321.2L83.6,320.4L84.4,319.8L85.2,319.3L86.0,318.8L86.8,318.4L87.7,318.0L88.5,317.7L89.3,317.4L90.1,317.1L90.9,316.8L91.8,316.6L92.6,316.4L93.4,316.2L94.2,316.0L95.0,315.9L95.9,315.9L96.7,315.9L97.5,316.0L98.3,316.2L99.1,316.4L99.9,316.7L100.8,317.1L101.6,317.5L102.4,318.0L103.2,318.5L104.0,319.1L104.9,319.7L104.9,319.7L105.8,328.0L106.8,336.1L107.7,344.2L108.6,352.1L109.6,360.0L109.6,360.0L110.8,357.1L112.1,360.3L113.4,363.1L114.6,364.4L115.9,360.5M77.0,381.3L77.8,339.0L78.6,331.2L79.4,328.0L80.3,326.0L81.1,324.6L81.9,323.6L82.7,322.8L83.5,322.1L84.3,321.4L85.1,320.9L85.9,320.4L86.8,320.0L87.6,319.6L88.4,319.3L89.2,319.0L90.0,318.7L90.8,318.5L91.6,318.2L92.5,318.0L93.3,317.8L94.1,317.6L94.9,317.5L95.7,317.5L96.5,317.5L97.3,317.6L98.1,317.7L99.0,317.9L99.8,318.2L100.6,318.5L101.4,318.8L102.2,319.2L103.0,319.7L103.8,320.2L104.6,320.8L105.5,321.4L105.5,321.4L106.5,330.7L107.5,345.2L108.5,364.9M77.0,381.9L77.8,338.1L78.6,330.2L79.4,327.1L80.2,325.0L81.0,323.6L81.8,322.6L82.6,321.8L83.4,321.1L84.2,320.4L85.0,319.9L85.8,319.4L86.6,319.0L87.5,318.6L88.3,318.3L89.1,318.0L89.9,317.7L90.7,317.5L91.5,317.2L92.3,317.0L93.1,316.8L93.9,316.6L94.7,316.5L95.5,316.4L96.3,316.4L97.1,316.5L97.9,316.6L98.7,316.8L99.5,317.1L100.3,317.4L101.1,317.8L101.9,318.2L102.7,318.7L103.5,319.2L104.3,319.8L105.1,320.4L105.1,320.4L106.1,328.8L107.0,343.3L107.9,364.2M121.2,302.0L121.2,372.0M113.2,303.0L113.2,429.4L133.5,408.2M110.6,305.0L110.6,364.0M107.4,388.6L107.4,404.8L113.0,405.0M110.0,322.0L121.0,318.0L135.0,316.0L147.6,314.7M114.0,348.0L122.0,347.5L130.9,347.3M115.0,330.0L125.0,332.0L135.0,338.0M118.0,360.0L128.0,357.0L140.0,355.0M108.0,365.0L109.2,361.2L110.5,365.2L111.7,362.7L112.9,365.1L114.2,364.3L115.4,362.7L116.6,365.6L117.8,364.4L119.1,360.8L120.3,358.7L121.5,363.1L122.8,364.0L124.0,361.4L125.2,363.4L126.5,362.9L127.7,366.6L128.9,363.3L130.2,360.0L131.4,357.9L132.6,357.5L133.8,357.9L135.1,357.8L136.3,358.2L137.5,357.2L138.8,361.0L140.0,364.0M108.0,372.0L109.2,373.7L110.5,375.3L111.7,376.7L112.9,373.0L114.1,369.6L115.4,373.1L116.6,366.7L117.8,367.2L119.0,367.1L120.3,366.8L121.5,365.9L122.7,366.8L124.0,367.2L125.2,368.5L126.4,366.3L127.6,367.0L128.9,368.8L130.1,368.8L131.3,366.1L132.5,365.3L133.8,367.5L135.0,367.0"/>
</g>
<g clip-path="url(#cd)" fill="none" stroke-width="1.15" stroke-linejoin="round">
<path stroke="#f00" d="M410.8,458.0L411.3,454.6L411.8,451.6L412.2,449.7L412.7,448.1L413.2,446.6L413.7,445.2L414.2,443.9L414.7,442.7L415.1,441.6L415.6,440.6L416.1,439.6L416.6,438.7L417.1,437.8L417.6,437.0L418.1,436.3L418.5,435.6L419.0,434.8L419.5,434.2L420.0,433.5L420.0,433.5L423.0,429.8L426.0,426.8L429.0,424.2L432.0,421.6L435.0,419.1L438.0,416.7L441.0,414.3L444.1,412.1L447.1,409.9L450.1,407.9L453.1,405.9L456.1,404.1L459.1,402.4L462.1,400.8L465.1,399.3L468.1,397.8L471.1,396.4L474.1,395.0L477.1,393.6L480.1,392.3L483.1,391.1L486.1,389.9L489.1,388.8L492.2,387.7L495.2,386.7L498.2,385.7L501.2,384.8L504.2,384.0L507.2,383.2L510.2,382.4L513.2,381.7L513.5,358.2L572.0,358.2M411.3,456.1L411.7,453.3L412.2,451.4L412.6,449.9L413.1,448.4L413.6,447.1L414.0,445.8L414.5,444.6L414.9,443.5L415.4,442.5L415.9,441.5L416.3,440.6L416.8,439.8L417.2,439.0L417.7,438.2L418.2,437.5L418.6,436.8L419.1,436.1L419.5,435.5L420.0,434.8L420.0,434.8L423.0,431.0L426.1,427.9L429.1,425.1L432.1,422.5L435.2,420.0L438.2,417.6L441.2,415.2L444.2,413.0L447.3,410.8L450.3,408.8L453.3,406.8L456.4,405.0L459.4,403.3L462.4,401.8L465.5,400.2L468.5,398.7L471.5,397.3L474.6,395.8L477.6,394.5L480.6,393.2L483.7,391.9L486.7,390.7L489.7,389.6L492.8,388.5L495.8,387.4L498.8,386.5L501.8,385.6L504.9,384.7L507.9,383.9L510.9,383.1L514.0,382.4L517.0,381.7L517.3,358.2L572.0,358.2M410.7,462.3L411.2,459.0L411.7,456.1L412.2,454.1L412.7,452.5L413.2,450.9L413.7,449.5L414.2,448.2L414.6,446.9L415.1,445.8L415.6,444.7L416.1,443.7L416.6,442.7L417.1,441.9L417.6,441.0L418.1,440.2L418.5,439.4L419.0,438.7L419.5,437.9L420.0,437.2L420.0,437.2L423.0,433.2L426.1,429.8L429.1,427.0L432.1,424.3L435.1,421.8L438.2,419.4L441.2,417.0L444.2,414.8L447.2,412.7L450.3,410.8L453.3,408.9L456.3,407.1L459.4,405.4L462.4,403.8L465.4,402.3L468.4,400.7L471.5,399.3L474.5,397.8L477.5,396.5L480.5,395.1L483.6,393.8L486.6,392.6L489.6,391.4L492.6,390.3L495.7,389.2L498.7,388.2L501.7,387.3L504.8,386.4L507.8,385.6L510.8,384.8L513.8,384.0L516.9,383.3L519.9,382.6L522.9,381.9L525.9,381.3L529.0,380.6L532.0,380.0L532.3,358.2L572.0,358.2M410.9,462.6L411.4,459.4L411.9,456.8L412.3,455.1L412.8,453.5L413.3,452.0L413.8,450.6L414.3,449.3L414.7,448.1L415.2,447.0L415.7,445.9L416.2,444.9L416.7,444.0L417.1,443.1L417.6,442.3L418.1,441.5L418.6,440.7L419.0,439.9L419.5,439.2L420.0,438.5L420.0,438.5L423.1,434.3L426.1,430.8L429.2,427.8L432.2,425.1L435.3,422.6L438.4,420.1L441.4,417.8L444.5,415.6L447.5,413.5L450.6,411.6L453.6,409.7L456.7,407.9L459.8,406.2L462.8,404.6L465.9,403.1L468.9,401.5L472.0,400.0L475.1,398.6L478.1,397.2L481.2,395.8L484.2,394.5L487.3,393.3L490.3,392.1L493.4,391.0L496.5,389.9L499.5,388.9L502.6,387.9L505.6,387.0L508.7,386.2L511.8,385.4L514.8,384.6L517.9,383.9L520.9,383.2L524.0,382.5L527.0,381.8L530.1,381.2L533.2,380.5L536.2,379.9L539.3,379.3L542.3,378.8L545.4,378.2L545.7,358.2L572.0,358.2M411.1,464.6L411.5,461.7L412.0,459.4L412.5,457.7L412.9,456.2L413.4,454.7L413.9,453.4L414.4,452.1L414.8,450.9L415.3,449.8L415.8,448.7L416.2,447.7L416.7,446.8L417.2,445.9L417.6,445.1L418.1,444.2L418.6,443.4L419.1,442.7L419.5,441.9L420.0,441.2L420.0,441.2L423.0,436.8L426.0,433.1L429.1,430.0L432.1,427.3L435.1,424.7L438.1,422.3L441.2,420.1L444.2,417.9L447.2,415.9L450.2,414.0L453.2,412.2L456.3,410.5L459.3,408.8L462.3,407.2L465.3,405.6L468.4,404.1L471.4,402.6L474.4,401.1L477.4,399.7L480.5,398.3L483.5,397.0L486.5,395.7L489.5,394.5L492.5,393.3L495.6,392.2L498.6,391.1L501.6,390.2L504.6,389.2L507.7,388.4L510.7,387.5L513.7,386.7L516.7,385.9L519.8,385.2L522.8,384.5L525.8,383.8L528.8,383.1L531.8,382.4L534.9,381.8L537.9,381.2L540.9,380.6L543.9,380.0L547.0,379.5L550.0,378.9L553.0,378.4L553.3,358.2L572.0,358.2M411.9,462.1L412.3,460.5L412.7,459.1L413.2,457.7L413.6,456.4L414.0,455.2L414.4,454.0L414.9,452.9L415.3,451.9L415.7,450.9L416.2,450.0L416.6,449.1L417.0,448.3L417.4,447.5L417.9,446.7L418.3,446.0L418.7,445.2L419.1,444.5L419.6,443.8L420.0,443.1L420.0,443.1L423.0,438.5L426.1,434.7L429.1,431.4L432.1,428.7L435.2,426.1L438.2,423.7L441.2,421.5L444.3,419.4L447.3,417.4L450.3,415.5L453.3,413.7L456.4,412.0L459.4,410.4L462.4,408.7L465.5,407.1L468.5,405.6L471.5,404.1L474.6,402.6L477.6,401.1L480.6,399.7L483.7,398.4L486.7,397.1L489.7,395.9L492.8,394.7L495.8,393.5L498.8,392.5L501.9,391.5L504.9,390.5L507.9,389.6L511.0,388.8L514.0,387.9L517.0,387.1L520.0,386.4L523.1,385.6L526.1,384.9L529.1,384.2L532.2,383.5L535.2,382.9L538.2,382.3L541.3,381.6L544.3,381.0L547.3,380.5L550.4,379.9L553.4,379.3L556.4,378.8L559.5,378.3L562.5,377.7L565.5,377.2L568.6,376.7L571.6,376.2L574.6,375.8L577.7,375.3L580.7,374.9L583.7,374.4L586.7,374.0L589.8,373.6L592.8,373.1L595.8,372.7L598.9,372.3L601.9,371.9L604.9,371.5L608.0,371.1L611.0,370.7L614.0,370.3L617.1,369.9L620.1,369.5L623.1,369.1L626.2,368.7L629.2,368.3L632.2,367.9L635.3,367.5L635.6,358.2L650.9,358.2M411.0,468.5L411.5,465.6L412.0,463.3L412.5,461.6L412.9,460.1L413.4,458.6L413.9,457.2L414.3,455.9L414.8,454.7L415.3,453.5L415.8,452.4L416.2,451.4L416.7,450.4L417.2,449.5L417.6,448.6L418.1,447.8L418.6,446.9L419.1,446.1L419.5,445.3L420.0,444.5L420.0,444.5L423.0,439.8L426.1,435.8L429.1,432.5L432.2,429.7L435.2,427.1L438.3,424.7L441.3,422.5L444.4,420.4L447.4,418.5L450.4,416.6L453.5,414.8L456.5,413.1L459.6,411.5L462.6,409.8L465.7,408.2L468.7,406.7L471.8,405.1L474.8,403.6L477.9,402.2L480.9,400.7L483.9,399.4L487.0,398.1L490.0,396.8L493.1,395.6L496.1,394.4L499.2,393.4L502.2,392.3L505.3,391.4L508.3,390.5L511.3,389.6L514.4,388.8L517.4,388.0L520.5,387.2L523.5,386.4L526.6,385.7L529.6,385.0L532.7,384.3L535.7,383.6L538.7,383.0L541.8,382.4L544.8,381.7L547.9,381.1L550.9,380.6L554.0,380.0L557.0,379.4L560.1,378.9L563.1,378.4L566.2,377.8L569.2,377.3L572.2,376.9L575.3,376.4L578.3,375.9L581.4,375.5L584.4,375.0L587.5,374.6L590.5,374.2L593.6,373.7L596.6,373.3L596.9,358.2L655.5,358.2M410.7,473.0L411.2,469.9L411.7,467.1L412.2,465.1L412.7,463.4L413.2,461.8L413.7,460.4L414.1,458.9L414.6,457.6L415.1,456.4L415.6,455.2L416.1,454.1L416.6,453.1L417.1,452.1L417.6,451.1L418.0,450.2L418.5,449.3L419.0,448.5L419.5,447.6L420.0,446.8L420.0,446.8L423.0,441.9L426.0,437.7L429.0,434.3L432.0,431.5L435.0,428.9L438.0,426.6L441.0,424.4L444.0,422.4L447.0,420.5L450.0,418.7L453.0,417.0L456.0,415.3L459.0,413.7L462.0,412.0L465.0,410.4L468.0,408.9L471.0,407.3L474.0,405.8L477.0,404.3L480.0,402.9L483.0,401.5L486.0,400.2L489.0,398.9L492.0,397.7L495.0,396.5L498.0,395.4L501.0,394.3L504.0,393.3L507.0,392.4L510.1,391.5L513.1,390.6L516.1,389.8L519.1,389.0L522.1,388.2L525.1,387.5L528.1,386.7L531.1,386.0L534.1,385.3L537.1,384.7L540.1,384.0L543.1,383.4L546.1,382.8L549.1,382.2L552.1,381.6L555.1,381.0L558.1,380.4L561.1,379.9L564.1,379.4L567.1,378.9L570.1,378.4L573.1,377.9L576.1,377.4L579.1,376.9L582.1,376.5L585.1,376.0L588.1,375.6L591.1,375.2L594.1,374.7L597.1,374.3L600.1,373.9L603.1,373.5L606.1,373.1L609.1,372.7L612.1,372.3L615.1,371.9L618.1,371.5L621.1,371.1L624.1,370.7L627.1,370.3L630.1,369.9L633.1,369.5L636.1,369.1L639.1,368.7L642.1,368.3M411.5,471.0L411.9,468.8L412.4,467.1L412.8,465.6L413.3,464.1L413.7,462.7L414.2,461.4L414.6,460.2L415.1,459.1L415.5,457.9L416.0,456.9L416.4,455.9L416.9,454.9L417.3,454.0L417.8,453.1L418.2,452.3L418.7,451.5L419.1,450.6L419.6,449.8L420.0,449.0L420.0,449.0L423.0,443.9L426.1,439.5L429.1,435.9L432.1,433.1L435.2,430.5L438.2,428.1L441.2,426.0L444.3,424.0L447.3,422.1L450.3,420.3L453.4,418.6L456.4,417.0L459.4,415.4L462.5,413.7L465.5,412.1L468.5,410.5L471.6,408.9L474.6,407.4L477.6,405.9L480.7,404.4L483.7,403.0L486.7,401.6L489.8,400.3L492.8,399.1L495.8,397.9L498.9,396.7L501.9,395.6L504.9,394.6L508.0,393.7L511.0,392.8L514.0,391.9L517.1,391.0L520.1,390.2L523.1,389.4L526.1,388.6L529.2,387.8L532.2,387.1L535.2,386.4L538.3,385.7L541.3,385.0L544.3,384.4L547.4,383.8L550.4,383.1L553.4,382.5L556.5,382.0L559.5,381.4L562.5,380.8L565.6,380.3L568.6,379.8L571.6,379.3L574.7,378.8L577.7,378.3L580.7,377.8L583.8,377.3L586.8,376.9L589.8,376.5L592.9,376.0L595.9,375.6L598.9,375.2L602.0,374.8L605.0,374.3L608.0,373.9L611.1,373.5L614.1,373.1L617.1,372.7L620.2,372.3L623.2,371.9L623.5,358.2L655.5,358.2M411.5,473.2L411.9,471.1L412.4,469.4L412.8,467.9L413.3,466.4L413.7,465.0L414.2,463.7L414.6,462.5L415.1,461.3L415.5,460.2L416.0,459.2L416.4,458.1L416.9,457.2L417.3,456.2L417.8,455.3L418.2,454.5L418.7,453.6L419.1,452.8L419.6,451.9L420.0,451.1L420.0,451.1L423.0,445.8L426.0,441.3L429.1,437.5L432.1,434.6L435.1,432.1L438.1,429.7L441.2,427.6L444.2,425.6L447.2,423.8L450.2,422.1L453.2,420.4L456.3,418.8L459.3,417.2L462.3,415.5L465.3,413.9L468.4,412.3L471.4,410.7L474.4,409.2L477.4,407.6L480.5,406.2L483.5,404.7L486.5,403.3L489.5,402.0L492.5,400.7L495.6,399.5L498.6,398.3L501.6,397.2L504.6,396.2L507.7,395.2L510.7,394.3L513.7,393.4L516.7,392.5L519.7,391.6L522.8,390.8L525.8,390.0L528.8,389.2L531.8,388.5L534.9,387.7L537.9,387.0L540.9,386.3L543.9,385.7L547.0,385.0L550.0,384.4L553.0,383.8L556.0,383.2L559.0,382.6L562.1,382.0L565.1,381.5L568.1,380.9L571.1,380.4L574.2,379.9L577.2,379.4L580.2,378.9L583.2,378.5L586.2,378.0L589.3,377.6L592.3,377.1L595.3,376.7L598.3,376.3L601.4,375.8L604.4,375.4L607.4,375.0L610.4,374.6L613.4,374.2L616.5,373.8L619.5,373.4L622.5,373.0L625.5,372.6L628.6,372.2L631.6,371.8L634.6,371.4L637.6,371.0L640.7,370.6L643.7,370.2L646.7,369.8L649.7,369.4L650.0,358.2L655.5,358.2M411.5,475.2L412.0,473.1L412.4,471.5L412.9,469.9L413.3,468.5L413.8,467.1L414.2,465.8L414.6,464.5L415.1,463.4L415.5,462.2L416.0,461.2L416.4,460.2L416.9,459.2L417.3,458.2L417.8,457.3L418.2,456.4L418.7,455.5L419.1,454.7L419.6,453.8L420.0,453.0L420.0,453.0L423.0,447.6L426.0,442.8L429.0,439.0L432.0,436.1L435.0,433.5L438.1,431.2L441.1,429.1L444.1,427.2L447.1,425.4L450.1,423.7L453.1,422.1L456.1,420.5L459.1,418.9L462.1,417.2L465.1,415.6L468.2,414.0L471.2,412.4L474.2,410.8L477.2,409.3L480.2,407.8L483.2,406.3L486.2,404.9L489.2,403.6L492.2,402.3L495.2,401.0L498.2,399.8L501.3,398.7L504.3,397.6L507.3,396.7L510.3,395.7L513.3,394.8L516.3,393.8L519.3,393.0L522.3,392.1L525.3,391.3L528.3,390.5L531.4,389.7L534.4,389.0L537.4,388.2L540.4,387.5L543.4,386.8L546.4,386.2L549.4,385.5L552.4,384.9L555.4,384.3L558.4,383.7L561.5,383.1L564.5,382.6L567.5,382.0L570.5,381.5L573.5,381.0L576.5,380.5L579.5,380.0L582.5,379.5L585.5,379.1L588.5,378.6L591.5,378.2L594.6,377.7L597.6,377.3L600.6,376.9L603.6,376.4L606.6,376.0L609.6,375.6L612.6,375.2L615.6,374.8L618.6,374.4L621.6,374.0L624.7,373.6L627.7,373.2L630.7,372.8L633.7,372.4L636.7,372.0L639.7,371.6L642.7,371.2M486.3,387.0L492.3,386.5L493.3,382.5L506.3,381.0M519.0,378.0L525.0,377.5L526.0,373.5L539.0,372.0M411.0,454.9L411.5,451.7L411.9,449.2L412.4,447.5L412.9,446.0L413.4,444.6L413.8,443.3L414.3,442.0L414.8,440.9L415.3,439.8L415.7,438.8L416.2,437.9L416.7,437.0L417.2,436.2L417.6,435.4L418.1,434.7L418.6,434.0L419.1,433.3L419.5,432.7L420.0,432.0L420.0,432.0L423.0,428.3L426.0,425.4L429.0,422.8L432.0,420.3L435.0,417.8L438.0,415.3L441.0,412.9L444.1,410.4L447.1,408.0L450.1,405.7L453.1,403.5L456.1,401.4L459.1,399.5L462.1,397.6L465.1,395.9L468.1,394.2L471.1,392.5L474.1,390.9L477.1,389.3L480.1,387.7L483.1,386.3L486.1,384.8L489.1,383.5L492.2,382.3L495.2,381.3L498.2,380.4L501.2,379.5L504.2,378.6L507.2,377.8L510.2,377.1L513.2,376.4L513.4,358.2L572.0,358.2M532.0,380.0L532.0,358.2M545.4,378.0L545.4,358.2M553.0,377.0L553.0,358.2M596.6,371.0L596.6,358.2M615.6,368.0L615.6,358.2M623.2,366.0L623.2,358.2M517.0,383.0L517.0,358.2"/>
<path stroke="#00f" d="M411.6,351.6L413.1,343.6L414.6,337.9L416.1,335.5L417.6,334.0L419.1,332.9L420.6,331.8L422.1,330.8L423.6,329.8L425.1,328.8L426.6,327.9L428.1,327.1L429.7,326.4L431.2,325.7L432.7,325.1L434.2,324.5L435.7,324.1L437.2,323.7L438.7,323.3L440.2,322.9L441.7,322.6L443.2,322.3L444.7,322.1L446.2,321.8L447.7,321.6L449.2,321.4L450.7,321.2L452.2,321.0L453.7,320.8L455.2,320.6L456.7,320.4L458.2,320.3L459.7,320.1L461.2,320.0L462.7,319.9L464.2,319.8L465.8,319.7L467.3,319.7L468.8,319.6L470.3,319.6L471.8,319.5L473.3,319.5L474.8,319.5L476.3,319.4L477.8,319.4L479.3,319.4L480.8,319.3L482.3,319.3L483.8,319.3L484.0,415.0M411.6,352.8L413.1,344.8L414.6,339.2L416.1,337.0L417.6,335.6L419.1,334.6L420.6,333.6L422.1,332.6L423.7,331.6L425.2,330.6L426.7,329.7L428.2,328.8L429.7,328.0L431.2,327.3L432.7,326.7L434.2,326.1L435.7,325.7L437.2,325.3L438.7,324.9L440.2,324.6L441.7,324.3L443.2,324.0L444.7,323.7L446.2,323.4L447.8,323.2L449.3,323.0L450.8,322.8L452.3,322.6L453.8,322.4L455.3,322.2L456.8,322.0L458.3,321.9L459.8,321.7L461.3,321.6L462.8,321.5L464.3,321.4L465.8,321.4L467.3,321.3L468.8,321.3L470.4,321.2L471.9,321.2L473.4,321.1L474.9,321.1L476.4,321.1L477.9,321.0L479.4,321.0L480.9,321.0L481.1,412.0M411.6,354.3L413.1,346.0L414.7,340.3L416.2,338.0L417.7,336.6L419.2,335.5L420.8,334.4L422.3,333.3L423.8,332.3L425.4,331.3L426.9,330.4L428.4,329.5L429.9,328.7L431.5,328.0L433.0,327.3L434.5,326.8L436.0,326.4L437.6,326.0L439.1,325.6L440.6,325.2L442.2,324.9L443.7,324.6L445.2,324.4L446.7,324.1L448.3,323.9L449.8,323.7L451.3,323.5L452.9,323.3L454.4,323.1L455.9,322.9L457.4,322.7L459.0,322.6L460.5,322.4L462.0,322.3L463.5,322.2L465.1,322.2L466.6,322.1L468.1,322.1L469.7,322.0L471.2,322.0L472.7,321.9L474.2,321.9L475.8,321.8L477.3,321.8L477.5,418.0M411.6,355.0L413.1,346.6L414.7,340.9L416.2,338.6L417.7,337.3L419.3,336.2L420.8,335.1L422.4,334.0L423.9,333.0L425.4,332.0L427.0,331.0L428.5,330.1L430.0,329.3L431.6,328.5L433.1,327.9L434.7,327.4L436.2,326.9L437.7,326.5L439.3,326.1L440.8,325.8L442.3,325.5L443.9,325.2L445.4,324.9L446.9,324.7L448.5,324.5L450.0,324.2L451.6,324.0L453.1,323.8L454.6,323.6L456.2,323.5L457.7,323.3L459.2,323.1L460.8,323.0L462.3,322.9L463.9,322.8L465.4,322.7L466.9,322.7L468.5,322.6L470.0,322.6L470.2,410.0M411.6,355.2L413.1,346.9L414.6,341.2L416.2,339.0L417.7,337.7L419.2,336.7L420.7,335.7L422.3,334.6L423.8,333.5L425.3,332.5L426.8,331.5L428.4,330.6L429.9,329.8L431.4,329.0L432.9,328.3L434.5,327.8L436.0,327.3L437.5,326.9L439.0,326.5L440.5,326.2L442.1,325.9L443.6,325.6L445.1,325.3L446.6,325.1L448.2,324.9L449.7,324.6L451.2,324.4L452.7,324.2L454.3,324.0L455.8,323.9L457.3,323.7L458.8,323.5L460.4,323.4L461.9,323.3L463.4,323.2L463.6,405.0M411.6,356.5L413.1,348.0L414.6,342.1L416.1,339.7L417.6,338.2L419.1,337.1L420.6,336.0L422.1,334.9L423.6,333.8L425.1,332.8L426.6,331.8L428.1,330.9L429.6,330.0L431.1,329.2L432.6,328.6L434.1,328.0L435.6,327.5L437.2,327.1L438.7,326.7L440.2,326.4L441.7,326.1L443.2,325.8L444.7,325.5L446.2,325.3L447.7,325.1L449.2,324.8L450.7,324.6L452.2,324.4L453.7,324.2L455.2,324.1L456.7,323.9L458.2,323.7L459.7,323.6L461.2,323.4L461.4,413.0M411.6,358.4L413.1,349.6L414.7,343.4L416.2,340.9L417.7,339.2L419.3,338.0L420.8,336.8L422.3,335.6L423.9,334.5L425.4,333.4L426.9,332.4L428.5,331.4L430.0,330.6L431.5,329.8L433.1,329.2L434.6,328.6L436.1,328.2L437.7,327.7L439.2,327.4L440.7,327.0L442.3,326.7L443.8,326.4L445.3,326.2L446.9,325.9L448.4,325.7L449.9,325.5L451.5,325.3L453.0,325.1L454.5,324.9L456.1,324.7L457.6,324.5L457.8,421.0M411.6,359.4L413.1,350.8L414.6,344.9L416.1,342.5L417.6,341.1L419.2,340.0L420.7,338.9L422.2,337.7L423.7,336.6L425.2,335.5L426.7,334.5L428.2,333.5L429.7,332.6L431.2,331.8L432.7,331.1L434.3,330.6L435.8,330.1L437.3,329.7L438.8,329.3L440.3,329.0L441.8,328.6L443.3,328.3L444.8,328.1L446.3,327.8L447.8,327.6L449.4,327.4L450.9,327.2L452.4,327.0L453.9,326.8L455.4,326.6L455.6,400.0M411.6,358.8L413.2,350.1L414.7,344.3L416.2,342.2L417.8,341.0L419.4,340.0L420.9,338.9L422.5,337.7L424.0,336.6L425.6,335.5L427.1,334.4L428.7,333.4L430.2,332.5L431.8,331.6L433.3,330.9L434.9,330.4L436.4,329.9L438.0,329.5L439.5,329.1L441.1,328.8L442.6,328.5L444.2,328.2L445.7,327.9L447.2,327.7L448.8,327.5L449.0,408.0M411.6,359.8L413.2,351.1L414.7,345.3L416.3,343.3L417.8,342.2L419.4,341.2L420.9,340.1L422.5,339.0L424.0,337.8L425.6,336.7L427.1,335.6L428.7,334.6L430.2,333.6L431.8,332.7L433.3,332.0L434.9,331.5L436.4,331.0L438.0,330.6L439.5,330.2L441.1,329.9L442.6,329.6L444.2,329.3L445.7,329.0L447.3,328.8L447.5,404.9M411.6,360.3L413.1,351.7L414.7,345.9L416.2,343.9L417.7,342.7L419.2,341.8L420.8,340.8L422.3,339.7L423.8,338.5L425.4,337.4L426.9,336.2L428.4,335.2L429.9,334.2L431.5,333.3L433.0,332.6L434.5,332.0L436.1,331.5L437.6,331.1L439.1,330.7L440.6,330.4L442.2,330.0L443.7,329.8L443.9,402.0M411.6,362.7L413.1,353.6L414.7,347.5L416.2,345.2L417.8,343.8L419.3,342.7L420.8,341.6L422.4,340.4L423.9,339.1L425.5,338.0L427.0,336.8L428.6,335.8L430.1,334.8L431.6,333.9L433.2,333.2L434.7,332.6L436.3,332.2L437.8,331.8L439.3,331.4L440.9,331.0L442.4,330.7L444.0,330.5L445.5,330.2L445.7,416.0M411.6,363.3L413.2,354.2L414.7,348.1L416.3,345.9L417.8,344.6L419.4,343.5L420.9,342.3L422.5,341.1L424.0,339.9L425.6,338.6L427.1,337.5L428.7,336.4L430.2,335.4L431.8,334.5L433.4,333.8L434.9,333.2L436.5,332.8L438.0,332.4L439.6,332.0L441.1,331.6L442.7,331.3L444.2,331.1L445.8,330.8L447.3,330.6L448.9,330.3L450.4,330.1L452.0,329.9L452.2,409.0M411.6,364.3L413.1,355.3L414.7,349.3L416.2,347.2L417.7,346.0L419.2,345.1L420.8,344.0L422.3,342.8L423.8,341.6L425.4,340.4L426.9,339.2L428.4,338.1L429.9,337.1L431.5,336.1L433.0,335.4L434.5,334.7L436.1,334.3L437.6,333.8L439.1,333.5L440.7,333.1L442.2,332.8L443.7,332.5L445.2,332.3L446.8,332.0L448.3,331.8L449.8,331.6L451.4,331.4L452.9,331.2L454.4,331.0L455.9,330.8L457.5,330.7L459.0,330.5L459.2,411.0M411.6,372.8L413.1,368.5L414.7,364.6L416.2,361.2L417.7,358.4L419.3,356.1L420.8,354.2L422.4,352.4L423.9,351.0L425.4,349.7L427.0,348.5L428.5,347.3L430.0,346.3L431.6,345.3L433.1,344.3L434.6,343.5L436.2,342.7L437.7,342.0L439.2,341.3L440.8,340.7L442.3,340.1L443.9,339.6L445.4,339.1L446.9,338.7L448.5,338.3L450.0,338.0L450.2,400.0M443.0,340.0L452.0,352.0L460.0,365.0L463.0,372.0L466.0,368.0L470.0,378.0L475.0,390.0M463.0,421.0L470.0,418.0L478.0,415.0M460.0,390.0L468.0,387.0L475.0,385.0M445.0,360.0L452.0,358.0L456.0,362.0M449.0,400.0L458.0,396.0L470.0,394.0L480.0,392.0"/>
</g>
<g clip-path="url(#ce)" fill="none" stroke-width="1.15" stroke-linejoin="round">
<path stroke="#f00" d="M81.0,787.0L81.5,735.6L82.0,722.3L82.5,716.9L82.9,712.7L83.4,709.3L83.9,706.6L84.4,704.5L84.9,702.6L85.4,700.9L85.9,699.0L86.4,697.3L86.8,695.6L87.3,694.0L87.8,692.4L88.3,691.0L88.8,689.6L89.3,688.3L89.8,687.1L90.3,686.0L90.7,685.0L91.2,684.1L91.7,683.3L92.2,682.6L92.7,682.1L93.2,681.5L93.7,681.0L94.2,680.5L94.6,680.0L95.1,679.6L95.6,679.2L96.1,678.7L96.6,678.3L97.1,677.9L97.6,677.6L98.1,677.2L98.5,676.9L99.0,676.5L99.5,676.2L100.0,675.9L100.0,675.9L103.0,674.2L106.1,672.8L109.1,671.2L112.2,670.0L115.2,668.7L118.3,667.4L121.3,666.2L124.4,665.1L127.4,664.1L130.5,663.4L133.5,662.5L136.6,661.3L139.6,660.3L142.6,659.7L145.7,659.0L148.7,658.1L151.8,657.4L154.8,656.7L157.9,656.2L160.9,655.8L164.0,655.2L167.0,654.7L170.1,654.3L173.1,653.8L176.2,653.1L179.2,652.5L182.2,652.1L185.3,651.4L188.3,650.8L191.4,650.2L194.4,649.6L197.5,649.1L200.5,648.9L203.6,648.6L206.6,648.0L209.7,647.7L212.7,647.2L215.7,646.8L218.8,646.6L221.8,646.6L224.9,646.3L227.9,646.2L231.0,645.8L234.0,645.5L237.1,645.3L240.1,645.1L243.2,645.0L246.2,644.7L249.3,644.4L252.3,643.9L255.3,643.7L258.4,643.5L261.4,643.2L264.5,642.8L267.5,642.5L270.6,642.5L273.6,642.4L276.7,642.1L279.7,642.0L282.8,641.9L285.8,641.6L288.9,641.3L291.9,641.3L292.1,626.3L311.6,626.3M81.0,787.0L81.5,735.6L82.0,722.4L82.5,717.0L82.9,712.7L83.4,709.4L83.9,706.7L84.4,704.6L84.9,702.7L85.4,701.0L85.9,699.2L86.4,697.4L86.8,695.8L87.3,694.2L87.8,692.6L88.3,691.2L88.8,689.8L89.3,688.6L89.8,687.4L90.3,686.3L90.7,685.3L91.2,684.4L91.7,683.6L92.2,683.0L92.7,682.4L93.2,681.9L93.7,681.4L94.2,680.9L94.6,680.4L95.1,680.0L95.6,679.6L96.1,679.2L96.6,678.8L97.1,678.4L97.6,678.0L98.1,677.7L98.5,677.4L99.0,677.0L99.5,676.7L100.0,676.4L100.0,676.4L103.0,675.0L106.1,673.4L109.1,671.9L112.1,670.5L115.2,669.2L118.2,668.1L121.2,667.1L124.2,666.2L127.3,665.3L130.3,664.2L133.3,663.1L136.4,661.9L139.4,660.9L142.4,659.9L145.5,659.2L148.5,658.5L151.5,657.8L154.6,657.3L157.6,656.5L160.6,656.1L163.7,655.7L166.7,655.4L169.7,654.7L172.8,654.1L175.8,653.4L178.8,653.1L181.8,652.5L184.9,651.9L187.9,651.1L190.9,650.6L194.0,650.0L197.0,649.5L200.0,649.0L203.1,648.6L206.1,648.3L209.1,647.9L212.2,647.9L215.2,647.6L218.2,647.4L221.2,647.1L224.3,646.8L227.3,646.6L230.3,646.4L233.4,646.1L236.4,646.0L239.4,645.7L242.5,645.6L245.5,645.1L248.5,644.9L251.6,644.8L254.6,644.7L257.6,644.5L260.7,644.0L263.7,643.7L266.7,643.7L269.8,643.3L272.8,642.9L275.8,642.9L278.8,642.7L281.9,642.3L284.9,642.0L287.9,642.0L291.0,641.7L294.0,641.4L294.2,626.3L311.6,626.3M81.0,787.0L81.5,735.6L82.0,722.4L82.5,717.0L82.9,712.8L83.4,709.4L83.9,706.8L84.4,704.7L84.9,702.8L85.4,701.1L85.9,699.3L86.4,697.6L86.8,695.9L87.3,694.3L87.8,692.8L88.3,691.4L88.8,690.1L89.3,688.8L89.8,687.6L90.3,686.6L90.7,685.6L91.2,684.7L91.7,683.9L92.2,683.3L92.7,682.7L93.2,682.2L93.7,681.7L94.2,681.3L94.6,680.8L95.1,680.4L95.6,680.0L96.1,679.6L96.6,679.2L97.1,678.9L97.6,678.5L98.1,678.2L98.5,677.9L99.0,677.6L99.5,677.3L100.0,677.0L100.0,677.0L103.0,675.2L106.1,673.8L109.1,672.4L112.1,671.1L115.2,669.9L118.2,668.7L121.2,667.7L124.2,666.7L127.3,665.8L130.3,664.4L133.3,663.4L136.4,662.5L139.4,661.4L142.4,660.7L145.5,660.0L148.5,659.1L151.5,658.4L154.6,658.0L157.6,657.4L160.6,656.8L163.6,656.4L166.7,655.9L169.7,655.3L172.7,654.7L175.8,654.4L178.8,653.9L181.8,653.1L184.9,652.4L187.9,652.0L190.9,651.5L194.0,650.9L197.0,650.3L200.0,649.9L203.0,649.7L206.1,649.0L209.1,648.9L212.1,648.4L215.2,648.0L218.2,647.8L221.2,647.5L224.3,647.2L227.3,647.0L230.3,646.8L233.4,646.8L236.4,646.3L239.4,646.2L242.4,645.9L245.5,645.7L248.5,645.5L251.5,645.4L254.6,644.9L257.6,644.8L260.6,644.7L263.7,644.6L266.7,644.2L269.7,644.0L272.8,643.9L275.8,643.6L278.8,643.5L281.8,643.3L284.9,642.7L287.9,642.6L290.9,642.8L294.0,642.4L297.0,642.0L297.2,626.3L311.6,626.3M81.0,787.0L81.5,735.6L82.0,722.4L82.5,717.1L82.9,712.9L83.4,709.5L83.9,706.9L84.4,704.8L84.9,703.0L85.4,701.3L85.9,699.5L86.4,697.8L86.8,696.2L87.3,694.6L87.8,693.1L88.3,691.7L88.8,690.4L89.3,689.1L89.8,688.0L90.3,686.9L90.7,686.0L91.2,685.1L91.7,684.4L92.2,683.7L92.7,683.2L93.2,682.7L93.7,682.3L94.2,681.8L94.6,681.4L95.1,681.0L95.6,680.6L96.1,680.2L96.6,679.9L97.1,679.5L97.6,679.2L98.1,678.9L98.5,678.6L99.0,678.3L99.5,678.1L100.0,677.8L100.0,677.8L103.0,676.1L106.1,674.6L109.1,673.5L112.1,672.0L115.2,670.8L118.2,669.6L121.2,668.4L124.2,667.4L127.3,666.3L130.3,665.5L133.3,664.4L136.4,663.2L139.4,662.3L142.4,661.8L145.5,660.9L148.5,660.2L151.5,659.5L154.5,658.9L157.6,658.2L160.6,657.8L163.6,656.9L166.7,656.4L169.7,655.9L172.7,655.5L175.8,654.9L178.8,654.6L181.8,654.2L184.8,653.5L187.9,652.7L190.9,652.1L193.9,651.5L197.0,651.0L200.0,650.5L203.0,650.5L206.1,650.2L209.1,649.7L212.1,649.3L215.2,649.0L218.2,648.7L221.2,648.6L224.2,648.4L227.3,648.1L230.3,647.7L233.3,647.5L236.4,647.1L239.4,646.9L242.4,647.0L245.5,646.6L248.5,646.5L251.5,646.3L254.5,646.2L257.6,645.7L260.6,645.4L263.6,645.1L266.7,645.1L269.7,644.9L272.7,644.5L275.8,644.2L278.8,644.1L281.8,644.1L284.8,643.7L287.9,643.6L290.9,643.2L293.9,642.8L297.0,642.8L300.0,642.5L300.2,626.3L311.6,626.3M81.0,787.0L81.5,735.6L82.0,722.5L82.5,717.2L82.9,712.9L83.4,709.6L83.9,707.0L84.4,705.0L84.9,703.2L85.4,701.5L85.9,699.7L86.4,698.0L86.8,696.4L87.3,694.9L87.8,693.4L88.3,692.0L88.8,690.7L89.3,689.5L89.8,688.4L90.3,687.3L90.7,686.4L91.2,685.6L91.7,684.8L92.2,684.2L92.7,683.7L93.2,683.2L93.7,682.8L94.2,682.4L94.6,682.0L95.1,681.6L95.6,681.2L96.1,680.9L96.6,680.5L97.1,680.2L97.6,679.9L98.1,679.6L98.5,679.3L99.0,679.1L99.5,678.8L100.0,678.6L100.0,678.6L103.0,677.3L106.1,675.7L109.1,674.6L112.1,673.4L115.1,672.3L118.2,671.1L121.2,670.2L124.2,669.1L127.3,668.1L130.3,667.5L133.3,666.6L136.4,665.8L139.4,665.0L142.4,664.2L145.4,663.5L148.5,663.1L151.5,662.6L154.5,662.0L157.6,661.8L160.6,661.5L163.6,661.2L166.7,660.9L169.7,660.4L172.7,660.0L175.7,659.6L178.8,659.2L181.8,658.4L184.8,657.8L187.9,657.2L190.9,657.0L193.9,656.3L197.0,655.7L200.0,655.1L203.0,654.8L206.0,654.4L209.1,654.1L212.1,653.7L215.1,653.3L218.2,653.1L221.2,653.0L224.2,652.8L227.3,652.3L230.3,652.1L233.3,652.1L236.3,651.9L239.4,651.5L242.4,651.3L245.4,651.0L248.5,650.8L251.5,650.6L254.5,650.4L257.6,650.2L260.6,649.9L263.6,649.8L266.6,649.6L269.7,649.3L272.7,649.0L275.7,648.9L278.8,648.6L281.8,648.2L284.8,648.0L287.9,647.7L290.9,647.6L293.9,647.4L296.9,647.4L300.0,647.2L303.0,647.0L303.2,626.3L311.6,626.3M81.0,787.0L81.5,735.7L82.0,722.5L82.5,717.2L82.9,713.1L83.4,709.8L83.9,707.2L84.4,705.2L84.9,703.4L85.4,701.7L85.9,700.0L86.4,698.4L86.8,696.8L87.3,695.2L87.8,693.8L88.3,692.4L88.8,691.2L89.3,690.0L89.8,688.9L90.3,687.9L90.7,687.0L91.2,686.2L91.7,685.5L92.2,684.9L92.7,684.4L93.2,684.0L93.7,683.6L94.2,683.2L94.6,682.8L95.1,682.4L95.6,682.1L96.1,681.8L96.6,681.5L97.1,681.2L97.6,680.9L98.1,680.6L98.5,680.4L99.0,680.2L99.5,679.9L100.0,679.7L100.0,679.7L103.0,678.3L106.0,677.1L109.1,675.8L112.1,674.7L115.1,673.8L118.1,673.1L121.2,672.2L124.2,671.3L127.2,670.3L130.2,669.5L133.2,668.8L136.3,667.8L139.3,667.1L142.3,666.5L145.3,665.9L148.4,665.6L151.4,665.0L154.4,664.6L157.4,664.0L160.4,663.6L163.5,663.2L166.5,663.0L169.5,662.7L172.5,662.5L175.6,662.2L178.6,661.7L181.6,661.1L184.6,660.4L187.6,659.8L190.7,659.3L193.7,658.6L196.7,658.3L199.7,657.8L202.8,657.5L205.8,657.1L208.8,656.9L211.8,656.6L214.8,656.2L217.9,656.0L220.9,656.0L223.9,655.7L226.9,655.2L229.9,655.2L233.0,654.8L236.0,654.6L239.0,654.2L242.0,654.1L245.1,653.8L248.1,653.6L251.1,653.4L254.1,653.0L257.1,652.6L260.2,652.4L263.2,652.3L266.2,652.2L269.2,652.1L272.3,651.9L275.3,651.8L278.3,651.3L281.3,651.0L284.3,650.6L287.4,650.7L290.4,650.4L293.4,650.2L296.4,650.2L299.5,649.9L302.5,649.6L305.5,649.2L305.7,626.3L311.6,626.3M81.0,787.0L81.5,735.7L82.0,722.6L82.5,717.3L82.9,713.1L83.4,709.9L83.9,707.3L84.4,705.3L84.9,703.5L85.4,701.9L85.9,700.2L86.4,698.5L86.8,697.0L87.3,695.5L87.8,694.0L88.3,692.7L88.8,691.4L89.3,690.3L89.8,689.2L90.3,688.2L90.7,687.3L91.2,686.5L91.7,685.8L92.2,685.3L92.7,684.8L93.2,684.4L93.7,684.0L94.2,683.6L94.6,683.2L95.1,682.9L95.6,682.6L96.1,682.3L96.6,682.0L97.1,681.7L97.6,681.5L98.1,681.2L98.5,681.0L99.0,680.8L99.5,680.6L100.0,680.4L100.0,680.4L103.0,679.1L106.1,677.9L109.1,676.7L112.1,675.5L115.2,674.5L118.2,673.6L121.2,672.8L124.3,672.0L127.3,671.2L130.3,670.4L133.4,669.6L136.4,668.8L139.4,668.1L142.5,667.4L145.5,666.8L148.5,666.4L151.6,666.0L154.6,665.6L157.6,665.3L160.7,664.9L163.7,664.7L163.7,626.3L174.2,626.3M81.0,787.0L81.5,735.6L82.0,722.4L82.5,717.0L82.9,712.7L83.4,709.4L83.9,706.8L84.4,704.6L84.9,702.8L85.4,701.0L85.9,699.2L86.4,697.5L86.8,695.8L87.3,694.2L87.8,692.7L88.3,691.3L88.8,689.9L89.3,688.6L89.8,687.5L90.3,686.4L90.7,685.4L91.2,684.5L91.7,683.7L92.2,683.1L92.7,682.5L93.2,682.0L93.7,681.5L94.2,681.0L94.6,680.6L95.1,680.1L95.6,679.7L96.1,679.3L96.6,678.9L97.1,678.6L97.6,678.2L98.1,677.9L98.5,677.5L99.0,677.2L99.5,676.9L100.0,676.6L100.0,676.6L103.1,674.9L106.1,673.4L109.2,672.1L112.2,670.7L115.3,669.4L118.3,668.3L121.4,667.2L124.4,666.2L127.5,665.2L130.6,664.1L133.6,663.1L136.7,662.1L139.7,661.1L142.8,660.2L145.8,659.4L148.9,658.8L151.9,658.1L155.0,657.5L158.1,657.0L161.1,656.4L164.2,655.9L167.2,655.4L170.3,654.9L173.3,654.3L176.4,653.8L179.5,653.2L182.5,652.6L185.6,652.0L188.6,651.4L191.7,650.8L194.7,650.3L197.8,649.8L200.8,649.4L203.9,649.1L203.9,626.3L211.7,626.3M81.0,787.0L81.5,735.6L82.0,722.4L82.5,717.1L82.9,712.9L83.4,709.5L83.9,706.9L84.4,704.8L84.9,703.0L85.4,701.3L85.9,699.5L86.4,697.8L86.8,696.1L87.3,694.6L87.8,693.1L88.3,691.7L88.8,690.3L89.3,689.1L89.8,688.0L90.3,686.9L90.7,685.9L91.2,685.1L91.7,684.3L92.2,683.7L92.7,683.2L93.2,682.7L93.7,682.2L94.2,681.8L94.6,681.3L95.1,680.9L95.6,680.5L96.1,680.2L96.6,679.8L97.1,679.5L97.6,679.1L98.1,678.8L98.5,678.5L99.0,678.2L99.5,678.0L100.0,677.7L100.0,677.7L103.1,676.1L106.1,674.6L109.2,673.2L112.3,671.8L115.3,670.5L118.4,669.4L121.5,668.3L124.5,667.3L127.6,666.3L130.7,665.2L133.7,664.2L136.8,663.2L139.9,662.2L142.9,661.3L146.0,660.5L149.0,659.8L152.1,659.2L155.2,658.6L158.2,658.1L161.3,657.5L164.4,657.0L167.4,656.5L170.5,656.0L173.6,655.4L176.6,654.9L179.7,654.3L182.8,653.7L185.8,653.0L188.9,652.5L188.9,625.3M81.0,787.0L81.5,735.6L82.0,722.5L82.5,717.2L82.9,713.0L83.4,709.7L83.9,707.1L84.4,705.0L84.9,703.2L85.4,701.5L85.9,699.8L86.4,698.1L86.8,696.5L87.3,694.9L87.8,693.5L88.3,692.1L88.8,690.8L89.3,689.6L89.8,688.4L90.3,687.4L90.7,686.5L91.2,685.7L91.7,684.9L92.2,684.3L92.7,683.8L93.2,683.3L93.7,682.9L94.2,682.5L94.6,682.1L95.1,681.7L95.6,681.3L96.1,681.0L96.6,680.7L97.1,680.4L97.6,680.1L98.1,679.8L98.5,679.5L99.0,679.2L99.5,679.0L100.0,678.8L100.0,678.8L103.0,677.4L106.1,676.2L109.1,674.7L112.2,673.4L115.2,672.5L118.2,671.6L121.3,670.6L124.3,669.7L127.4,669.0L130.4,668.1L133.4,666.8L136.5,665.9L139.5,665.3L142.6,664.6L145.6,664.0L148.6,663.2L151.7,663.0L154.7,662.6L157.8,662.1L160.8,661.7L163.8,661.3L166.9,660.9L169.9,660.2L172.9,659.8L176.0,659.7L179.0,659.3L182.1,658.6L185.1,658.2L188.1,657.9L191.2,657.2L194.2,656.8L197.3,656.1L200.3,655.4L203.3,655.4L206.4,654.9L209.4,654.7L212.5,654.5L215.5,654.4L218.5,653.9L221.6,653.8L224.6,653.2L227.7,652.7L230.7,652.3L233.7,652.3L236.8,651.9L239.8,652.2L242.9,652.1L245.9,651.9L248.9,651.6L252.0,651.4L255.0,650.9L258.1,650.5L261.1,650.1L264.1,650.1L267.2,649.9L270.2,649.7L273.3,649.2L276.3,649.2M81.0,787.0L82.5,718.8L84.0,707.2L85.5,701.4L87.0,696.9L88.6,693.1L90.1,690.0L91.6,687.4L93.1,685.2L94.6,683.4L96.1,681.9L97.6,680.5L99.1,679.1L100.6,677.9L102.1,676.7L103.7,675.6L105.2,674.6L106.7,673.7L108.2,672.8L109.7,672.0L111.2,671.2L112.7,670.4L114.2,669.7L115.7,669.0L117.2,668.3L118.8,667.6L120.3,666.9L121.8,666.2L123.3,665.6L124.8,665.0L126.3,664.5L127.8,663.9L129.3,663.4L130.8,663.0L132.4,662.5L133.9,662.0L135.4,661.6L136.9,661.1L138.4,660.7L139.9,660.2L141.4,659.7L142.9,659.2L144.4,658.7L145.9,658.1L147.5,657.6L149.0,656.9L150.5,656.3L152.0,655.6L153.5,654.9L155.0,654.1L156.5,653.4L158.0,652.6L159.5,651.8L161.1,650.9L162.6,650.0L164.1,649.1L165.6,648.1L167.1,647.1L168.6,646.0L170.1,644.9L171.6,643.7L173.1,642.5L174.6,641.1L176.2,639.7L177.7,638.2L179.2,636.6L180.7,634.9L182.2,633.2L183.7,631.5L185.2,629.7L186.7,627.7L188.2,625.3L189.7,622.9L191.3,620.7L192.8,618.9L194.3,617.8L195.8,616.9L197.3,616.3M81.0,787.0L81.5,763.6L82.0,750.8L82.5,741.7L82.9,735.5L83.4,731.2L83.9,727.4L84.4,724.0L84.9,721.0L85.4,718.3L85.9,716.0L86.4,713.9L86.8,712.0L87.3,710.2L87.8,708.6L88.3,707.0L88.8,705.5L89.3,704.0L89.8,702.6L90.3,701.3L90.7,700.0L91.2,698.7L91.7,697.6L92.2,696.5L92.7,695.4L93.2,694.4L93.7,693.5L94.2,692.7L94.6,691.9L95.1,691.2L95.6,690.6L96.1,690.1L96.6,689.6L97.1,689.2L97.6,688.7L98.1,688.3L98.5,687.9L99.0,687.5L99.5,687.1L100.0,686.7L100.0,686.7L103.0,684.5L106.0,682.7L109.0,681.2L112.1,679.9L115.1,678.7L118.1,677.7L121.1,676.6L124.1,675.7L127.1,674.8L130.2,674.0L133.2,673.2L136.2,672.5L139.2,671.9L142.2,671.2L145.2,670.6L148.2,670.0L151.3,669.3L154.3,668.7L157.3,668.1L160.3,667.5L163.3,667.0L166.3,666.4L169.4,665.9L172.4,665.4L175.4,664.9L178.4,664.5L181.4,664.0L184.4,663.6L187.5,663.2L190.5,662.8L193.5,662.4L196.5,662.1L199.5,661.7L202.5,661.3L205.5,660.9L208.6,660.6L211.6,660.2L214.6,659.9L217.6,659.6L220.6,659.3L223.6,659.0L226.7,658.7L229.7,658.5L232.7,658.2L235.7,657.9L238.7,657.6L241.7,657.3L244.8,657.0L247.8,656.6L250.8,656.3L253.8,655.9L256.8,655.5L259.8,655.1L262.8,654.6L265.9,654.1L268.9,653.5L271.9,652.7L274.9,651.7L277.9,650.6L280.9,649.5L284.0,648.5L287.0,647.5L290.0,646.6L293.0,646.0M81.0,789.5L81.5,766.1L82.0,753.3L82.5,744.2L82.9,738.0L83.4,733.7L83.9,729.9L84.4,726.5L84.9,723.5L85.4,720.8L85.9,718.5L86.4,716.4L86.8,714.5L87.3,712.7L87.8,711.1L88.3,709.5L88.8,708.0L89.3,706.5L89.8,705.1L90.3,703.8L90.7,702.5L91.2,701.2L91.7,700.1L92.2,699.0L92.7,697.9L93.2,696.9L93.7,696.0L94.2,695.2L94.6,694.4L95.1,693.7L95.6,693.1L96.1,692.6L96.6,692.1L97.1,691.7L97.6,691.2L98.1,690.8L98.5,690.4L99.0,690.0L99.5,689.6L100.0,689.2L100.0,689.2L103.0,687.0L106.0,685.2L109.0,683.7L112.1,682.4L115.1,681.2L118.1,680.2L121.1,679.1L124.1,678.2L127.1,677.3L130.2,676.5L133.2,675.7L136.2,675.0L139.2,674.4L142.2,673.7L145.2,673.1L148.2,672.5L151.3,671.8L154.3,671.2L157.3,670.6L160.3,670.0L163.3,669.5L166.3,668.9L169.4,668.4L172.4,667.9L175.4,667.4L178.4,667.0L181.4,666.5L184.4,666.1L187.5,665.7L190.5,665.3L193.5,664.9L196.5,664.6L199.5,664.2L202.5,663.8L205.5,663.4L208.6,663.1L211.6,662.7L214.6,662.4L217.6,662.1L220.6,661.8L223.6,661.5L226.7,661.2L229.7,661.0L232.7,660.7L235.7,660.4L238.7,660.1L241.7,659.8L244.8,659.5L247.8,659.1L250.8,658.8L253.8,658.4L256.8,658.0L259.8,657.6L262.8,657.1L265.9,656.6L268.9,656.0L271.9,655.2L274.9,654.2L277.9,653.1L280.9,652.0L284.0,651.0L287.0,650.0L290.0,649.1L293.0,648.5M262.0,644.0L265.6,644.0L265.6,654.7L268.0,654.7L268.0,644.0L272.0,644.0L272.0,650.0L275.0,650.0L275.0,655.0L278.7,655.0L278.7,644.0L286.0,645.0M205.0,661.0L206.0,663.5L209.0,663.5L210.0,661.0M284.0,648.6L285.6,649.5L287.2,646.6L288.8,646.4L290.4,646.7L292.0,647.8L293.6,647.6L295.2,647.9L296.8,646.3L298.4,645.5L300.0,644.9M291.9,645.0L291.9,626.3M294.0,644.0L294.0,626.3M297.0,648.0L297.0,626.3M300.0,643.0L300.0,626.3M303.0,642.0L303.0,626.3M305.5,641.0L305.5,626.3M97.9,677.7L97.9,616.4M100.2,676.2L100.2,616.4M102.5,679.7L102.5,616.4M106.7,674.2L106.7,616.4M110.0,674.9L110.0,616.4M113.4,672.6L113.4,616.4M116.0,670.8L116.0,616.4M117.3,667.8L117.3,616.4M121.7,672.0L121.7,616.4M97.9,616.4L110.0,616.4M113.4,616.4L121.7,616.4"/>
<path stroke="#00f" d="M81.0,695.0L83.1,636.6L83.9,601.1L84.5,595.1L85.3,603.1L90.0,687.6M82.7,693.7L84.1,629.6L84.4,604.9L85.0,598.9L85.8,606.9L91.1,684.1M82.2,691.0L83.2,642.1L83.2,606.0L83.8,600.0L84.6,608.0L87.3,679.3M81.6,700.0L82.5,626.3L82.5,600.6L83.1,594.6L83.9,602.6L85.9,698.7M81.6,694.2L82.7,642.6L82.8,610.0L83.4,604.0L84.2,612.0L89.1,679.3M81.3,695.4L82.7,635.9L83.1,611.9L83.7,605.9L84.5,613.9L89.7,685.2M82.6,693.2L84.1,636.0L84.5,609.4L85.1,603.4L85.9,611.4L89.1,681.7M81.4,695.7L83.4,637.4L84.1,606.7L84.7,600.7L85.5,608.7L91.0,678.4M82.2,695.0L84.0,673.9L84.6,636.3L85.2,630.3L86.0,638.3L90.8,694.9M82.0,694.9L84.2,651.4L85.1,616.6L85.7,610.6L86.5,618.6L91.0,686.3M81.1,702.7L82.6,647.3L83.0,623.8L83.6,617.8L84.4,625.8L86.1,678.8M82.9,694.2L84.3,655.8L84.6,624.7L85.2,618.7L86.0,626.7L88.6,690.3M82.2,698.8L84.3,644.7L85.1,614.6L85.7,608.6L86.5,616.6L90.2,679.1M81.8,693.1L84.8,648.2L86.2,620.1L86.8,614.1L87.6,622.1L91.3,673.7M82.5,699.2L83.0,647.8L82.8,617.5L83.4,611.5L84.2,619.5L88.8,696.9M82.4,699.9L84.0,685.3L84.6,648.8L85.2,642.8L86.0,650.8L90.3,675.4M82.0,697.7L84.9,647.6L86.2,613.7L86.8,607.7L87.6,615.7L90.9,697.5M82.6,692.8L83.0,658.1L82.7,630.3L83.3,624.3L84.1,632.3L86.7,679.4M82.8,698.7L85.2,683.9L86.2,653.6L86.8,647.6L87.6,655.6L92.0,679.5M82.4,695.0L84.7,654.2L85.6,618.5L86.2,612.5L87.0,620.5L92.4,678.0M81.4,694.9L82.3,628.9L82.4,606.5L83.0,600.5L83.8,608.5L87.2,688.7M81.3,703.3L82.7,674.5L83.0,648.2L83.6,642.2L84.4,650.2L87.0,695.5M87.6,618.3L88.6,612.3L89.8,606.4L91.0,601.7L92.2,599.2L93.4,597.3L94.6,595.9L95.8,594.7L97.0,593.8L98.2,593.2L99.4,592.7L100.6,592.2L101.8,591.8L103.0,591.5L104.2,591.2L105.4,590.9L106.6,590.7L107.8,590.5L109.0,590.3L110.2,590.1L111.4,589.9L112.6,589.8L113.8,589.6L115.0,589.5L116.2,589.4L117.4,589.3L118.6,589.2L119.8,589.1L121.0,589.0L122.2,588.9L123.4,588.8L124.6,588.7L125.8,588.6L127.0,588.6L127.2,663.0M88.4,623.4L89.4,617.4L90.6,610.2L91.8,604.5L93.0,601.5L94.2,599.3L95.5,597.6L96.7,596.3L97.9,595.3L99.1,594.6L100.3,594.0L101.5,593.5L102.7,593.1L104.0,592.7L105.2,592.5L106.4,592.2L107.6,592.0L108.8,591.8L110.0,591.6L111.2,591.4L112.4,591.3L113.7,591.1L114.9,591.0L116.1,590.9L117.3,590.8L117.5,668.0M85.5,623.2L86.5,617.2L87.7,610.5L88.9,605.1L90.1,602.2L91.3,600.2L92.5,598.5L93.7,597.2L94.9,596.3L96.1,595.7L97.3,595.3L98.5,594.9L99.7,594.6L100.9,594.3L102.1,594.0L103.3,593.8L104.5,593.6L105.7,593.4L106.9,593.1L108.1,592.9L109.3,592.7L110.5,592.6L111.7,592.4L112.9,592.2L113.1,671.0M86.0,629.3L87.0,623.3L88.2,614.7L89.5,608.0L90.7,604.6L91.9,602.1L93.2,600.1L94.4,598.6L95.7,597.6L96.9,597.1L98.2,596.6L99.4,596.2L100.7,595.9L101.9,595.6L103.2,595.3L104.4,595.1L105.7,594.9L106.9,594.6L108.2,594.4L109.4,594.2L109.6,675.0M87.1,627.5L88.1,621.5L89.3,613.9L90.6,608.1L91.9,605.1L93.2,602.9L94.4,601.2L95.7,599.9L97.0,599.0L98.3,598.4L99.5,597.9L100.8,597.5L102.1,597.2L103.4,596.9L104.6,596.6L105.9,596.3L106.1,679.0M86.1,621.4L87.1,615.4L88.3,611.0L89.5,607.5L90.7,605.6L91.9,604.1L93.1,602.9L94.3,602.0L95.5,601.3L96.7,600.7L97.9,600.3L99.1,599.9L100.3,599.5L101.5,599.2L101.7,666.0M85.6,628.0L86.6,622.0L87.8,616.1L89.0,611.3L90.2,608.7L91.4,606.8L92.6,605.3L93.8,604.1L95.0,603.3L96.2,602.7L96.4,672.0M85.9,637.5L86.9,631.5L88.1,623.3L89.4,616.7L90.6,613.3L91.8,610.8L93.0,608.8L94.2,607.3L95.4,606.3L96.6,605.7L97.8,605.2L99.0,604.8L99.2,660.0M87.5,636.9L88.5,630.9L89.8,623.5L91.1,617.8L92.4,614.9L93.7,612.8L95.0,611.1L96.3,609.9L97.6,609.0L98.8,608.4L100.1,607.8L101.4,607.4L102.7,607.0L104.0,606.7L104.2,670.0M110.0,590.0L117.3,589.0L117.3,592.0L119.0,591.0L122.0,588.5L126.0,588.0"/>
</g>
<g clip-path="url(#cf)" fill="none" stroke-width="1.15" stroke-linejoin="round">
<path stroke="#f00" d="M415.3,760.0L416.8,720.8L418.4,710.8L419.9,705.9L421.4,702.4L423.0,699.7L424.5,697.6L426.0,695.9L427.5,694.4L429.1,692.9L430.6,691.2L432.1,689.4L433.7,687.7L435.2,686.0L436.7,684.5L438.3,683.0L439.8,681.6L441.3,680.3L442.8,679.2L444.4,678.1L445.9,677.2L447.4,676.2L449.0,675.4L450.5,674.5L452.0,673.7L453.6,673.0L455.1,672.2L456.6,671.5L458.1,670.8L459.7,670.1L461.2,669.4L462.7,668.7L464.3,668.0L465.8,667.3L467.3,666.6L468.9,665.9L470.4,665.2L471.9,664.6L473.4,663.9L475.0,663.3L476.5,662.6L478.0,662.0L479.6,661.4L481.1,660.8L482.6,660.3L484.2,659.7L485.7,659.2L487.2,658.7L488.7,658.1L487.2,636.0L532.0,636.0M415.3,760.0L416.8,720.4L418.4,710.1L419.9,704.9L421.4,701.1L423.0,698.1L424.5,695.7L426.0,693.6L427.6,691.8L429.1,690.0L430.6,688.2L432.2,686.4L433.7,684.6L435.2,683.0L436.8,681.4L438.3,679.9L439.8,678.6L441.4,677.3L442.9,676.1L444.4,675.1L445.9,674.1L447.5,673.2L449.0,672.3L450.5,671.5L452.1,670.7L453.6,669.9L455.1,669.2L456.7,668.5L458.2,667.8L459.7,667.0L461.3,666.3L462.8,665.6L464.3,664.9L465.9,664.2L467.4,663.5L468.9,662.8L470.5,662.2L472.0,661.5L473.5,660.9L475.1,660.2L476.6,659.6L478.1,659.0L479.7,658.4L481.2,657.8L482.7,657.2L484.3,656.7L485.8,656.1L484.3,636.0L498.2,636.0M415.3,760.0L416.8,720.6L418.3,710.2L419.8,704.9L421.4,701.2L422.9,698.1L424.4,695.7L425.9,693.7L427.4,691.8L428.9,690.1L430.5,688.2L432.0,686.4L433.5,684.7L435.0,683.1L436.5,681.5L438.0,680.0L439.5,678.6L441.1,677.3L442.6,676.2L444.1,675.1L445.6,674.2L447.1,673.2L448.6,672.4L450.1,671.5L451.7,670.7L453.2,670.0L454.7,669.2L456.2,668.5L457.7,667.8L459.2,667.1L460.8,666.4L462.3,665.7L463.8,665.0L465.3,664.3L466.8,663.6L468.3,662.9L469.8,662.3L471.4,661.6L472.9,661.0L474.4,660.3L475.9,659.7L477.4,659.1L478.9,658.5L480.4,657.9L482.0,657.3L483.5,656.8L485.0,656.2L486.5,655.7L488.0,655.2L489.5,654.7L491.1,654.2L492.6,653.8L494.1,653.3L495.6,652.9L497.1,652.4L498.6,652.0L500.1,651.6L501.7,651.2L503.2,650.8L504.7,650.4L506.2,650.0L504.7,636.0L518.0,636.0M415.3,760.0L416.8,720.8L418.3,710.5L419.8,705.3L421.3,701.6L422.8,698.7L424.3,696.3L425.9,694.4L427.4,692.7L428.9,691.0L430.4,689.2L431.9,687.4L433.4,685.7L434.9,684.1L436.4,682.5L437.9,681.0L439.4,679.6L440.9,678.4L442.4,677.2L443.9,676.1L445.5,675.1L447.0,674.2L448.5,673.3L450.0,672.5L451.5,671.7L453.0,671.0L454.5,670.2L456.0,669.5L457.5,668.8L459.0,668.1L460.5,667.4L462.0,666.7L463.6,666.0L465.1,665.3L466.6,664.6L468.1,664.0L469.6,663.3L471.1,662.6L472.6,662.0L474.1,661.3L475.6,660.7L477.1,660.1L478.6,659.5L480.1,658.9L481.6,658.3L483.2,657.8L484.7,657.2L486.2,656.7L487.7,656.2L489.2,655.7L490.7,655.2L492.2,654.8L493.7,654.3L495.2,653.9L493.7,636.0L532.0,636.0M415.3,760.0L416.8,721.0L418.3,710.9L419.8,706.0L421.3,702.5L422.8,699.8L424.3,697.7L425.8,695.9L427.4,694.4L428.9,693.0L430.4,691.4L431.9,689.6L433.4,687.9L434.9,686.2L436.4,684.7L437.9,683.2L439.4,681.8L440.9,680.5L442.4,679.4L443.9,678.3L445.4,677.3L446.9,676.4L448.4,675.5L449.9,674.7L451.5,673.9L453.0,673.1L454.5,672.4L456.0,671.7L457.5,671.0L459.0,670.3L460.5,669.6L462.0,668.9L463.5,668.2L465.0,667.5L466.5,666.8L468.0,666.1L469.5,665.5L471.0,664.8L472.5,664.2L474.0,663.5L475.6,662.9L477.1,662.3L478.6,661.7L480.1,661.1L481.6,660.5L483.1,660.0L484.6,659.4L486.1,658.9L487.6,658.4L489.1,657.9L490.6,657.4L492.1,656.9L493.6,656.5L495.1,656.0L496.6,655.6L498.2,655.2L499.7,654.8L501.2,654.4L502.7,654.0L504.2,653.6L505.7,653.2L504.2,636.0L510.5,636.0M415.3,760.0L416.8,721.0L418.3,710.8L419.8,705.8L421.3,702.2L422.8,699.5L424.3,697.2L425.8,695.4L427.3,693.9L428.9,692.3L430.4,690.7L431.9,688.9L433.4,687.2L434.9,685.5L436.4,684.0L437.9,682.5L439.4,681.1L440.9,679.8L442.4,678.7L443.9,677.6L445.4,676.6L446.9,675.7L448.4,674.8L449.9,674.0L451.4,673.2L452.9,672.4L454.5,671.7L456.0,671.0L457.5,670.3L459.0,669.6L460.5,668.9L462.0,668.2L463.5,667.5L465.0,666.8L466.5,666.1L468.0,665.4L469.5,664.8L471.0,664.1L472.5,663.5L474.0,662.8L475.5,662.2L477.0,661.6L478.6,661.0L480.1,660.4L481.6,659.8L483.1,659.3L484.6,658.7L486.1,658.2L487.6,657.7L489.1,657.2L490.6,656.7L492.1,656.2L490.6,636.0L507.0,636.0M415.3,760.0L416.8,720.6L418.3,710.2L419.8,705.0L421.3,701.2L422.9,698.2L424.4,695.7L425.9,693.7L427.4,691.9L428.9,690.1L430.4,688.2L431.9,686.5L433.4,684.7L434.9,683.1L436.5,681.5L438.0,680.0L439.5,678.7L441.0,677.4L442.5,676.2L444.0,675.2L445.5,674.2L447.0,673.3L448.5,672.4L450.1,671.6L451.6,670.8L453.1,670.0L454.6,669.3L456.1,668.6L457.6,667.8L459.1,667.1L460.6,666.4L462.1,665.7L463.7,665.0L465.2,664.3L466.7,663.7L468.2,663.0L469.7,662.3L471.2,661.7L472.7,661.0L474.2,660.4L475.7,659.7L477.3,659.1L478.8,658.5L480.3,657.9L481.8,657.4L483.3,656.8L484.8,656.3L486.3,655.7L487.8,655.2L489.3,654.7L490.9,654.3L492.4,653.8L490.9,636.0L532.0,636.0M415.3,760.0L416.8,721.0L418.3,711.0L419.8,706.0L421.3,702.6L422.8,699.9L424.4,697.8L425.9,696.0L427.4,694.5L428.9,693.1L430.4,691.5L431.9,689.7L433.4,688.0L434.9,686.3L436.4,684.8L437.9,683.3L439.4,681.9L441.0,680.6L442.5,679.5L444.0,678.4L445.5,677.4L447.0,676.5L448.5,675.6L450.0,674.8L451.5,674.0L453.0,673.2L454.5,672.5L456.0,671.8L457.6,671.1L459.1,670.4L460.6,669.7L462.1,669.0L463.6,668.3L465.1,667.6L466.6,666.9L468.1,666.2L469.6,665.6L471.1,664.9L472.7,664.3L474.2,663.6L475.7,663.0L477.2,662.4L478.7,661.8L480.2,661.2L481.7,660.6L483.2,660.1L484.7,659.5L486.2,659.0L487.7,658.5L489.3,658.0L490.8,657.5L492.3,657.0L493.8,656.6L495.3,656.1L496.8,655.7L498.3,655.3L496.8,636.0L510.1,636.0M415.3,760.0L416.8,720.9L418.3,710.7L419.8,705.6L421.3,702.0L422.8,699.1L424.3,696.8L425.8,695.0L427.4,693.3L428.9,691.7L430.4,690.0L431.9,688.2L433.4,686.5L434.9,684.9L436.4,683.3L437.9,681.8L439.4,680.5L440.9,679.2L442.4,678.0L443.9,677.0L445.4,676.0L446.9,675.0L448.4,674.2L449.9,673.3L451.5,672.6L453.0,671.8L454.5,671.1L456.0,670.3L457.5,669.6L459.0,668.9L460.5,668.2L462.0,667.5L463.5,666.8L465.0,666.1L466.5,665.5L468.0,664.8L469.5,664.1L471.0,663.5L472.5,662.8L474.0,662.2L475.6,661.6L477.1,660.9L478.6,660.3L480.1,659.8L481.6,659.2L483.1,658.6L484.6,658.1L486.1,657.5L484.6,636.0L489.8,636.0M415.3,760.0L416.8,720.6L418.3,710.2L419.8,704.8L421.3,701.0L422.8,697.9L424.3,695.5L425.8,693.4L427.3,691.5L428.9,689.7L430.4,687.8L431.9,686.0L433.4,684.3L434.9,682.6L436.4,681.1L437.9,679.6L439.4,678.2L440.9,676.9L442.4,675.8L443.9,674.7L445.4,673.7L446.9,672.8L448.4,671.9L449.9,671.1L451.4,670.3L453.0,669.6L454.5,668.8L456.0,668.1L457.5,667.4L459.0,666.7L460.5,666.0L462.0,665.3L463.5,664.6L465.0,663.9L466.5,663.2L468.0,662.5L469.5,661.9L471.0,661.2L472.5,660.6L474.0,659.9L475.5,659.3L477.0,658.7L478.6,658.1L480.1,657.5L481.6,656.9L483.1,656.4L484.6,655.8L486.1,655.3L487.6,654.8L489.1,654.3L490.6,653.8L489.1,636.0L532.0,636.0M476.0,657.1L479.5,636.0M478.6,656.1L482.1,636.0M481.2,655.1L484.7,636.0M483.8,654.2L487.3,636.0M486.4,653.3L489.9,636.0M489.0,652.5L492.5,636.0M491.6,651.7L495.1,636.0M494.2,650.9L497.7,636.0M496.8,650.2L500.3,636.0M499.4,649.5L502.9,636.0M502.0,648.8L505.5,636.0M504.6,648.2L508.1,636.0M507.2,647.6L510.7,636.0M509.8,647.0L513.3,636.0M512.4,646.5L515.9,636.0M515.0,646.1L518.5,636.0M517.6,645.6L521.1,636.0M483.8,655.7L519.6,648.4L521.8,636.0M471.4,661.5L473.6,636.0L532.0,636.0M474.0,692.9L474.0,636.0M476.0,693.7L476.0,636.0M478.3,696.9L478.3,636.0M481.0,695.6L481.0,636.0M484.0,697.6L484.0,636.0M486.7,695.4L486.7,636.0M415.3,787.0L416.5,724.7L417.8,702.9L419.0,689.8L420.2,679.0L421.4,670.9L422.7,665.8L423.9,663.4L425.1,661.5L426.3,660.1L427.6,658.9L428.8,658.0L430.0,657.0L431.2,656.0L432.5,655.2L433.7,654.4L434.9,653.6L436.1,652.9L437.4,652.2L438.6,651.6L439.8,651.1L441.0,650.6L442.3,650.1L443.5,649.6L444.7,649.2L445.9,648.7L447.2,648.3L448.4,648.0L449.6,647.6L450.8,647.2L452.1,646.9L453.3,646.5L454.5,646.1L455.7,645.8L457.0,645.4L458.2,645.1L459.4,644.7L460.6,644.4L461.9,644.1L463.1,643.7L464.3,643.4L465.5,643.1L466.8,642.8L468.0,642.5M415.3,787.0L416.5,724.9L417.7,702.9L418.9,692.4L420.1,684.6L421.3,678.8L422.5,675.0L423.7,672.6L425.0,670.8L426.2,669.4L427.4,668.2L428.6,667.1L429.8,666.2L431.0,665.2L432.2,664.4L433.4,663.5L434.6,662.8L435.8,662.1L437.0,661.4L438.2,660.8L439.4,660.3L440.6,659.7L441.8,659.2L443.0,658.8L444.3,658.3L445.5,657.9L446.7,657.5L447.9,657.1L449.1,656.7L450.3,656.4L451.5,656.0L452.7,655.7L453.9,655.3L455.1,655.0L456.3,654.6L457.5,654.3L458.7,653.9L459.9,653.6L461.1,653.2L462.3,652.9L463.6,652.6L464.8,652.3L466.0,652.0L467.2,651.7L468.4,651.4L469.6,651.1L470.8,650.8L472.0,650.5M415.3,787.0L416.5,724.5L417.7,702.3L418.9,694.4L420.2,689.1L421.4,685.4L422.6,682.8L423.8,680.7L425.0,678.9L426.2,677.4L427.4,676.2L428.7,675.1L429.9,674.1L431.1,673.2L432.3,672.3L433.5,671.5L434.7,670.7L435.9,670.0L437.2,669.4L438.4,668.7L439.6,668.2L440.8,667.7L442.0,667.2L443.2,666.7L444.4,666.3L445.6,665.8L446.9,665.4L448.1,665.1L449.3,664.7L450.5,664.3L451.7,664.0L452.9,663.6L454.1,663.3L455.4,662.9L456.6,662.5L457.8,662.2L459.0,661.8L460.2,661.5L461.4,661.2L462.6,660.8L463.9,660.5L465.1,660.2L466.3,659.9L467.5,659.6L468.7,659.3L469.9,659.0L471.1,658.7L472.4,658.5L473.6,658.2L474.8,657.9L476.0,657.7M415.3,787.0L416.5,724.1L417.7,701.7L419.0,696.7L420.2,693.9L421.4,692.1L422.6,690.5L423.8,688.8L425.1,687.1L426.3,685.7L427.5,684.3L428.7,683.1L429.9,682.0L431.2,681.1L432.4,680.2L433.6,679.4L434.8,678.6L436.1,677.9L437.3,677.3L438.5,676.7L439.7,676.1L440.9,675.6L442.2,675.1L443.4,674.6L444.6,674.2L445.8,673.8L447.0,673.4L448.3,673.0L449.5,672.6L450.7,672.3L451.9,671.9L453.1,671.5L454.4,671.2L455.6,670.8L456.8,670.5L458.0,670.1L459.2,669.8L460.5,669.4L461.7,669.1L462.9,668.8L464.1,668.5L465.4,668.1L466.6,667.8L467.8,667.5L469.0,667.2L470.2,666.9L471.5,666.7L472.7,666.4L473.9,666.1L475.1,665.9L476.3,665.6L477.6,665.4L478.8,665.2L480.0,664.9M415.0,787.0L416.5,753.5L418.0,739.9L419.5,733.2L421.0,728.7L422.5,725.5L424.1,723.1L425.6,721.4L427.1,720.0L428.6,718.7L430.1,717.6L431.6,716.6L433.1,715.7L434.6,714.9L436.1,714.2L437.6,713.6L439.1,712.9L440.6,712.4L442.2,711.8L443.7,711.3L445.2,710.8L446.7,710.3L448.2,709.9L449.7,709.5L451.2,709.1L452.7,708.7L454.2,708.3L455.7,708.0L457.2,707.6L458.7,707.3L460.3,706.9L461.8,706.6L463.3,706.3L464.8,706.0L466.3,705.6L467.8,705.3L469.3,705.1L470.8,704.8L472.3,704.5L473.8,704.2L475.3,703.9L476.8,703.6L478.4,703.3L479.9,703.0L481.4,702.7L482.9,702.4L484.4,702.1L485.9,701.8L487.4,701.5L488.9,701.2L490.4,700.9L491.9,700.6L493.4,700.3L494.9,700.0L496.5,699.7L498.0,699.4L499.5,699.1L501.0,698.8L502.5,698.5L504.0,698.2L505.5,697.9L507.0,697.6L508.5,697.3L510.0,697.0L511.5,696.7L513.0,696.4L514.6,696.1L516.1,695.8L517.6,695.5L519.1,695.2L520.6,694.8L522.1,694.5L523.6,694.2L525.1,693.9L526.6,693.6L528.1,693.3L529.6,693.0L531.1,692.6L532.7,692.3L534.2,692.0L535.7,691.7L537.2,691.3L538.7,691.0L540.2,690.7L541.7,690.3L543.2,690.0L544.7,689.6L546.2,689.3L547.7,688.9L549.3,688.5L550.8,688.2L552.3,687.8L553.8,687.4L555.3,687.0L556.8,686.7L558.3,686.3L559.8,685.9L561.3,685.5L562.8,685.1L564.3,684.8L565.8,684.4L567.4,684.0L568.9,683.6L570.4,683.2L571.9,682.8L573.4,682.4L574.9,682.0L576.4,681.6L577.9,681.2L579.4,680.8L580.9,680.4L582.4,680.0L583.9,679.6L585.5,679.2L587.0,678.8L588.5,678.5L590.0,678.1L591.5,677.7L593.0,677.3L594.5,676.9L596.0,676.5L597.5,676.1L599.0,675.7L600.5,675.4L602.0,675.0L603.6,674.6L605.1,674.2L606.6,673.9L608.1,673.5L609.6,673.1L611.1,672.7L612.6,672.3L614.1,672.0L615.6,671.6L617.1,671.2L618.6,670.8L620.1,670.5L621.7,670.1L623.2,669.7L624.7,669.3L626.2,668.9L627.7,668.6L629.2,668.2L630.7,667.8L632.2,667.4L633.7,667.1L635.2,666.7L636.7,666.3L638.2,665.9L639.8,665.6L641.3,665.2L642.8,664.8L644.3,664.4L645.8,664.1L647.3,663.7L647.3,636.0L652.4,636.0M415.0,770.0L416.5,752.0L418.0,744.2L419.5,739.2L421.0,735.8L422.5,732.9L424.0,730.5L425.5,728.5L427.0,726.9L428.5,725.6L430.0,724.4L431.5,723.4L433.0,722.4L434.5,721.6L436.0,720.8L437.5,720.0L439.0,719.4L440.5,718.7L442.0,718.1L443.5,717.6L445.0,717.0L446.5,716.5L448.0,715.9L449.5,715.4L451.0,714.9L452.5,714.5L454.0,714.0L455.5,713.6L457.0,713.2L458.5,712.8L460.0,712.4L461.5,712.0L463.0,711.7L464.5,711.3L466.0,710.9L467.5,710.6L469.0,710.2L470.5,709.9L472.0,709.5L473.5,709.2L475.0,708.9L476.5,708.6L478.0,708.3L479.5,707.9L481.0,707.6L482.5,707.4L484.0,707.1L485.5,706.8L487.0,706.5L488.5,706.2L490.0,705.9L491.5,705.6L493.0,705.4L494.5,705.1L496.0,704.8L497.5,704.5L499.0,704.2L500.5,703.9L502.0,703.6L503.5,703.3L505.0,703.0L506.5,702.7L508.0,702.4L509.5,702.1L511.0,701.8L512.5,701.5L514.0,701.2L515.5,700.9L517.0,700.6L518.5,700.3L520.0,700.0M415.0,782.0L416.5,769.0L418.0,761.5L419.5,756.2L421.0,752.1L422.5,749.1L424.0,746.4L425.5,744.2L427.0,742.2L428.5,740.4L430.0,738.8L431.5,737.4L433.0,736.2L434.5,735.0L436.0,733.8L437.5,732.8L439.0,731.8L440.5,730.9L442.0,730.0L443.5,729.2L445.0,728.4L446.5,727.6L448.0,726.9L449.5,726.2L451.0,725.6L452.5,724.9L454.0,724.3L455.5,723.8L457.0,723.2L458.5,722.7L460.0,722.2L461.5,721.7L463.0,721.2L464.5,720.7L466.0,720.3L467.5,719.8L469.0,719.3L470.5,718.8L472.0,718.4L473.5,717.9L475.0,717.4L476.5,716.9L478.0,716.5L479.5,716.0L481.0,715.6L482.5,715.1L484.0,714.7L485.5,714.3L487.0,713.8L488.5,713.4L490.0,713.0M415.5,745.0L417.0,736.2L418.5,730.5L420.0,726.5L421.5,723.3L423.0,720.7L424.5,718.6L426.0,716.9L427.5,715.4L429.0,714.0L430.5,712.8L432.0,711.8L433.5,710.9L435.0,710.0L436.5,709.2L438.0,708.5L439.5,707.8L441.0,707.2L442.5,706.6L444.0,706.0L445.5,705.5L447.0,705.0L448.5,704.5L450.0,704.0L451.5,703.5L453.0,703.1L454.5,702.6L456.0,702.2L457.5,701.8L459.0,701.4L460.5,701.0L462.0,700.6L463.5,700.3L465.0,700.0M415.5,760.0L417.0,752.0L418.5,746.4L420.0,742.4L421.6,739.1L423.1,736.4L424.6,734.2L426.1,732.2L427.6,730.5L429.1,728.9L430.6,727.5L432.2,726.2L433.7,725.0L435.2,723.9L436.7,722.8L438.2,721.9L439.7,721.0L441.2,720.1L442.8,719.3L444.3,718.5L445.8,717.8L447.3,717.1L448.8,716.5L450.3,715.9L451.8,715.3L453.3,714.7L454.9,714.2L456.4,713.6L457.9,713.1L459.4,712.6L460.9,712.2L462.4,711.7L463.9,711.3L465.5,710.9L467.0,710.6L468.5,710.3L470.0,710.0M415.5,730.0L417.0,717.9L418.5,712.3L420.0,708.3L421.6,705.6L423.1,703.7L424.6,702.1L426.1,700.8L427.6,699.6L429.1,698.6L430.6,697.7L432.2,696.9L433.7,696.1L435.2,695.4L436.7,694.7L438.2,694.0L439.7,693.4L441.2,692.8L442.8,692.2L444.3,691.7L445.8,691.2L447.3,690.8L448.8,690.3L450.3,689.9L451.8,689.5L453.3,689.1L454.9,688.8L456.4,688.4L457.9,688.0L459.4,687.7L460.9,687.4L462.4,687.1L463.9,686.8L465.5,686.6L467.0,686.4L468.5,686.2L470.0,686.0M416.0,787.0L417.5,778.2L419.0,772.5L420.5,768.0L422.0,764.3L423.5,761.0L425.0,758.0L426.5,755.0L428.0,752.2L429.5,749.6L431.0,747.3L432.5,745.1L434.0,743.2L435.5,741.5L437.0,739.9L438.5,738.4L440.0,737.1L441.5,735.8L443.0,734.6L444.5,733.5L446.0,732.4L447.5,731.4L449.0,730.6L450.5,729.7L452.0,728.9L453.5,728.1L455.0,727.4L456.5,726.7L458.0,726.0L459.5,725.3L461.0,724.7L462.5,724.1L464.0,723.5L465.5,723.1L467.0,722.7L468.5,722.3L470.0,722.0M469.2,690.0L469.2,703.8L474.0,706.0L478.0,703.0L481.6,706.0L484.0,700.0L484.0,690.0M457.0,700.0L460.0,690.0L463.0,702.0L466.0,692.0L470.0,700.0M450.0,690.0L455.0,680.0L458.0,695.0L462.0,685.0"/>
<path stroke="#00f" d="M415.3,706.1L416.2,633.9L417.1,622.2L418.0,617.0L418.9,613.9L419.9,611.5L420.8,609.8L421.7,608.5L422.6,607.6L423.5,606.7L424.4,606.0L425.3,605.4L426.2,604.9L427.1,604.4L428.0,604.0L429.0,603.6L429.9,603.2L430.8,602.8L431.7,602.5L432.6,602.1L433.5,601.8L434.4,601.5L435.3,601.3L436.2,601.0L437.1,600.8L438.1,600.6L439.0,600.4L439.9,600.3L440.8,600.1L441.7,599.9L442.6,599.8L443.5,599.6L444.4,599.5L445.3,599.4L446.2,599.3L447.2,599.2L448.1,599.1L448.1,599.1L448.9,610.5L449.7,664.1M415.3,702.8L416.2,635.2L417.1,623.5L418.0,618.3L419.0,615.2L419.9,612.8L420.8,611.0L421.7,609.8L422.6,608.9L423.5,608.0L424.5,607.3L425.4,606.7L426.3,606.2L427.2,605.7L428.1,605.3L429.0,604.9L429.9,604.5L430.9,604.1L431.8,603.8L432.7,603.4L433.6,603.1L434.5,602.8L435.4,602.6L436.3,602.3L437.3,602.1L438.2,601.9L439.1,601.8L440.0,601.6L440.9,601.4L441.8,601.2L442.8,601.1L443.7,600.9L444.6,600.8L445.5,600.7L446.4,600.6L447.3,600.5L448.2,600.5L448.2,600.5L449.5,615.5L450.8,637.0L452.1,666.2M415.3,706.3L416.2,633.4L417.1,621.7L418.0,616.5L418.9,613.4L419.8,611.0L420.8,609.3L421.7,608.0L422.6,607.1L423.5,606.2L424.4,605.5L425.3,604.9L426.2,604.4L427.1,603.9L428.0,603.5L428.9,603.1L429.9,602.7L430.8,602.3L431.7,602.0L432.6,601.7L433.5,601.4L434.4,601.1L435.3,600.8L436.2,600.6L437.1,600.3L438.0,600.1L439.0,599.9L439.9,599.7L440.8,599.5L441.7,599.3L442.6,599.1L443.5,598.9L444.4,598.8L445.3,598.6L445.3,598.6L446.7,614.6L448.0,637.8L449.3,666.7L449.3,667.5L450.6,668.0L451.9,673.9L453.2,674.0L454.5,674.8L455.8,679.4L457.1,682.2L458.3,690.1L459.6,692.3M415.3,699.9L416.2,636.0L417.1,624.3L418.1,619.1L419.0,616.0L419.9,613.6L420.8,611.9L421.7,610.7L422.6,609.7L423.6,608.9L424.5,608.2L425.4,607.6L426.3,607.1L427.2,606.6L428.2,606.1L429.1,605.7L430.0,605.4L430.9,605.0L431.8,604.7L432.7,604.3L433.7,604.0L434.6,603.8L435.5,603.5L436.4,603.3L437.3,603.0L438.3,602.8L439.2,602.6L440.1,602.4L441.0,602.2L441.9,602.0L442.8,601.8L443.8,601.6L444.7,601.5L445.6,601.4L445.6,601.4L446.9,615.1L448.2,635.8L449.6,660.1L449.6,659.6L450.9,665.2L452.2,670.5L453.5,677.0L454.8,676.8L456.1,679.7L457.4,684.1L458.7,690.8L460.0,692.3L461.3,697.5M415.3,704.8L416.2,635.0L417.1,623.2L418.0,618.0L418.9,614.9L419.8,612.5L420.8,610.8L421.7,609.5L422.6,608.6L423.5,607.8L424.4,607.1L425.3,606.4L426.2,605.9L427.1,605.4L428.0,605.0L428.9,604.6L429.8,604.2L430.8,603.8L431.7,603.5L432.6,603.2L433.5,602.9L434.4,602.6L435.3,602.3L436.2,602.1L437.1,601.8L438.0,601.6L438.9,601.4L439.9,601.3L440.8,601.1L441.7,600.9L442.6,600.7L443.5,600.6L444.4,600.5L445.3,600.3L446.2,600.2L447.1,600.1L447.1,600.1L448.1,615.4L449.0,666.6M415.3,700.4L416.2,636.3L417.1,624.6L418.1,619.5L419.0,616.3L419.9,614.0L420.8,612.2L421.7,611.0L422.7,610.0L423.6,609.2L424.5,608.5L425.4,607.9L426.3,607.4L427.3,606.9L428.2,606.5L429.1,606.1L430.0,605.7L430.9,605.3L431.9,605.0L432.8,604.7L433.7,604.4L434.6,604.1L435.5,603.8L436.5,603.6L437.4,603.4L438.3,603.1L439.2,602.9L440.1,602.7L441.1,602.4L442.0,602.2L442.9,602.0L443.8,601.9L444.7,601.7L444.7,601.7L446.1,616.3L447.4,634.5L448.8,654.8L448.8,653.3L450.0,656.9L451.2,668.0L452.5,675.0L453.7,678.5L454.9,690.0M415.3,699.7L416.2,636.7L417.1,625.1L418.1,619.9L419.0,616.8L419.9,614.4L420.8,612.7L421.8,611.4L422.7,610.5L423.6,609.7L424.5,609.0L425.5,608.4L426.4,607.8L427.3,607.4L428.2,606.9L429.2,606.5L430.1,606.1L431.0,605.8L431.9,605.4L432.8,605.1L433.8,604.8L434.7,604.6L435.6,604.3L436.5,604.0L437.5,603.8L438.4,603.6L439.3,603.3L440.2,603.1L441.2,602.9L442.1,602.7L443.0,602.5L443.9,602.3L444.9,602.2L444.9,602.2L446.0,618.7L447.1,665.0M415.3,698.5L416.2,638.0L417.1,626.4L418.0,621.1L418.9,617.9L419.8,615.6L420.7,613.8L421.6,612.5L422.5,611.6L423.4,610.8L424.3,610.1L425.2,609.4L426.2,608.9L427.1,608.4L428.0,608.0L428.9,607.6L429.8,607.2L430.7,606.8L431.6,606.5L432.5,606.2L433.4,605.9L434.3,605.6L435.2,605.3L436.1,605.1L437.0,604.9L437.9,604.6L438.8,604.4L439.7,604.2L440.6,604.0L441.5,603.8L442.4,603.6L443.3,603.4L444.2,603.3L445.1,603.1L445.1,603.1L446.0,615.3L446.9,658.1M415.3,701.7L416.2,638.8L417.1,627.1L418.0,621.9L418.9,618.7L419.9,616.4L420.8,614.6L421.7,613.4L422.6,612.4L423.5,611.6L424.4,610.9L425.3,610.3L426.2,609.7L427.2,609.3L428.1,608.8L429.0,608.4L429.9,608.1L430.8,607.7L431.7,607.3L432.6,607.0L433.5,606.7L434.5,606.4L435.4,606.2L436.3,605.9L437.2,605.7L438.1,605.5L439.0,605.3L439.9,605.1L440.8,604.9L441.8,604.7L442.7,604.5L443.6,604.4L444.5,604.2L445.4,604.1L446.3,604.0L446.3,604.0L447.6,617.7L449.0,632.1L450.3,644.4L451.7,656.9L451.7,656.0L452.9,658.6L454.2,661.2L455.4,664.0L456.7,664.3L458.0,668.9L459.2,670.5L460.5,673.6L461.7,672.2L463.0,675.6L464.3,681.6L465.5,690.5L466.8,689.1M415.3,704.4L416.2,640.0L417.2,628.4L418.1,623.2L419.0,620.1L419.9,617.7L420.9,616.0L421.8,614.7L422.7,613.8L423.6,613.0L424.6,612.3L425.5,611.7L426.4,611.2L427.3,610.7L428.3,610.2L429.2,609.8L430.1,609.5L431.0,609.1L432.0,608.8L432.9,608.5L433.8,608.2L434.7,607.9L435.7,607.6L436.6,607.4L437.5,607.1L438.5,606.9L439.4,606.6L440.3,606.4L441.2,606.2L442.2,605.9L443.1,605.7L444.0,605.5L444.0,605.5L445.7,625.7L447.5,659.4M415.3,703.7L416.2,641.4L417.1,629.7L418.0,624.5L418.9,621.3L419.8,618.9L420.7,617.2L421.6,615.9L422.5,615.0L423.5,614.2L424.4,613.5L425.3,612.8L426.2,612.3L427.1,611.8L428.0,611.4L428.9,611.0L429.8,610.6L430.7,610.2L431.6,609.9L432.5,609.6L433.4,609.3L434.3,609.0L435.2,608.8L436.1,608.5L437.0,608.3L437.9,608.0L438.8,607.8L439.8,607.6L440.7,607.3L441.6,607.1L442.5,606.9L443.4,606.7L444.3,606.5L444.3,606.5L445.9,628.1L447.6,661.2M415.3,701.4L416.2,643.2L417.2,631.6L418.1,626.4L419.0,623.2L419.9,620.9L420.9,619.2L421.8,617.9L422.7,617.0L423.6,616.2L424.6,615.5L425.5,614.9L426.4,614.3L427.3,613.8L428.3,613.4L429.2,613.0L430.1,612.6L431.0,612.3L432.0,611.9L432.9,611.6L433.8,611.3L434.7,611.1L435.7,610.8L436.6,610.6L437.5,610.3L438.4,610.1L439.4,609.8L440.3,609.6L441.2,609.3L442.1,609.1L443.1,608.9L444.0,608.7L444.0,608.7L445.8,628.4L447.5,653.0M415.3,700.0L416.2,644.0L417.1,632.4L418.0,627.1L418.9,623.9L419.8,621.6L420.8,619.8L421.7,618.6L422.6,617.6L423.5,616.8L424.4,616.1L425.3,615.5L426.2,614.9L427.1,614.5L428.0,614.0L428.9,613.6L429.8,613.2L430.8,612.9L431.7,612.5L432.6,612.2L433.5,611.9L434.4,611.6L435.3,611.4L436.2,611.1L437.1,610.9L438.0,610.7L438.9,610.5L439.9,610.2L440.8,610.0L441.7,609.8L442.6,609.7L443.5,609.5L444.4,609.3L445.3,609.2L445.3,609.2L446.8,630.3L448.3,667.5M415.3,700.6L416.2,646.0L417.1,634.4L418.1,629.1L419.0,625.9L419.9,623.6L420.8,621.8L421.7,620.6L422.7,619.7L423.6,618.8L424.5,618.1L425.4,617.5L426.3,617.0L427.2,616.5L428.2,616.1L429.1,615.7L430.0,615.3L430.9,614.9L431.8,614.6L432.8,614.3L433.7,614.0L434.6,613.8L435.5,613.5L436.4,613.3L437.4,613.0L438.3,612.7L439.2,612.4L440.1,612.1L441.0,611.9L442.0,611.6L442.9,611.3L442.9,611.3L444.6,630.6L446.3,657.6M415.3,699.4L416.2,646.9L417.1,635.3L418.0,630.0L419.0,626.8L419.9,624.5L420.8,622.7L421.7,621.4L422.6,620.5L423.5,619.7L424.4,619.0L425.3,618.4L426.3,617.8L427.2,617.4L428.1,616.9L429.0,616.5L429.9,616.1L430.8,615.8L431.7,615.4L432.6,615.1L433.6,614.8L434.5,614.6L435.4,614.3L436.3,614.1L437.2,613.8L438.1,613.6L439.0,613.3L439.9,613.1L440.9,612.9L441.8,612.7L442.7,612.5L443.6,612.3L444.5,612.1L444.5,612.1L445.8,625.3L447.0,636.9L448.3,651.8M415.3,697.1L416.2,650.5L417.1,639.0L418.0,633.5L418.9,630.4L419.8,628.0L420.7,626.3L421.6,625.0L422.5,624.0L423.4,623.2L424.3,622.5L425.3,621.9L426.2,621.4L427.1,620.9L428.0,620.4L428.9,620.0L429.8,619.7L430.7,619.3L431.6,619.0L432.5,618.7L433.4,618.4L434.3,618.1L435.2,617.9L436.1,617.6L437.0,617.4L437.9,617.1L438.8,616.8L439.7,616.6L440.6,616.3L441.5,616.1L442.4,615.8L443.3,615.6L443.3,615.6L444.4,628.6L445.4,661.9L445.4,661.2L446.7,663.4L448.1,676.0L449.4,679.9L450.8,687.9L452.1,693.6M415.3,698.1L416.2,650.5L417.2,639.0L418.1,633.7L419.0,630.6L419.9,628.2L420.9,626.5L421.8,625.2L422.7,624.3L423.7,623.5L424.6,622.8L425.5,622.2L426.4,621.7L427.4,621.2L428.3,620.7L429.2,620.3L430.2,620.0L431.1,619.6L432.0,619.3L433.0,619.0L433.9,618.7L434.8,618.4L435.7,618.2L436.7,617.9L437.6,617.6L438.5,617.4L439.5,617.1L440.4,616.8L441.3,616.6L442.2,616.3L443.2,616.0L443.2,616.0L444.2,629.8L445.2,666.2L445.2,665.8L446.5,670.0L447.7,673.4L449.0,672.7L450.2,678.5L451.5,681.3L452.7,677.3L454.0,680.7L455.2,687.3M415.3,700.8L416.2,651.8L417.2,640.3L418.1,634.9L419.0,631.8L419.9,629.4L420.9,627.7L421.8,626.5L422.7,625.5L423.6,624.7L424.6,624.0L425.5,623.4L426.4,622.9L427.3,622.4L428.3,622.0L429.2,621.6L430.1,621.2L431.0,620.8L432.0,620.5L432.9,620.2L433.8,619.9L434.7,619.7L435.7,619.4L436.6,619.1L437.5,618.9L438.4,618.6L439.4,618.3L440.3,618.0L441.2,617.8L442.1,617.5L443.1,617.2L443.1,617.2L444.7,632.3L446.3,649.9L447.8,667.9M415.3,703.8L416.2,654.5L417.2,643.0L418.1,637.7L419.0,634.5L419.9,632.2L420.9,630.5L421.8,629.2L422.7,628.3L423.7,627.5L424.6,626.8L425.5,626.2L426.4,625.6L427.4,625.2L428.3,624.7L429.2,624.3L430.2,623.9L431.1,623.6L432.0,623.2L432.9,623.0L433.9,622.7L434.8,622.4L435.7,622.1L436.7,621.9L437.6,621.6L438.5,621.3L439.4,621.1L440.4,620.8L441.3,620.5L442.2,620.3L443.2,620.0L443.2,620.0L444.3,634.6L445.5,663.1L445.5,663.8L446.7,670.8L447.9,676.1L449.1,681.0L450.3,682.0L451.6,686.7L452.8,688.5L454.0,701.4M415.3,701.1L416.2,656.6L417.1,645.1L418.0,639.6L418.9,636.5L419.8,634.1L420.7,632.4L421.6,631.1L422.6,630.2L423.5,629.3L424.4,628.6L425.3,628.0L426.2,627.5L427.1,627.0L428.0,626.6L428.9,626.2L429.8,625.8L430.7,625.4L431.6,625.1L432.5,624.8L433.4,624.6L434.3,624.3L435.2,624.1L436.1,623.8L437.1,623.5L438.0,623.2L438.9,622.9L439.8,622.5L440.7,622.1L441.6,621.7L441.6,621.7L443.1,635.0L444.6,647.8L446.1,659.7L446.1,659.0L447.3,663.6L448.5,662.2L449.7,667.2L451.0,670.3L452.2,678.1L453.4,675.7L454.6,679.0L455.8,678.4L457.0,681.0L458.2,687.7L459.4,693.7L460.7,696.0M415.3,703.4L416.2,656.8L417.1,645.3L418.0,639.9L419.0,636.8L419.9,634.4L420.8,632.6L421.7,631.4L422.6,630.4L423.5,629.6L424.4,628.9L425.4,628.3L426.3,627.8L427.2,627.3L428.1,626.9L429.0,626.5L429.9,626.1L430.8,625.7L431.8,625.4L432.7,625.1L433.6,624.8L434.5,624.6L435.4,624.3L436.3,624.1L437.2,623.8L438.1,623.5L439.1,623.2L440.0,622.9L440.9,622.6L441.8,622.3L442.7,622.1L442.7,622.1L444.4,641.2L446.0,666.1M415.3,699.5L416.2,660.0L417.2,648.6L418.1,643.1L419.0,640.0L419.9,637.7L420.9,635.9L421.8,634.7L422.7,633.8L423.6,632.9L424.6,632.2L425.5,631.6L426.4,631.1L427.4,630.6L428.3,630.2L429.2,629.8L430.1,629.4L431.1,629.0L432.0,628.7L432.9,628.4L433.8,628.1L434.8,627.8L435.7,627.6L436.6,627.3L437.6,627.1L438.5,626.8L439.4,626.6L440.3,626.3L441.3,626.1L442.2,625.9L443.1,625.7L444.0,625.5L444.0,625.5L445.3,635.6L446.6,646.6L447.8,654.3L449.1,659.9M415.3,697.9L416.2,661.1L417.1,649.7L418.0,644.1L419.0,641.0L419.9,638.6L420.8,636.9L421.7,635.6L422.6,634.7L423.5,633.9L424.5,633.2L425.4,632.6L426.3,632.0L427.2,631.5L428.1,631.1L429.0,630.7L429.9,630.3L430.9,630.0L431.8,629.6L432.7,629.3L433.6,629.1L434.5,628.8L435.4,628.6L436.4,628.3L437.3,628.0L438.2,627.7L439.1,627.5L440.0,627.2L440.9,626.9L441.8,626.6L442.8,626.3L442.8,626.3L444.3,638.3L445.9,649.2L447.5,653.1M415.3,702.4L416.2,664.3L417.2,653.0L418.1,647.5L419.0,644.3L419.9,642.0L420.9,640.2L421.8,639.0L422.7,638.1L423.6,637.3L424.6,636.5L425.5,635.9L426.4,635.4L427.3,634.9L428.3,634.5L429.2,634.1L430.1,633.7L431.0,633.4L432.0,633.0L432.9,632.7L433.8,632.5L434.7,632.2L435.7,631.9L436.6,631.7L437.5,631.4L438.4,631.1L439.4,630.8L440.3,630.6L441.2,630.3L442.1,630.0L443.1,629.8L443.1,629.8L444.4,641.4L445.8,651.3L447.2,659.8L448.6,663.2M415.3,701.2L416.2,666.0L417.1,654.7L418.0,649.1L419.0,646.0L419.9,643.6L420.8,641.8L421.7,640.6L422.6,639.6L423.5,638.8L424.4,638.1L425.4,637.5L426.3,637.0L427.2,636.5L428.1,636.1L429.0,635.7L429.9,635.3L430.8,634.9L431.7,634.6L432.7,634.3L433.6,634.0L434.5,633.8L435.4,633.5L436.3,633.2L437.2,633.0L438.1,632.7L439.1,632.4L440.0,632.1L440.9,631.8L441.8,631.5L442.7,631.2L442.7,631.2L443.6,640.6L444.4,653.1L444.4,653.7L445.6,655.8L446.9,657.6L448.1,663.8L449.4,671.1L450.6,671.6L451.9,670.6M415.3,703.6L416.2,667.4L417.1,656.1L418.0,650.4L418.9,647.3L419.8,644.9L420.7,643.2L421.6,641.9L422.5,640.9L423.4,640.1L424.3,639.4L425.2,638.8L426.1,638.3L427.0,637.8L428.0,637.4L428.9,637.0L429.8,636.6L430.7,636.2L431.6,635.9L432.5,635.6L433.4,635.3L434.3,635.1L435.2,634.8L436.1,634.5L437.0,634.3L437.9,634.0L438.8,633.7L439.7,633.4L440.6,633.1L441.5,632.8L442.4,632.5L442.4,632.5L443.6,645.0L444.8,655.3L446.1,665.4M415.3,702.9L416.2,670.1L417.2,658.8L418.1,653.2L419.0,650.1L419.9,647.7L420.9,646.0L421.8,644.8L422.7,643.8L423.6,643.0L424.6,642.3L425.5,641.7L426.4,641.2L427.4,640.7L428.3,640.3L429.2,639.9L430.1,639.5L431.1,639.1L432.0,638.9L432.9,638.6L433.9,638.4L434.8,638.1L435.7,637.9L436.6,637.6L437.6,637.2L438.5,636.8L439.4,636.2L440.3,635.5L440.3,635.5L441.6,648.4L442.9,656.0L444.2,662.8M415.3,700.9L416.2,671.9L417.2,660.7L418.1,655.0L419.0,651.9L419.9,649.5L420.9,647.8L421.8,646.6L422.7,645.6L423.7,644.8L424.6,644.1L425.5,643.5L426.5,643.0L427.4,642.5L428.3,642.1L429.2,641.7L430.2,641.3L431.1,641.0L432.0,640.7L433.0,640.4L433.9,640.2L434.8,639.9L435.7,639.7L436.7,639.4L437.6,639.0L438.5,638.6L439.5,638.0L440.4,637.4L440.4,637.4L442.0,652.0L443.6,662.8M415.3,703.6L416.2,673.0L417.2,661.8L418.1,656.1L419.0,653.0L419.9,650.6L420.9,648.9L421.8,647.7L422.7,646.7L423.7,645.9L424.6,645.2L425.5,644.6L426.5,644.1L427.4,643.6L428.3,643.2L429.2,642.8L430.2,642.4L431.1,642.0L432.0,641.7L433.0,641.5L433.9,641.2L434.8,641.0L435.8,640.7L436.7,640.4L437.6,640.1L438.5,639.8L439.5,639.4L440.4,638.9L441.3,638.5L441.3,638.5L442.8,651.4L444.3,659.9L445.8,665.9L447.3,667.5M415.3,705.5L416.2,676.9L417.1,665.8L418.0,660.0L418.9,656.8L419.8,654.5L420.7,652.7L421.6,651.4L422.5,650.5L423.4,649.7L424.3,649.0L425.3,648.3L426.2,647.8L427.1,647.3L428.0,646.9L428.9,646.5L429.8,646.1L430.7,645.8L431.6,645.4L432.5,645.1L433.4,644.9L434.3,644.6L435.2,644.3L436.1,644.1L437.0,643.8L437.9,643.5L438.8,643.3L439.7,643.0L440.6,642.6L441.5,642.3L442.4,642.0L442.4,642.0L443.9,649.0L445.3,650.1L446.8,651.2M415.5,705.0L416.5,690.1L417.5,680.9L418.6,674.6L419.6,669.8L420.6,665.6L421.6,661.6L422.6,657.9L423.6,654.6L424.7,652.1L425.7,650.4L426.7,649.5L427.7,648.8L428.7,648.3L429.7,647.8L430.8,647.4L431.8,647.0L432.8,646.7L433.8,646.4L434.8,646.1L435.8,645.8L436.9,645.6L437.9,645.3L438.9,645.0L439.9,644.8L440.9,644.6L441.9,644.4L443.0,644.3L444.0,644.1L445.0,644.1L445.0,644.1L446.4,649.7L447.8,655.8L449.2,658.0L450.6,663.6L452.0,670.3M415.5,705.0L416.5,690.0L417.5,681.1L418.6,675.3L419.6,670.7L420.6,666.6L421.6,662.5L422.6,658.6L423.6,655.2L424.7,652.5L425.7,650.7L426.7,649.9L427.7,649.2L428.7,648.6L429.7,648.1L430.8,647.7L431.8,647.3L432.8,647.0L433.8,646.7L434.8,646.5L435.8,646.2L436.9,645.9L437.9,645.6L438.9,645.4L439.9,645.2L440.9,645.0L441.9,644.8L443.0,644.6L444.0,644.5L445.0,644.4L445.0,644.4L446.4,648.6L447.8,654.1L449.2,657.8L450.6,660.7L452.0,665.9M415.5,705.0L416.5,689.9L417.5,681.3L418.6,675.8L419.6,671.6L420.6,667.8L421.6,664.1L422.6,660.7L423.6,657.6L424.7,655.2L425.7,653.6L426.7,652.8L427.7,652.1L428.7,651.5L429.7,651.0L430.8,650.6L431.8,650.2L432.8,649.9L433.8,649.6L434.8,649.3L435.8,649.1L436.9,648.8L437.9,648.5L438.9,648.3L439.9,648.1L440.9,647.8L441.9,647.7L443.0,647.5L444.0,647.4L445.0,647.3L445.0,647.3L446.4,651.0L447.8,654.9L449.2,660.8L450.6,664.6L452.0,666.0M415.5,705.0L416.5,689.8L417.5,681.4L418.6,676.2L419.6,672.4L420.6,669.2L421.6,666.1L422.6,663.3L423.6,660.9L424.7,659.0L425.7,657.7L426.7,656.9L427.7,656.2L428.7,655.6L429.7,655.1L430.8,654.7L431.8,654.3L432.8,654.0L433.8,653.7L434.8,653.4L435.8,653.1L436.9,652.9L437.9,652.6L438.9,652.4L439.9,652.1L440.9,651.9L441.9,651.7L443.0,651.6L444.0,651.5L445.0,651.4L445.0,651.4L446.4,654.1L447.8,657.1L449.2,662.3L450.6,666.4L452.0,669.3M415.5,705.0L416.5,689.7L417.5,681.6L418.6,676.7L419.6,673.2L420.6,670.5L421.6,668.2L422.6,666.2L423.6,664.5L424.7,663.1L425.7,662.0L426.7,661.3L427.7,660.7L428.7,660.1L429.7,659.6L430.8,659.2L431.8,658.8L432.8,658.4L433.8,658.1L434.8,657.8L435.8,657.6L436.9,657.3L437.9,657.0L438.9,656.8L439.9,656.5L440.9,656.3L441.9,656.2L443.0,656.0L444.0,655.9L445.0,655.8L445.0,655.8L446.4,659.2L447.8,660.8L449.2,661.7L450.6,665.4L452.0,669.4M415.5,705.0L416.5,689.6L417.5,681.8L418.6,677.1L419.6,673.9L420.6,671.9L421.6,670.3L422.6,669.0L423.6,667.8L424.7,666.9L425.7,666.2L426.7,665.5L427.7,664.9L428.7,664.3L429.7,663.8L430.8,663.4L431.8,663.0L432.8,662.6L433.8,662.3L434.8,662.0L435.8,661.7L436.9,661.4L437.9,661.2L438.9,660.9L439.9,660.7L440.9,660.5L441.9,660.3L443.0,660.2L444.0,660.0L445.0,659.9L445.0,659.9L446.4,660.0L447.8,663.1L449.2,664.3L450.6,668.0L452.0,667.1M415.5,705.0L416.5,689.5L417.5,682.0L418.6,677.8L419.6,674.9L420.6,672.8L421.6,671.0L422.6,669.4L423.6,668.1L424.7,667.0L425.7,666.1L426.7,665.5L427.7,664.8L428.7,664.3L429.7,663.8L430.8,663.3L431.8,662.9L432.8,662.6L433.8,662.3L434.8,662.0L435.8,661.7L436.9,661.4L437.9,661.1L438.9,660.9L439.9,660.7L440.9,660.5L441.9,660.3L443.0,660.1L444.0,660.0L445.0,659.9L445.0,659.9L446.4,662.1L447.8,662.6L449.2,663.2L450.6,665.8L452.0,667.7M415.5,705.0L416.5,689.4L417.5,682.2L418.6,678.3L419.6,675.7L420.6,674.2L421.6,672.9L422.6,671.9L423.6,671.1L424.7,670.4L425.7,669.8L426.7,669.2L427.7,668.6L428.7,668.1L429.7,667.6L430.8,667.1L431.8,666.7L432.8,666.3L433.8,666.0L434.8,665.6L435.8,665.4L436.9,665.1L437.9,664.8L438.9,664.6L439.9,664.4L440.9,664.1L441.9,664.0L443.0,663.8L444.0,663.7L445.0,663.6L445.0,663.6L446.4,664.1L447.8,664.9L449.2,665.3L450.6,667.9L452.0,670.0M450.0,699.0L451.4,701.2L452.8,694.1L454.2,700.1L455.6,701.6L457.1,700.8L458.5,699.3L459.9,701.7L461.3,701.7L462.7,706.9L464.1,698.8L465.5,696.6L466.9,703.1L468.4,703.7L469.8,702.9L471.2,702.6L472.6,707.5L474.0,710.4M450.0,686.2L451.4,690.6L452.8,686.8L454.2,686.4L455.6,692.9L457.1,683.6L458.5,686.8L459.9,689.7L461.3,684.0L462.7,682.3L464.1,683.1L465.5,691.0L466.9,687.4L468.4,684.6L469.8,682.4L471.2,688.6L472.6,686.2L474.0,685.9M450.0,704.4L451.4,706.4L452.8,704.3L454.2,699.4L455.6,704.9L457.1,702.7L458.5,710.2L459.9,703.5L461.3,704.4L462.7,702.1L464.1,701.6L465.5,702.5L466.9,702.8L468.4,703.9L469.8,708.3L471.2,704.7L472.6,705.3L474.0,696.6M450.0,693.2L451.4,695.4L452.8,693.5L454.2,690.7L455.6,698.2L457.1,695.3L458.5,693.1L459.9,696.7L461.3,698.5L462.7,690.9L464.1,692.6L465.5,687.3L466.9,689.0L468.4,691.5L469.8,694.9L471.2,693.3L472.6,698.1L474.0,693.2M450.0,689.4L451.4,693.1L452.8,690.1L454.2,694.2L455.6,693.9L457.1,694.2L458.5,686.4L459.9,692.5L461.3,688.1L462.7,689.1L464.1,696.6L465.5,694.6L466.9,695.8L468.4,698.3L469.8,693.6L471.2,693.0L472.6,695.7L474.0,696.8M454.0,705.0L455.0,704.5L456.0,711.0L457.0,705.7L458.0,705.8L459.0,703.3L460.0,703.6L461.0,708.0L462.0,707.4L463.0,709.0L464.0,706.7L465.0,712.5L466.0,714.7L467.0,709.6L468.0,713.5L469.0,715.9L470.0,710.4L471.0,707.5L472.0,712.7"/>
<path d="M426.6,596.3 Q434,584 445,582.6 Q455,581.5 457,586 L460.8,620.8" fill="none" stroke="#1a1ad2" stroke-width="1.5" stroke-dasharray="4,3"/>
<path d="M453.8,613.8 L460.8,621 L467,610.3" fill="none" stroke="#1a1ad2" stroke-width="1.5"/>
<path d="M498.8,670.9 Q520,668 537.7,654 Q546,645 548.9,625.3" fill="none" stroke="#e01010" stroke-width="1.5" stroke-dasharray="4.5,3.5"/>
<path d="M538.7,633.5 L548.9,625.3 L551.6,638.6" fill="none" stroke="#e01010" stroke-width="1.5"/>
</g>
<line x1="63" y1="2.5" x2="343.6" y2="2.5" stroke="#222" stroke-width="1.15"/>
<line x1="343" y1="2" x2="343" y2="233" stroke="#999" stroke-width="1.3"/>
<line x1="63" y1="233" x2="343.5" y2="233" stroke="#444" stroke-width="1.5"/>
<line x1="63" y1="1.5" x2="63" y2="233.7" stroke="#999" stroke-width="1.2"/>
<path d="M63,231.70h4M63,229.24h4M63,227.22h4M63,225.52h4M63,224.05h4M63,222.74h4M63,221.58h8M63,213.92h4M63,209.44h4M63,206.26h4M63,203.80h4M63,201.78h4M63,200.08h4M63,198.61h4M63,197.30h4M63,196.14h8M63,188.48h4M63,184.00h4M63,180.82h4M63,178.36h4M63,176.34h4M63,174.64h4M63,173.17h4M63,171.86h4M63,170.70h8M63,163.04h4M63,158.56h4M63,155.38h4M63,152.92h4M63,150.90h4M63,149.20h4M63,147.73h4M63,146.42h4M63,145.26h8M63,137.60h4M63,133.12h4M63,129.94h4M63,127.48h4M63,125.46h4M63,123.76h4M63,122.29h4M63,120.98h4M63,119.82h8M63,112.16h4M63,107.68h4M63,104.50h4M63,102.04h4M63,100.02h4M63,98.32h4M63,96.85h4M63,95.54h4M63,94.38h8M63,86.72h4M63,82.24h4M63,79.06h4M63,76.60h4M63,74.58h4M63,72.88h4M63,71.41h4M63,70.10h4M63,68.94h8M63,61.28h4M63,56.80h4M63,53.62h4M63,51.16h4M63,49.14h4M63,47.44h4M63,45.97h4M63,44.66h4M63,43.50h8M63,35.84h4M63,31.36h4M63,28.18h4M63,25.72h4M63,23.70h4M63,22.00h4M63,20.53h4M63,19.22h4M63,18.06h8M63,10.40h4M63,5.92h4M63,2.74h4" stroke="#111" stroke-width="1.2" fill="none"/>
<path d="M81.00,233v-8M124.50,233v-4.5M168.00,233v-8M211.50,233v-4.5M255.00,233v-8M298.50,233v-4.5" stroke="#444" stroke-width="0.9" fill="none"/>
<text transform="translate(81.0,256.5) scale(0.88,1)" text-anchor="middle" font-size="18" font-weight="bold" font-style="normal" fill="#000" >0</text>
<text transform="translate(168.0,256.5) scale(0.88,1)" text-anchor="middle" font-size="18" font-weight="bold" font-style="normal" fill="#000" >1</text>
<text transform="translate(255.0,256.5) scale(0.88,1)" text-anchor="middle" font-size="18" font-weight="bold" font-style="normal" fill="#000" >2</text>
<text transform="translate(342.0,256.5) scale(0.88,1)" text-anchor="middle" font-size="18" font-weight="bold" font-style="normal" fill="#000" >3</text>
<text transform="translate(54.0,50.5) scale(0.88,1)" text-anchor="end" font-size="18.5" font-weight="bold" fill="#000"><tspan>10</tspan><tspan dy="-10" font-size="10.5">1</tspan></text>
<text transform="translate(54.0,101.4) scale(0.88,1)" text-anchor="end" font-size="18.5" font-weight="bold" fill="#000"><tspan>10</tspan><tspan dy="-10" font-size="10.5">-1</tspan></text>
<text transform="translate(54.0,152.3) scale(0.88,1)" text-anchor="end" font-size="18.5" font-weight="bold" fill="#000"><tspan>10</tspan><tspan dy="-10" font-size="10.5">-3</tspan></text>
<text transform="translate(54.0,203.1) scale(0.88,1)" text-anchor="end" font-size="18.5" font-weight="bold" fill="#000"><tspan>10</tspan><tspan dy="-10" font-size="10.5">-5</tspan></text>
<text transform="translate(78.1,20.6) scale(0.89,1)" text-anchor="start" font-size="23" font-weight="bold" font-style="normal" fill="#000" >(a)</text>
<text transform="translate(339.3,217.1) scale(0.88,1)" text-anchor="end" font-size="24" font-weight="bold" font-style="normal" fill="#000" >NiO</text>
<line x1="396" y1="1.5" x2="676.6" y2="1.5" stroke="#222" stroke-width="1.15"/>
<line x1="676" y1="1.5" x2="676" y2="232.5" stroke="#999" stroke-width="1.3"/>
<line x1="396" y1="232.5" x2="676.5" y2="232.5" stroke="#444" stroke-width="1.5"/>
<line x1="396" y1="1.0" x2="396" y2="233.2" stroke="#999" stroke-width="1.2"/>
<path d="M396,231.70h8M396,227.34h4M396,224.78h4M396,222.97h4M396,221.56h4M396,220.42h4M396,219.45h4M396,218.61h4M396,217.86h4M396,217.20h8M396,212.84h4M396,210.28h4M396,208.47h4M396,207.06h4M396,205.92h4M396,204.95h4M396,204.11h4M396,203.36h4M396,202.70h8M396,198.34h4M396,195.78h4M396,193.97h4M396,192.56h4M396,191.42h4M396,190.45h4M396,189.61h4M396,188.86h4M396,188.20h8M396,183.84h4M396,181.28h4M396,179.47h4M396,178.06h4M396,176.92h4M396,175.95h4M396,175.11h4M396,174.36h4M396,173.70h8M396,169.34h4M396,166.78h4M396,164.97h4M396,163.56h4M396,162.42h4M396,161.45h4M396,160.61h4M396,159.86h4M396,159.20h8M396,154.84h4M396,152.28h4M396,150.47h4M396,149.06h4M396,147.92h4M396,146.95h4M396,146.11h4M396,145.36h4M396,144.70h8M396,140.34h4M396,137.78h4M396,135.97h4M396,134.56h4M396,133.42h4M396,132.45h4M396,131.61h4M396,130.86h4M396,130.20h8M396,125.84h4M396,123.28h4M396,121.47h4M396,120.06h4M396,118.92h4M396,117.95h4M396,117.11h4M396,116.36h4M396,115.70h8M396,111.34h4M396,108.78h4M396,106.97h4M396,105.56h4M396,104.42h4M396,103.45h4M396,102.61h4M396,101.86h4M396,101.20h8M396,96.84h4M396,94.28h4M396,92.47h4M396,91.06h4M396,89.92h4M396,88.95h4M396,88.11h4M396,87.36h4M396,86.70h8M396,82.34h4M396,79.78h4M396,77.97h4M396,76.56h4M396,75.42h4M396,74.45h4M396,73.61h4M396,72.86h4M396,72.20h8M396,67.84h4M396,65.28h4M396,63.47h4M396,62.06h4M396,60.92h4M396,59.95h4M396,59.11h4M396,58.36h4M396,57.70h8M396,53.34h4M396,50.78h4M396,48.97h4M396,47.56h4M396,46.42h4M396,45.45h4M396,44.61h4M396,43.86h4M396,43.20h8M396,38.84h4M396,36.28h4M396,34.47h4M396,33.06h4M396,31.92h4M396,30.95h4M396,30.11h4M396,29.36h4M396,28.70h8M396,24.34h4M396,21.78h4M396,19.97h4M396,18.56h4M396,17.42h4M396,16.45h4M396,15.61h4M396,14.86h4M396,14.20h8M396,9.84h4M396,7.28h4M396,5.47h4M396,4.06h4M396,2.92h4" stroke="#111" stroke-width="1.2" fill="none"/>
<path d="M413.60,232.5v-8M457.10,232.5v-4.5M500.60,232.5v-8M544.10,232.5v-4.5M587.60,232.5v-8M631.10,232.5v-4.5" stroke="#444" stroke-width="0.9" fill="none"/>
<text transform="translate(413.6,256.0) scale(0.88,1)" text-anchor="middle" font-size="18" font-weight="bold" font-style="normal" fill="#000" >0</text>
<text transform="translate(500.6,256.0) scale(0.88,1)" text-anchor="middle" font-size="18" font-weight="bold" font-style="normal" fill="#000" >5</text>
<text transform="translate(587.6,256.0) scale(0.88,1)" text-anchor="middle" font-size="18" font-weight="bold" font-style="normal" fill="#000" >10</text>
<text transform="translate(674.6,256.0) scale(0.88,1)" text-anchor="middle" font-size="18" font-weight="bold" font-style="normal" fill="#000" >15</text>
<text transform="translate(387.0,35.7) scale(0.88,1)" text-anchor="end" font-size="18.5" font-weight="bold" fill="#000"><tspan>10</tspan><tspan dy="-10" font-size="10.5">2</tspan></text>
<text transform="translate(387.0,79.2) scale(0.88,1)" text-anchor="end" font-size="18.5" font-weight="bold" fill="#000"><tspan>10</tspan><tspan dy="-10" font-size="10.5">-1</tspan></text>
<text transform="translate(387.0,122.7) scale(0.88,1)" text-anchor="end" font-size="18.5" font-weight="bold" fill="#000"><tspan>10</tspan><tspan dy="-10" font-size="10.5">-4</tspan></text>
<text transform="translate(387.0,166.2) scale(0.88,1)" text-anchor="end" font-size="18.5" font-weight="bold" fill="#000"><tspan>10</tspan><tspan dy="-10" font-size="10.5">-7</tspan></text>
<text transform="translate(387.0,209.7) scale(0.88,1)" text-anchor="end" font-size="18.5" font-weight="bold" fill="#000"><tspan>10</tspan><tspan dy="-10" font-size="10.5">-10</tspan></text>
<text transform="translate(407.6,19.2) scale(0.89,1)" text-anchor="start" font-size="23" font-weight="bold" font-style="normal" fill="#000" >(b)</text>
<text transform="translate(672.0,210.4) scale(0.88,1)" text-anchor="end" font-size="24" font-weight="bold" font-style="normal" fill="#000" >Al<tspan font-size="13.5" dy="9.5">2</tspan><tspan dy="-9.5">O</tspan><tspan font-size="13.5" dy="9.5">3</tspan></text>
<line x1="63" y1="279.5" x2="343.6" y2="279.5" stroke="#222" stroke-width="1.15"/>
<line x1="343" y1="279.6" x2="343" y2="510.4" stroke="#999" stroke-width="1.3"/>
<line x1="63" y1="510.4" x2="343.5" y2="510.4" stroke="#444" stroke-width="1.5"/>
<line x1="63" y1="279.1" x2="63" y2="511.09999999999997" stroke="#999" stroke-width="1.2"/>
<path d="M63,509.70h8M63,503.39h4M63,499.70h4M63,497.09h4M63,495.06h4M63,493.40h4M63,492.00h4M63,490.78h4M63,489.71h4M63,488.75h8M63,482.44h4M63,478.75h4M63,476.14h4M63,474.11h4M63,472.45h4M63,471.05h4M63,469.83h4M63,468.76h4M63,467.80h8M63,461.49h4M63,457.80h4M63,455.19h4M63,453.16h4M63,451.50h4M63,450.10h4M63,448.88h4M63,447.81h4M63,446.85h8M63,440.54h4M63,436.85h4M63,434.24h4M63,432.21h4M63,430.55h4M63,429.15h4M63,427.93h4M63,426.86h4M63,425.90h8M63,419.59h4M63,415.90h4M63,413.29h4M63,411.26h4M63,409.60h4M63,408.20h4M63,406.98h4M63,405.91h4M63,404.95h8M63,398.64h4M63,394.95h4M63,392.34h4M63,390.31h4M63,388.65h4M63,387.25h4M63,386.03h4M63,384.96h4M63,384.00h8M63,377.69h4M63,374.00h4M63,371.39h4M63,369.36h4M63,367.70h4M63,366.30h4M63,365.08h4M63,364.01h4M63,363.05h8M63,356.74h4M63,353.05h4M63,350.44h4M63,348.41h4M63,346.75h4M63,345.35h4M63,344.13h4M63,343.06h4M63,342.10h8M63,335.79h4M63,332.10h4M63,329.49h4M63,327.46h4M63,325.80h4M63,324.40h4M63,323.18h4M63,322.11h4M63,321.15h8M63,314.84h4M63,311.15h4M63,308.54h4M63,306.51h4M63,304.85h4M63,303.45h4M63,302.23h4M63,301.16h4M63,300.20h8M63,293.89h4M63,290.20h4M63,287.59h4M63,285.56h4M63,283.90h4M63,282.50h4M63,281.28h4M63,280.21h4" stroke="#111" stroke-width="1.2" fill="none"/>
<path d="M76.50,510.4v-8M109.80,510.4v-4.5M143.10,510.4v-8M176.40,510.4v-4.5M209.70,510.4v-8M243.00,510.4v-4.5M276.30,510.4v-8M309.60,510.4v-4.5" stroke="#444" stroke-width="0.9" fill="none"/>
<text transform="translate(76.5,533.9) scale(0.88,1)" text-anchor="middle" font-size="18" font-weight="bold" font-style="normal" fill="#000" >0</text>
<text transform="translate(143.1,533.9) scale(0.88,1)" text-anchor="middle" font-size="18" font-weight="bold" font-style="normal" fill="#000" >1</text>
<text transform="translate(209.7,533.9) scale(0.88,1)" text-anchor="middle" font-size="18" font-weight="bold" font-style="normal" fill="#000" >2</text>
<text transform="translate(276.3,533.9) scale(0.88,1)" text-anchor="middle" font-size="18" font-weight="bold" font-style="normal" fill="#000" >3</text>
<text transform="translate(342.9,533.9) scale(0.88,1)" text-anchor="middle" font-size="18" font-weight="bold" font-style="normal" fill="#000" >4</text>
<text transform="translate(54.0,349.1) scale(0.88,1)" text-anchor="end" font-size="18.5" font-weight="bold" fill="#000"><tspan>10</tspan><tspan dy="-10" font-size="10.5">0</tspan></text>
<text transform="translate(54.0,412.0) scale(0.88,1)" text-anchor="end" font-size="18.5" font-weight="bold" fill="#000"><tspan>10</tspan><tspan dy="-10" font-size="10.5">-3</tspan></text>
<text transform="translate(54.0,474.8) scale(0.88,1)" text-anchor="end" font-size="18.5" font-weight="bold" fill="#000"><tspan>10</tspan><tspan dy="-10" font-size="10.5">-6</tspan></text>
<text transform="translate(72.8,297.6) scale(0.89,1)" text-anchor="start" font-size="23" font-weight="bold" font-style="normal" fill="#000" >(c)</text>
<text transform="translate(339.5,486.9) scale(0.88,1)" text-anchor="end" font-size="24" font-weight="bold" font-style="normal" fill="#000" >TiO<tspan font-size="13.5" dy="9.5">2</tspan></text>
<line x1="396" y1="279.5" x2="676.6" y2="279.5" stroke="#222" stroke-width="1.15"/>
<line x1="676" y1="279.6" x2="676" y2="510.4" stroke="#999" stroke-width="1.3"/>
<line x1="396" y1="510.4" x2="676.5" y2="510.4" stroke="#444" stroke-width="1.5"/>
<line x1="396" y1="279.1" x2="396" y2="511.09999999999997" stroke="#999" stroke-width="1.2"/>
<path d="M396,508.60h4M396,506.62h4M396,504.96h4M396,503.51h4M396,502.24h4M396,501.10h8M396,493.60h4M396,489.22h4M396,486.11h4M396,483.70h4M396,481.72h4M396,480.06h4M396,478.61h4M396,477.34h4M396,476.20h8M396,468.70h4M396,464.32h4M396,461.21h4M396,458.80h4M396,456.82h4M396,455.16h4M396,453.71h4M396,452.44h4M396,451.30h8M396,443.80h4M396,439.42h4M396,436.31h4M396,433.90h4M396,431.92h4M396,430.26h4M396,428.81h4M396,427.54h4M396,426.40h8M396,418.90h4M396,414.52h4M396,411.41h4M396,409.00h4M396,407.02h4M396,405.36h4M396,403.91h4M396,402.64h4M396,401.50h8M396,394.00h4M396,389.62h4M396,386.51h4M396,384.10h4M396,382.12h4M396,380.46h4M396,379.01h4M396,377.74h4M396,376.60h8M396,369.10h4M396,364.72h4M396,361.61h4M396,359.20h4M396,357.22h4M396,355.56h4M396,354.11h4M396,352.84h4M396,351.70h8M396,344.20h4M396,339.82h4M396,336.71h4M396,334.30h4M396,332.32h4M396,330.66h4M396,329.21h4M396,327.94h4M396,326.80h8M396,319.30h4M396,314.92h4M396,311.81h4M396,309.40h4M396,307.42h4M396,305.76h4M396,304.31h4M396,303.04h4M396,301.90h8M396,294.40h4M396,290.02h4M396,286.91h4M396,284.50h4M396,282.52h4M396,280.86h4" stroke="#111" stroke-width="1.2" fill="none"/>
<path d="M411.40,510.4v-8M437.90,510.4v-4.5M464.40,510.4v-8M490.90,510.4v-4.5M517.40,510.4v-8M543.90,510.4v-4.5M570.40,510.4v-8M596.90,510.4v-4.5M623.40,510.4v-8M649.90,510.4v-4.5" stroke="#444" stroke-width="0.9" fill="none"/>
<text transform="translate(411.4,533.9) scale(0.88,1)" text-anchor="middle" font-size="18" font-weight="bold" font-style="normal" fill="#000" >0</text>
<text transform="translate(464.4,533.9) scale(0.88,1)" text-anchor="middle" font-size="18" font-weight="bold" font-style="normal" fill="#000" >1</text>
<text transform="translate(517.4,533.9) scale(0.88,1)" text-anchor="middle" font-size="18" font-weight="bold" font-style="normal" fill="#000" >2</text>
<text transform="translate(570.4,533.9) scale(0.88,1)" text-anchor="middle" font-size="18" font-weight="bold" font-style="normal" fill="#000" >3</text>
<text transform="translate(623.4,533.9) scale(0.88,1)" text-anchor="middle" font-size="18" font-weight="bold" font-style="normal" fill="#000" >4</text>
<text transform="translate(676.4,533.9) scale(0.88,1)" text-anchor="middle" font-size="18" font-weight="bold" font-style="normal" fill="#000" >5</text>
<text transform="translate(387.0,333.8) scale(0.88,1)" text-anchor="end" font-size="18.5" font-weight="bold" fill="#000"><tspan>10</tspan><tspan dy="-10" font-size="10.5">1</tspan></text>
<text transform="translate(387.0,383.6) scale(0.88,1)" text-anchor="end" font-size="18.5" font-weight="bold" fill="#000"><tspan>10</tspan><tspan dy="-10" font-size="10.5">-1</tspan></text>
<text transform="translate(387.0,433.4) scale(0.88,1)" text-anchor="end" font-size="18.5" font-weight="bold" fill="#000"><tspan>10</tspan><tspan dy="-10" font-size="10.5">-3</tspan></text>
<text transform="translate(387.0,483.2) scale(0.88,1)" text-anchor="end" font-size="18.5" font-weight="bold" fill="#000"><tspan>10</tspan><tspan dy="-10" font-size="10.5">-5</tspan></text>
<text transform="translate(404.8,299.2) scale(0.89,1)" text-anchor="start" font-size="23" font-weight="bold" font-style="normal" fill="#000" >(d)</text>
<text transform="translate(671.4,486.3) scale(0.88,1)" text-anchor="end" font-size="24" font-weight="bold" font-style="normal" fill="#000" >Nb<tspan font-size="13.5" dy="9.5">2</tspan><tspan dy="-9.5">O</tspan><tspan font-size="13.5" dy="9.5">5</tspan></text>
<line x1="63" y1="556.5" x2="343.6" y2="556.5" stroke="#222" stroke-width="1.15"/>
<line x1="343" y1="556.6" x2="343" y2="787.7" stroke="#999" stroke-width="1.3"/>
<line x1="63" y1="787.7" x2="343.5" y2="787.7" stroke="#444" stroke-width="1.5"/>
<line x1="63" y1="556.1" x2="63" y2="788.4000000000001" stroke="#999" stroke-width="1.2"/>
<path d="M63,785.90h8M63,775.70h4M63,769.73h4M63,765.49h4M63,762.20h4M63,759.52h4M63,757.25h4M63,755.29h4M63,753.55h4M63,752.00h8M63,741.80h4M63,735.83h4M63,731.59h4M63,728.30h4M63,725.62h4M63,723.35h4M63,721.39h4M63,719.65h4M63,718.10h8M63,707.90h4M63,701.93h4M63,697.69h4M63,694.40h4M63,691.72h4M63,689.45h4M63,687.49h4M63,685.75h4M63,684.20h8M63,674.00h4M63,668.03h4M63,663.79h4M63,660.50h4M63,657.82h4M63,655.55h4M63,653.59h4M63,651.85h4M63,650.30h8M63,640.10h4M63,634.13h4M63,629.89h4M63,626.60h4M63,623.92h4M63,621.65h4M63,619.69h4M63,617.95h4M63,616.40h8M63,606.20h4M63,600.23h4M63,595.99h4M63,592.70h4M63,590.02h4M63,587.75h4M63,585.79h4M63,584.05h4M63,582.50h8M63,572.30h4M63,566.33h4M63,562.09h4M63,558.80h4" stroke="#111" stroke-width="1.2" fill="none"/>
<path d="M81.00,787.7v-8M113.86,787.7v-4.5M146.72,787.7v-8M179.58,787.7v-4.5M212.44,787.7v-8M245.30,787.7v-4.5M278.16,787.7v-8M311.02,787.7v-4.5" stroke="#444" stroke-width="0.9" fill="none"/>
<text transform="translate(81.0,811.2) scale(0.88,1)" text-anchor="middle" font-size="18" font-weight="bold" font-style="normal" fill="#000" >0</text>
<text transform="translate(146.7,811.2) scale(0.88,1)" text-anchor="middle" font-size="18" font-weight="bold" font-style="normal" fill="#000" >4</text>
<text transform="translate(212.4,811.2) scale(0.88,1)" text-anchor="middle" font-size="18" font-weight="bold" font-style="normal" fill="#000" >8</text>
<text transform="translate(278.2,811.2) scale(0.88,1)" text-anchor="middle" font-size="18" font-weight="bold" font-style="normal" fill="#000" >12</text>
<text transform="translate(343.9,811.2) scale(0.88,1)" text-anchor="middle" font-size="18" font-weight="bold" font-style="normal" fill="#000" >16</text>
<text transform="translate(54.0,623.4) scale(0.88,1)" text-anchor="end" font-size="18.5" font-weight="bold" fill="#000"><tspan>10</tspan><tspan dy="-10" font-size="10.5">1</tspan></text>
<text transform="translate(54.0,725.1) scale(0.88,1)" text-anchor="end" font-size="18.5" font-weight="bold" fill="#000"><tspan>10</tspan><tspan dy="-10" font-size="10.5">-2</tspan></text>
<text transform="translate(70.7,576.3) scale(0.89,1)" text-anchor="start" font-size="23" font-weight="bold" font-style="normal" fill="#000" >(e)</text>
<text transform="translate(340.1,762.8) scale(0.88,1)" text-anchor="end" font-size="24" font-weight="bold" font-style="normal" fill="#000" >MgO</text>
<line x1="395.5" y1="557.5" x2="676.6" y2="557.5" stroke="#222" stroke-width="1.15"/>
<line x1="676" y1="557" x2="676" y2="787.7" stroke="#999" stroke-width="1.3"/>
<line x1="395.5" y1="787.7" x2="676.5" y2="787.7" stroke="#444" stroke-width="1.5"/>
<line x1="395.5" y1="556.5" x2="395.5" y2="788.4000000000001" stroke="#999" stroke-width="1.2"/>
<path d="M395.5,785.33h4M395.5,779.73h4M395.5,775.75h4M395.5,772.67h4M395.5,770.15h4M395.5,768.03h4M395.5,766.18h4M395.5,764.56h4M395.5,763.10h8M395.5,753.53h4M395.5,747.93h4M395.5,743.95h4M395.5,740.87h4M395.5,738.35h4M395.5,736.23h4M395.5,734.38h4M395.5,732.76h4M395.5,731.30h8M395.5,721.73h4M395.5,716.13h4M395.5,712.15h4M395.5,709.07h4M395.5,706.55h4M395.5,704.43h4M395.5,702.58h4M395.5,700.96h4M395.5,699.50h8M395.5,689.93h4M395.5,684.33h4M395.5,680.35h4M395.5,677.27h4M395.5,674.75h4M395.5,672.63h4M395.5,670.78h4M395.5,669.16h4M395.5,667.70h8M395.5,658.13h4M395.5,652.53h4M395.5,648.55h4M395.5,645.47h4M395.5,642.95h4M395.5,640.83h4M395.5,638.98h4M395.5,637.36h4M395.5,635.90h8M395.5,626.33h4M395.5,620.73h4M395.5,616.75h4M395.5,613.67h4M395.5,611.15h4M395.5,609.03h4M395.5,607.18h4M395.5,605.56h4M395.5,604.10h8M395.5,594.53h4M395.5,588.93h4M395.5,584.95h4M395.5,581.87h4M395.5,579.35h4M395.5,577.23h4M395.5,575.38h4M395.5,573.76h4M395.5,572.30h8M395.5,562.73h4" stroke="#111" stroke-width="1.2" fill="none"/>
<path d="M415.00,787.7v-8M447.50,787.7v-4.5M480.00,787.7v-8M512.50,787.7v-4.5M545.00,787.7v-8M577.50,787.7v-4.5M610.00,787.7v-8M642.50,787.7v-4.5" stroke="#444" stroke-width="0.9" fill="none"/>
<text transform="translate(415.0,811.2) scale(0.88,1)" text-anchor="middle" font-size="18" font-weight="bold" font-style="normal" fill="#000" >0</text>
<text transform="translate(480.0,811.2) scale(0.88,1)" text-anchor="middle" font-size="18" font-weight="bold" font-style="normal" fill="#000" >1</text>
<text transform="translate(545.0,811.2) scale(0.88,1)" text-anchor="middle" font-size="18" font-weight="bold" font-style="normal" fill="#000" >2</text>
<text transform="translate(610.0,811.2) scale(0.88,1)" text-anchor="middle" font-size="18" font-weight="bold" font-style="normal" fill="#000" >3</text>
<text transform="translate(675.0,811.2) scale(0.88,1)" text-anchor="middle" font-size="18" font-weight="bold" font-style="normal" fill="#000" >4</text>
<text transform="translate(386.5,611.1) scale(0.88,1)" text-anchor="end" font-size="18.5" font-weight="bold" fill="#000"><tspan>10</tspan><tspan dy="-10" font-size="10.5">1</tspan></text>
<text transform="translate(386.5,706.5) scale(0.88,1)" text-anchor="end" font-size="18.5" font-weight="bold" fill="#000"><tspan>10</tspan><tspan dy="-10" font-size="10.5">-2</tspan></text>
<text transform="translate(406.7,577.0) scale(0.89,1)" text-anchor="start" font-size="23" font-weight="bold" font-style="normal" fill="#000" >(f)</text>
<text transform="translate(671.3,764.8) scale(0.88,1)" text-anchor="end" font-size="24" font-weight="bold" font-style="normal" fill="#000" >CoO</text>
<text transform="translate(465.7,602.9) scale(0.95,1)" text-anchor="start" font-size="17.5" font-weight="bold" font-style="normal" fill="#1a1ad2" >RESET</text>
<text transform="translate(552.8,656.1) scale(0.95,1)" text-anchor="start" font-size="17.5" font-weight="bold" font-style="normal" fill="#d81818" >SET</text>
<text transform="translate(18,131.7) scale(0.97,1) rotate(-90)" text-anchor="middle" font-size="24" font-weight="bold"><tspan font-style="italic">I</tspan> (mA)</text>
<text transform="translate(18,408) scale(0.97,1) rotate(-90)" text-anchor="middle" font-size="24" font-weight="bold"><tspan font-style="italic">I</tspan> (mA)</text>
<text transform="translate(18,687) scale(0.97,1) rotate(-90)" text-anchor="middle" font-size="24" font-weight="bold"><tspan font-style="italic">I</tspan> (mA)</text>
<text transform="translate(204.2,842.5) scale(0.9,1)" text-anchor="middle" font-size="24" font-weight="bold" font-style="normal" fill="#000" ><tspan font-style="italic">V</tspan> (V)</text>
<text transform="translate(536.2,842.5) scale(0.9,1)" text-anchor="middle" font-size="24" font-weight="bold" font-style="normal" fill="#000" ><tspan font-style="italic">V</tspan> (V)</text>
</svg></body></html>
